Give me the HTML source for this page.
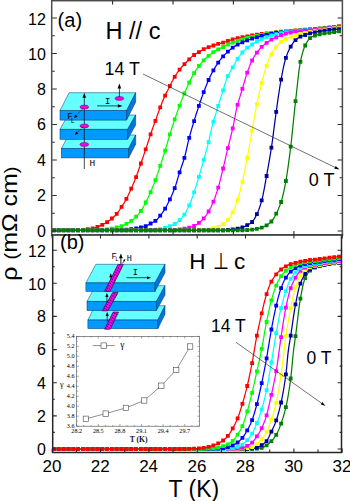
<!DOCTYPE html>
<html lang="en"><head><meta charset="utf-8"><title>Resistivity vs temperature</title>
<style>html,body{margin:0;padding:0;background:#fff;overflow:hidden}svg{display:block}</style></head>
<body>
<svg width="350" height="501" viewBox="0 0 350 501" style="display:block;font-family:'Liberation Sans',Arial,sans-serif">
<rect width="350" height="501" fill="#fff"/>
<defs>
<clipPath id="ca"><rect x="52.2" y="0.6" width="290.0" height="234.0"/></clipPath>
<clipPath id="cb"><rect x="52.2" y="234.6" width="290.0" height="218.00000000000003"/></clipPath>
</defs>
<g clip-path="url(#ca)">
<path d="M60.0,230.2 L60.5,230.2 L61.0,230.2 L61.5,230.2 L62.0,230.2 L62.5,230.2 L63.0,230.2 L63.5,230.2 L64.0,230.2 L64.5,230.2 L65.0,230.2 L65.5,230.2 L66.0,230.2 L66.5,230.2 L67.0,230.2 L67.5,230.2 L68.0,230.2 L68.5,230.2 L69.0,230.2 L69.5,230.2 L70.0,230.2 L70.5,230.1 L71.0,230.1 L71.5,230.1 L72.0,230.1 L72.5,230.1 L73.0,230.1 L73.5,230.1 L74.0,230.1 L74.5,230.1 L75.0,230.1 L75.5,230.1 L76.0,230.1 L76.5,230.1 L77.0,230.1 L77.5,230.0 L78.0,230.0 L78.5,230.0 L79.0,230.0 L79.5,230.0 L80.0,230.0 L80.5,230.0 L81.0,230.0 L81.5,229.9 L82.0,229.9 L82.5,229.9 L83.0,229.8 L83.5,229.8 L84.0,229.7 L84.5,229.6 L85.0,229.6 L85.5,229.5 L86.0,229.5 L86.5,229.4 L87.0,229.3 L87.5,229.3 L88.0,229.2 L88.5,229.1 L89.0,229.1 L89.5,229.0 L90.0,228.9 L90.5,228.8 L91.0,228.7 L91.5,228.6 L92.0,228.5 L92.5,228.4 L93.0,228.3 L93.5,228.2 L94.0,228.0 L94.5,227.9 L95.0,227.8 L95.5,227.6 L96.0,227.5 L96.5,227.3 L97.0,227.1 L97.5,226.9 L98.0,226.8 L98.5,226.6 L99.0,226.3 L99.5,226.1 L100.0,225.9 L100.5,225.7 L101.0,225.5 L101.5,225.2 L102.0,225.0 L102.5,224.7 L103.0,224.5 L103.5,224.2 L104.0,223.9 L104.5,223.7 L105.0,223.4 L105.5,223.1 L106.0,222.8 L106.5,222.5 L107.0,222.1 L107.5,221.8 L108.0,221.5 L108.5,221.1 L109.0,220.8 L109.5,220.4 L110.0,220.0 L110.5,219.7 L111.0,219.3 L111.5,218.9 L112.0,218.4 L112.5,218.0 L113.0,217.6 L113.5,217.1 L114.0,216.7 L114.5,216.2 L115.0,215.7 L115.5,215.2 L116.0,214.7 L116.5,214.1 L117.0,213.5 L117.5,212.9 L118.0,212.2 L118.5,211.5 L119.0,210.8 L119.5,210.0 L120.0,209.3 L120.5,208.5 L121.0,207.7 L121.5,206.9 L122.0,206.2 L122.5,205.4 L123.0,204.6 L123.5,203.9 L124.0,203.1 L124.5,202.2 L125.0,201.4 L125.5,200.5 L126.0,199.6 L126.5,198.7 L127.0,197.8 L127.5,196.8 L128.0,195.7 L128.5,194.7 L129.0,193.6 L129.5,192.5 L130.0,191.4 L130.5,190.3 L131.0,189.2 L131.5,188.1 L132.0,186.9 L132.5,185.8 L133.0,184.6 L133.5,183.4 L134.0,182.2 L134.5,181.0 L135.0,179.8 L135.5,178.5 L136.0,177.2 L136.5,175.9 L137.0,174.5 L137.5,173.2 L138.0,171.8 L138.5,170.3 L139.0,168.9 L139.5,167.5 L140.0,166.0 L140.5,164.6 L141.0,163.2 L141.5,161.7 L142.0,160.3 L142.5,158.8 L143.0,157.4 L143.5,155.9 L144.0,154.4 L144.5,153.0 L145.0,151.5 L145.5,150.0 L146.0,148.5 L146.5,147.0 L147.0,145.4 L147.5,143.9 L148.0,142.3 L148.5,140.7 L149.0,139.2 L149.5,137.6 L150.0,136.1 L150.5,134.6 L151.0,133.1 L151.5,131.7 L152.0,130.2 L152.5,128.8 L153.0,127.4 L153.5,126.0 L154.0,124.7 L154.5,123.3 L155.0,121.9 L155.5,120.5 L156.0,119.1 L156.5,117.7 L157.0,116.3 L157.5,114.9 L158.0,113.5 L158.5,112.1 L159.0,110.7 L159.5,109.3 L160.0,108.0 L160.5,106.7 L161.0,105.4 L161.5,104.1 L162.0,102.8 L162.5,101.5 L163.0,100.3 L163.5,99.1 L164.0,97.9 L164.5,96.8 L165.0,95.7 L165.5,94.6 L166.0,93.6 L166.5,92.6 L167.0,91.6 L167.5,90.7 L168.0,89.7 L168.5,88.8 L169.0,87.8 L169.5,86.8 L170.0,85.8 L170.5,84.8 L171.0,83.8 L171.5,82.8 L172.0,81.7 L172.5,80.8 L173.0,79.8 L173.5,78.9 L174.0,78.0 L174.5,77.2 L175.0,76.3 L175.5,75.5 L176.0,74.7 L176.5,74.0 L177.0,73.2 L177.5,72.5 L178.0,71.8 L178.5,71.1 L179.0,70.4 L179.5,69.8 L180.0,69.1 L180.5,68.5 L181.0,67.9 L181.5,67.3 L182.0,66.8 L182.5,66.2 L183.0,65.7 L183.5,65.1 L184.0,64.6 L184.5,64.1 L185.0,63.5 L185.5,63.0 L186.0,62.5 L186.5,62.0 L187.0,61.5 L187.5,61.1 L188.0,60.6 L188.5,60.1 L189.0,59.6 L189.5,59.1 L190.0,58.6 L190.5,58.1 L191.0,57.6 L191.5,57.1 L192.0,56.6 L192.5,56.2 L193.0,55.8 L193.5,55.4 L194.0,55.0 L194.5,54.7 L195.0,54.4 L195.5,54.1 L196.0,53.8 L196.5,53.5 L197.0,53.2 L197.5,52.9 L198.0,52.7 L198.5,52.4 L199.0,52.1 L199.5,51.7 L200.0,51.4 L200.5,51.1 L201.0,50.8 L201.5,50.5 L202.0,50.2 L202.5,49.9 L203.0,49.6 L203.5,49.4 L204.0,49.1 L204.5,48.9 L205.0,48.7 L205.5,48.5 L206.0,48.2 L206.5,48.0 L207.0,47.8 L207.5,47.7 L208.0,47.5 L208.5,47.3 L209.0,47.1 L209.5,46.9 L210.0,46.7 L210.5,46.5 L211.0,46.3 L211.5,46.1 L212.0,45.9 L212.5,45.8 L213.0,45.6 L213.5,45.4 L214.0,45.3 L214.5,45.1 L215.0,44.9 L215.5,44.8 L216.0,44.6 L216.5,44.5 L217.0,44.3 L217.5,44.2 L218.0,44.0 L218.5,43.9 L219.0,43.7 L219.5,43.6 L220.0,43.4 L220.5,43.3 L221.0,43.2 L221.5,43.0 L222.0,42.9 L222.5,42.7 L223.0,42.6 L223.5,42.4 L224.0,42.3 L224.5,42.1 L225.0,42.0 L225.5,41.8 L226.0,41.7 L226.5,41.5 L227.0,41.3 L227.5,41.2 L228.0,41.0 L228.5,40.8 L229.0,40.7 L229.5,40.5 L230.0,40.3 L230.5,40.2 L231.0,40.0 L231.5,39.8 L232.0,39.7 L232.5,39.5 L233.0,39.4 L233.5,39.2 L234.0,39.1 L234.5,39.0 L235.0,38.9 L235.5,38.7 L236.0,38.6 L236.5,38.5 L237.0,38.4 L237.5,38.3 L238.0,38.1 L238.5,38.0 L239.0,37.9 L239.5,37.8 L240.0,37.7 L240.5,37.6 L241.0,37.5 L241.5,37.4 L242.0,37.3 L242.5,37.2 L243.0,37.1 L243.5,37.0 L244.0,36.9 L244.5,36.8 L245.0,36.7 L245.5,36.6 L246.0,36.5 L246.5,36.4 L247.0,36.3 L247.5,36.2 L248.0,36.1 L248.5,36.0 L249.0,36.0 L249.5,35.9 L250.0,35.8 L250.5,35.7 L251.0,35.6 L251.5,35.5 L252.0,35.4 L252.5,35.3 L253.0,35.3 L253.5,35.2 L254.0,35.1 L254.5,35.0 L255.0,34.9 L255.5,34.9 L256.0,34.8 L256.5,34.7 L257.0,34.6 L257.5,34.6 L258.0,34.5 L258.5,34.4 L259.0,34.3 L259.5,34.3 L260.0,34.2 L260.5,34.1 L261.0,34.1 L261.5,34.0 L262.0,33.9 L262.5,33.9 L263.0,33.8 L263.5,33.7 L264.0,33.7 L264.5,33.6 L265.0,33.5 L265.5,33.5 L266.0,33.4 L266.5,33.3 L267.0,33.3 L267.5,33.2 L268.0,33.2 L268.5,33.1 L269.0,33.0 L269.5,33.0 L270.0,32.9 L270.5,32.9 L271.0,32.8 L271.5,32.8 L272.0,32.7 L272.5,32.6 L273.0,32.6 L273.5,32.5 L274.0,32.5 L274.5,32.4 L275.0,32.4 L275.5,32.3 L276.0,32.3 L276.5,32.2 L277.0,32.2 L277.5,32.1 L278.0,32.1 L278.5,32.0 L279.0,32.0 L279.5,31.9 L280.0,31.9 L280.5,31.8 L281.0,31.8 L281.5,31.7 L282.0,31.7 L282.5,31.6 L283.0,31.6 L283.5,31.5 L284.0,31.5 L284.5,31.4 L285.0,31.4 L285.5,31.3 L286.0,31.3 L286.5,31.2 L287.0,31.2 L287.5,31.1 L288.0,31.1 L288.5,31.0 L289.0,31.0 L289.5,30.9 L290.0,30.9 L290.5,30.9 L291.0,30.8 L291.5,30.8 L292.0,30.7 L292.5,30.7 L293.0,30.6 L293.5,30.6 L294.0,30.5 L294.5,30.5 L295.0,30.5 L295.5,30.4 L296.0,30.4 L296.5,30.3 L297.0,30.3 L297.5,30.2 L298.0,30.2 L298.5,30.2 L299.0,30.1 L299.5,30.1 L300.0,30.0 L300.5,30.0 L301.0,30.0 L301.5,29.9 L302.0,29.9 L302.5,29.8 L303.0,29.8 L303.5,29.7 L304.0,29.7 L304.5,29.7 L305.0,29.6 L305.5,29.6 L306.0,29.5 L306.5,29.5 L307.0,29.5 L307.5,29.4 L308.0,29.4 L308.5,29.3 L309.0,29.3 L309.5,29.2 L310.0,29.2 L310.5,29.2 L311.0,29.1 L311.5,29.1 L312.0,29.0 L312.5,29.0 L313.0,28.9 L313.5,28.9 L314.0,28.9 L314.5,28.8 L315.0,28.8 L315.5,28.7 L316.0,28.7 L316.5,28.6 L317.0,28.6 L317.5,28.5 L318.0,28.5 L318.5,28.4 L319.0,28.4 L319.5,28.4 L320.0,28.3 L320.5,28.3 L321.0,28.2 L321.5,28.2 L322.0,28.1 L322.5,28.1 L323.0,28.0 L323.5,28.0 L324.0,27.9 L324.5,27.9 L325.0,27.8 L325.5,27.8 L326.0,27.7 L326.5,27.7 L327.0,27.6 L327.5,27.6 L328.0,27.5 L328.5,27.5 L329.0,27.4 L329.5,27.4 L330.0,27.3 L330.5,27.2 L331.0,27.2 L331.5,27.1 L332.0,27.1 L332.5,27.0 L333.0,26.9 L333.5,26.9 L334.0,26.8 L334.5,26.7 L335.0,26.7 L335.5,26.6 L336.0,26.5 L336.5,26.5 L337.0,26.4 L337.5,26.3 L338.0,26.2 L338.5,26.2 L339.0,26.1 L339.5,26.0 L340.0,26.0 L340.5,25.9 L341.0,25.8" fill="none" stroke="#ff0000" stroke-width="1.25" stroke-linejoin="round"/>
<path d="M52.0,228.3h3.8v3.8h-3.8zM56.8,228.3h3.8v3.8h-3.8zM61.7,228.3h3.8v3.8h-3.8zM66.5,228.3h3.8v3.8h-3.8zM71.3,228.2h3.8v3.8h-3.8zM76.2,228.1h3.8v3.8h-3.8zM81.0,227.9h3.8v3.8h-3.8zM85.8,227.3h3.8v3.8h-3.8zM90.7,226.5h3.8v3.8h-3.8zM95.5,225.1h3.8v3.8h-3.8zM100.3,223.0h3.8v3.8h-3.8zM105.2,220.2h3.8v3.8h-3.8zM110.0,216.6h3.8v3.8h-3.8zM114.8,212.0h3.8v3.8h-3.8zM119.7,205.0h3.8v3.8h-3.8zM124.5,197.0h3.8v3.8h-3.8zM129.3,186.8h3.8v3.8h-3.8zM134.2,175.2h3.8v3.8h-3.8zM139.0,161.6h3.8v3.8h-3.8zM143.8,147.4h3.8v3.8h-3.8zM148.7,132.5h3.8v3.8h-3.8zM153.5,118.9h3.8v3.8h-3.8zM158.3,105.5h3.8v3.8h-3.8zM163.2,93.7h3.8v3.8h-3.8zM168.0,84.1h3.8v3.8h-3.8zM172.8,74.9h3.8v3.8h-3.8zM177.7,67.8h3.8v3.8h-3.8zM182.5,62.3h3.8v3.8h-3.8zM187.3,57.5h3.8v3.8h-3.8zM192.2,53.1h3.8v3.8h-3.8zM197.0,50.2h3.8v3.8h-3.8zM201.8,47.3h3.8v3.8h-3.8zM206.7,45.3h3.8v3.8h-3.8zM211.5,43.6h3.8v3.8h-3.8zM216.3,42.0h3.8v3.8h-3.8zM221.2,40.7h3.8v3.8h-3.8zM226.0,39.1h3.8v3.8h-3.8zM230.8,37.5h3.8v3.8h-3.8zM235.7,36.3h3.8v3.8h-3.8zM240.5,35.3h3.8v3.8h-3.8zM245.3,34.4h3.8v3.8h-3.8zM250.2,33.5h3.8v3.8h-3.8zM255.0,32.8h3.8v3.8h-3.8zM259.8,32.1h3.8v3.8h-3.8zM264.7,31.4h3.8v3.8h-3.8zM269.5,30.9h3.8v3.8h-3.8zM274.3,30.3h3.8v3.8h-3.8zM279.2,29.8h3.8v3.8h-3.8zM284.0,29.4h3.8v3.8h-3.8zM288.8,28.9h3.8v3.8h-3.8zM293.6,28.5h3.8v3.8h-3.8zM298.5,28.1h3.8v3.8h-3.8zM303.3,27.7h3.8v3.8h-3.8zM308.1,27.3h3.8v3.8h-3.8zM313.0,26.9h3.8v3.8h-3.8zM317.8,26.4h3.8v3.8h-3.8zM322.6,26.0h3.8v3.8h-3.8zM327.5,25.5h3.8v3.8h-3.8zM332.3,24.9h3.8v3.8h-3.8zM337.1,24.2h3.8v3.8h-3.8z" fill="#ff0000"/>
</g>
<g clip-path="url(#ca)">
<path d="M60.0,230.2 L60.5,230.2 L61.0,230.2 L61.5,230.2 L62.0,230.2 L62.5,230.2 L63.0,230.2 L63.5,230.2 L64.0,230.2 L64.5,230.2 L65.0,230.2 L65.5,230.2 L66.0,230.2 L66.5,230.2 L67.0,230.2 L67.5,230.2 L68.0,230.2 L68.5,230.2 L69.0,230.2 L69.5,230.2 L70.0,230.2 L70.5,230.2 L71.0,230.2 L71.5,230.2 L72.0,230.2 L72.5,230.2 L73.0,230.2 L73.5,230.2 L74.0,230.2 L74.5,230.2 L75.0,230.2 L75.5,230.2 L76.0,230.2 L76.5,230.2 L77.0,230.2 L77.5,230.2 L78.0,230.2 L78.5,230.2 L79.0,230.2 L79.5,230.2 L80.0,230.2 L80.5,230.2 L81.0,230.2 L81.5,230.2 L82.0,230.1 L82.5,230.1 L83.0,230.1 L83.5,230.1 L84.0,230.1 L84.5,230.1 L85.0,230.1 L85.5,230.1 L86.0,230.1 L86.5,230.1 L87.0,230.1 L87.5,230.1 L88.0,230.1 L88.5,230.1 L89.0,230.1 L89.5,230.1 L90.0,230.1 L90.5,230.1 L91.0,230.1 L91.5,230.1 L92.0,230.1 L92.5,230.1 L93.0,230.1 L93.5,230.1 L94.0,230.1 L94.5,230.1 L95.0,230.1 L95.5,230.0 L96.0,230.0 L96.5,230.0 L97.0,230.0 L97.5,230.0 L98.0,230.0 L98.5,230.0 L99.0,230.0 L99.5,230.0 L100.0,230.0 L100.5,230.0 L101.0,230.0 L101.5,230.0 L102.0,229.9 L102.5,229.9 L103.0,229.9 L103.5,229.8 L104.0,229.8 L104.5,229.7 L105.0,229.7 L105.5,229.6 L106.0,229.6 L106.5,229.5 L107.0,229.5 L107.5,229.4 L108.0,229.4 L108.5,229.3 L109.0,229.2 L109.5,229.1 L110.0,229.0 L110.5,228.9 L111.0,228.8 L111.5,228.7 L112.0,228.6 L112.5,228.5 L113.0,228.4 L113.5,228.3 L114.0,228.2 L114.5,228.0 L115.0,227.9 L115.5,227.8 L116.0,227.6 L116.5,227.5 L117.0,227.4 L117.5,227.2 L118.0,227.1 L118.5,227.0 L119.0,226.9 L119.5,226.7 L120.0,226.6 L120.5,226.4 L121.0,226.3 L121.5,226.1 L122.0,225.9 L122.5,225.7 L123.0,225.5 L123.5,225.3 L124.0,225.1 L124.5,224.8 L125.0,224.6 L125.5,224.3 L126.0,224.1 L126.5,223.8 L127.0,223.6 L127.5,223.3 L128.0,223.0 L128.5,222.7 L129.0,222.4 L129.5,222.1 L130.0,221.8 L130.5,221.4 L131.0,221.1 L131.5,220.7 L132.0,220.3 L132.5,219.9 L133.0,219.5 L133.5,219.1 L134.0,218.6 L134.5,218.2 L135.0,217.7 L135.5,217.2 L136.0,216.7 L136.5,216.2 L137.0,215.7 L137.5,215.2 L138.0,214.6 L138.5,214.1 L139.0,213.5 L139.5,212.8 L140.0,212.2 L140.5,211.5 L141.0,210.8 L141.5,210.1 L142.0,209.3 L142.5,208.4 L143.0,207.6 L143.5,206.7 L144.0,205.8 L144.5,204.8 L145.0,203.9 L145.5,202.9 L146.0,202.0 L146.5,201.0 L147.0,199.9 L147.5,198.9 L148.0,197.8 L148.5,196.7 L149.0,195.6 L149.5,194.5 L150.0,193.4 L150.5,192.3 L151.0,191.1 L151.5,189.9 L152.0,188.7 L152.5,187.5 L153.0,186.3 L153.5,185.0 L154.0,183.8 L154.5,182.5 L155.0,181.1 L155.5,179.8 L156.0,178.4 L156.5,177.0 L157.0,175.5 L157.5,174.1 L158.0,172.6 L158.5,171.1 L159.0,169.6 L159.5,168.1 L160.0,166.6 L160.5,165.1 L161.0,163.6 L161.5,162.0 L162.0,160.5 L162.5,158.9 L163.0,157.3 L163.5,155.8 L164.0,154.2 L164.5,152.5 L165.0,150.9 L165.5,149.3 L166.0,147.6 L166.5,145.9 L167.0,144.2 L167.5,142.4 L168.0,140.7 L168.5,139.0 L169.0,137.3 L169.5,135.7 L170.0,134.1 L170.5,132.5 L171.0,130.9 L171.5,129.3 L172.0,127.7 L172.5,126.2 L173.0,124.6 L173.5,123.1 L174.0,121.6 L174.5,120.1 L175.0,118.6 L175.5,117.1 L176.0,115.6 L176.5,114.2 L177.0,112.7 L177.5,111.3 L178.0,109.9 L178.5,108.5 L179.0,107.1 L179.5,105.7 L180.0,104.4 L180.5,103.1 L181.0,101.8 L181.5,100.5 L182.0,99.3 L182.5,98.0 L183.0,96.8 L183.5,95.6 L184.0,94.4 L184.5,93.2 L185.0,92.0 L185.5,90.8 L186.0,89.7 L186.5,88.5 L187.0,87.4 L187.5,86.3 L188.0,85.1 L188.5,84.1 L189.0,83.0 L189.5,82.0 L190.0,80.9 L190.5,79.9 L191.0,78.9 L191.5,77.9 L192.0,76.9 L192.5,76.0 L193.0,75.1 L193.5,74.2 L194.0,73.3 L194.5,72.5 L195.0,71.7 L195.5,70.9 L196.0,70.1 L196.5,69.4 L197.0,68.6 L197.5,67.9 L198.0,67.2 L198.5,66.5 L199.0,65.9 L199.5,65.2 L200.0,64.6 L200.5,63.9 L201.0,63.3 L201.5,62.7 L202.0,62.1 L202.5,61.6 L203.0,61.0 L203.5,60.5 L204.0,60.0 L204.5,59.5 L205.0,59.0 L205.5,58.5 L206.0,58.1 L206.5,57.6 L207.0,57.2 L207.5,56.8 L208.0,56.3 L208.5,55.9 L209.0,55.5 L209.5,55.1 L210.0,54.7 L210.5,54.3 L211.0,53.9 L211.5,53.5 L212.0,53.1 L212.5,52.7 L213.0,52.4 L213.5,52.1 L214.0,51.7 L214.5,51.4 L215.0,51.1 L215.5,50.8 L216.0,50.5 L216.5,50.2 L217.0,49.9 L217.5,49.7 L218.0,49.4 L218.5,49.1 L219.0,48.9 L219.5,48.6 L220.0,48.4 L220.5,48.2 L221.0,47.9 L221.5,47.7 L222.0,47.5 L222.5,47.2 L223.0,47.0 L223.5,46.8 L224.0,46.5 L224.5,46.2 L225.0,46.0 L225.5,45.7 L226.0,45.5 L226.5,45.2 L227.0,45.0 L227.5,44.7 L228.0,44.5 L228.5,44.3 L229.0,44.1 L229.5,43.9 L230.0,43.6 L230.5,43.4 L231.0,43.2 L231.5,43.0 L232.0,42.8 L232.5,42.7 L233.0,42.5 L233.5,42.3 L234.0,42.1 L234.5,41.9 L235.0,41.7 L235.5,41.6 L236.0,41.4 L236.5,41.2 L237.0,41.0 L237.5,40.9 L238.0,40.7 L238.5,40.5 L239.0,40.4 L239.5,40.2 L240.0,40.0 L240.5,39.9 L241.0,39.7 L241.5,39.6 L242.0,39.4 L242.5,39.3 L243.0,39.1 L243.5,39.0 L244.0,38.8 L244.5,38.7 L245.0,38.6 L245.5,38.4 L246.0,38.3 L246.5,38.2 L247.0,38.0 L247.5,37.9 L248.0,37.8 L248.5,37.7 L249.0,37.5 L249.5,37.4 L250.0,37.3 L250.5,37.2 L251.0,37.1 L251.5,36.9 L252.0,36.8 L252.5,36.7 L253.0,36.6 L253.5,36.5 L254.0,36.4 L254.5,36.3 L255.0,36.2 L255.5,36.1 L256.0,36.0 L256.5,35.9 L257.0,35.8 L257.5,35.7 L258.0,35.6 L258.5,35.5 L259.0,35.4 L259.5,35.3 L260.0,35.2 L260.5,35.1 L261.0,35.0 L261.5,34.9 L262.0,34.8 L262.5,34.7 L263.0,34.6 L263.5,34.5 L264.0,34.4 L264.5,34.3 L265.0,34.2 L265.5,34.2 L266.0,34.1 L266.5,34.0 L267.0,33.9 L267.5,33.8 L268.0,33.7 L268.5,33.7 L269.0,33.6 L269.5,33.5 L270.0,33.4 L270.5,33.3 L271.0,33.3 L271.5,33.2 L272.0,33.1 L272.5,33.0 L273.0,33.0 L273.5,32.9 L274.0,32.8 L274.5,32.8 L275.0,32.7 L275.5,32.6 L276.0,32.6 L276.5,32.5 L277.0,32.4 L277.5,32.4 L278.0,32.3 L278.5,32.3 L279.0,32.2 L279.5,32.1 L280.0,32.1 L280.5,32.0 L281.0,32.0 L281.5,31.9 L282.0,31.9 L282.5,31.8 L283.0,31.8 L283.5,31.7 L284.0,31.7 L284.5,31.6 L285.0,31.6 L285.5,31.5 L286.0,31.5 L286.5,31.4 L287.0,31.4 L287.5,31.3 L288.0,31.3 L288.5,31.2 L289.0,31.2 L289.5,31.1 L290.0,31.1 L290.5,31.1 L291.0,31.0 L291.5,31.0 L292.0,30.9 L292.5,30.9 L293.0,30.8 L293.5,30.8 L294.0,30.8 L294.5,30.7 L295.0,30.7 L295.5,30.6 L296.0,30.6 L296.5,30.6 L297.0,30.5 L297.5,30.5 L298.0,30.4 L298.5,30.4 L299.0,30.4 L299.5,30.3 L300.0,30.3 L300.5,30.3 L301.0,30.2 L301.5,30.2 L302.0,30.2 L302.5,30.1 L303.0,30.1 L303.5,30.1 L304.0,30.0 L304.5,30.0 L305.0,29.9 L305.5,29.9 L306.0,29.9 L306.5,29.8 L307.0,29.8 L307.5,29.8 L308.0,29.7 L308.5,29.7 L309.0,29.6 L309.5,29.6 L310.0,29.6 L310.5,29.5 L311.0,29.5 L311.5,29.5 L312.0,29.4 L312.5,29.4 L313.0,29.3 L313.5,29.3 L314.0,29.2 L314.5,29.2 L315.0,29.2 L315.5,29.1 L316.0,29.1 L316.5,29.0 L317.0,29.0 L317.5,28.9 L318.0,28.9 L318.5,28.8 L319.0,28.8 L319.5,28.7 L320.0,28.7 L320.5,28.7 L321.0,28.6 L321.5,28.6 L322.0,28.5 L322.5,28.5 L323.0,28.4 L323.5,28.4 L324.0,28.3 L324.5,28.3 L325.0,28.2 L325.5,28.1 L326.0,28.1 L326.5,28.0 L327.0,28.0 L327.5,27.9 L328.0,27.9 L328.5,27.8 L329.0,27.8 L329.5,27.7 L330.0,27.7 L330.5,27.6 L331.0,27.6 L331.5,27.5 L332.0,27.4 L332.5,27.4 L333.0,27.3 L333.5,27.3 L334.0,27.2 L334.5,27.2 L335.0,27.1 L335.5,27.1 L336.0,27.0 L336.5,26.9 L337.0,26.9 L337.5,26.8 L338.0,26.8 L338.5,26.7 L339.0,26.6 L339.5,26.6 L340.0,26.5 L340.5,26.5 L341.0,26.4" fill="none" stroke="#00ff00" stroke-width="1.25" stroke-linejoin="round"/>
<path d="M52.0,228.3h3.8v3.8h-3.8zM56.8,228.3h3.8v3.8h-3.8zM61.7,228.3h3.8v3.8h-3.8zM66.5,228.3h3.8v3.8h-3.8zM71.3,228.3h3.8v3.8h-3.8zM76.2,228.3h3.8v3.8h-3.8zM81.0,228.2h3.8v3.8h-3.8zM85.8,228.2h3.8v3.8h-3.8zM90.7,228.2h3.8v3.8h-3.8zM95.5,228.1h3.8v3.8h-3.8zM100.3,228.0h3.8v3.8h-3.8zM105.2,227.6h3.8v3.8h-3.8zM110.0,226.8h3.8v3.8h-3.8zM114.8,225.5h3.8v3.8h-3.8zM119.7,224.2h3.8v3.8h-3.8zM124.5,222.0h3.8v3.8h-3.8zM129.3,219.0h3.8v3.8h-3.8zM134.2,214.8h3.8v3.8h-3.8zM139.0,209.1h3.8v3.8h-3.8zM143.8,200.6h3.8v3.8h-3.8zM148.7,190.2h3.8v3.8h-3.8zM153.5,178.2h3.8v3.8h-3.8zM158.3,164.0h3.8v3.8h-3.8zM163.2,148.8h3.8v3.8h-3.8zM168.0,132.5h3.8v3.8h-3.8zM172.8,117.5h3.8v3.8h-3.8zM177.7,103.7h3.8v3.8h-3.8zM182.5,91.6h3.8v3.8h-3.8zM187.3,80.6h3.8v3.8h-3.8zM192.2,71.3h3.8v3.8h-3.8zM197.0,64.1h3.8v3.8h-3.8zM201.8,58.4h3.8v3.8h-3.8zM206.7,54.0h3.8v3.8h-3.8zM211.5,50.2h3.8v3.8h-3.8zM216.3,47.4h3.8v3.8h-3.8zM221.2,45.1h3.8v3.8h-3.8zM226.0,42.6h3.8v3.8h-3.8zM230.8,40.7h3.8v3.8h-3.8zM235.7,38.9h3.8v3.8h-3.8zM240.5,37.4h3.8v3.8h-3.8zM245.3,36.1h3.8v3.8h-3.8zM250.2,34.9h3.8v3.8h-3.8zM255.0,33.9h3.8v3.8h-3.8zM259.8,32.9h3.8v3.8h-3.8zM264.7,32.1h3.8v3.8h-3.8zM269.5,31.3h3.8v3.8h-3.8zM274.3,30.6h3.8v3.8h-3.8zM279.2,30.1h3.8v3.8h-3.8zM284.0,29.6h3.8v3.8h-3.8zM288.8,29.1h3.8v3.8h-3.8zM293.6,28.7h3.8v3.8h-3.8zM298.5,28.4h3.8v3.8h-3.8zM303.3,28.0h3.8v3.8h-3.8zM308.1,27.7h3.8v3.8h-3.8zM313.0,27.3h3.8v3.8h-3.8zM317.8,26.8h3.8v3.8h-3.8zM322.6,26.3h3.8v3.8h-3.8zM327.5,25.8h3.8v3.8h-3.8zM332.3,25.3h3.8v3.8h-3.8zM337.1,24.7h3.8v3.8h-3.8z" fill="#00ff00"/>
</g>
<g clip-path="url(#ca)">
<path d="M60.0,230.2 L60.5,230.2 L61.0,230.2 L61.5,230.2 L62.0,230.2 L62.5,230.2 L63.0,230.2 L63.5,230.2 L64.0,230.2 L64.5,230.2 L65.0,230.2 L65.5,230.2 L66.0,230.2 L66.5,230.2 L67.0,230.2 L67.5,230.2 L68.0,230.2 L68.5,230.2 L69.0,230.2 L69.5,230.2 L70.0,230.2 L70.5,230.2 L71.0,230.2 L71.5,230.2 L72.0,230.2 L72.5,230.2 L73.0,230.2 L73.5,230.2 L74.0,230.2 L74.5,230.2 L75.0,230.2 L75.5,230.2 L76.0,230.2 L76.5,230.2 L77.0,230.2 L77.5,230.2 L78.0,230.2 L78.5,230.2 L79.0,230.2 L79.5,230.2 L80.0,230.2 L80.5,230.2 L81.0,230.2 L81.5,230.2 L82.0,230.2 L82.5,230.2 L83.0,230.2 L83.5,230.2 L84.0,230.2 L84.5,230.2 L85.0,230.2 L85.5,230.2 L86.0,230.2 L86.5,230.2 L87.0,230.2 L87.5,230.2 L88.0,230.2 L88.5,230.2 L89.0,230.2 L89.5,230.2 L90.0,230.2 L90.5,230.2 L91.0,230.2 L91.5,230.2 L92.0,230.2 L92.5,230.2 L93.0,230.2 L93.5,230.2 L94.0,230.1 L94.5,230.1 L95.0,230.1 L95.5,230.1 L96.0,230.1 L96.5,230.1 L97.0,230.1 L97.5,230.1 L98.0,230.1 L98.5,230.1 L99.0,230.1 L99.5,230.1 L100.0,230.1 L100.5,230.1 L101.0,230.1 L101.5,230.1 L102.0,230.1 L102.5,230.1 L103.0,230.1 L103.5,230.1 L104.0,230.1 L104.5,230.1 L105.0,230.1 L105.5,230.1 L106.0,230.1 L106.5,230.1 L107.0,230.1 L107.5,230.1 L108.0,230.1 L108.5,230.1 L109.0,230.1 L109.5,230.1 L110.0,230.1 L110.5,230.1 L111.0,230.1 L111.5,230.1 L112.0,230.1 L112.5,230.1 L113.0,230.1 L113.5,230.0 L114.0,230.0 L114.5,230.0 L115.0,230.0 L115.5,230.0 L116.0,230.0 L116.5,230.0 L117.0,230.0 L117.5,230.0 L118.0,230.0 L118.5,230.0 L119.0,230.0 L119.5,230.0 L120.0,230.0 L120.5,230.0 L121.0,230.0 L121.5,230.0 L122.0,229.9 L122.5,229.9 L123.0,229.9 L123.5,229.8 L124.0,229.8 L124.5,229.7 L125.0,229.7 L125.5,229.6 L126.0,229.6 L126.5,229.5 L127.0,229.5 L127.5,229.4 L128.0,229.4 L128.5,229.4 L129.0,229.3 L129.5,229.3 L130.0,229.2 L130.5,229.2 L131.0,229.1 L131.5,229.1 L132.0,229.0 L132.5,229.0 L133.0,228.9 L133.5,228.8 L134.0,228.8 L134.5,228.7 L135.0,228.6 L135.5,228.6 L136.0,228.5 L136.5,228.4 L137.0,228.3 L137.5,228.2 L138.0,228.1 L138.5,228.0 L139.0,227.8 L139.5,227.7 L140.0,227.6 L140.5,227.5 L141.0,227.4 L141.5,227.3 L142.0,227.2 L142.5,227.0 L143.0,226.9 L143.5,226.8 L144.0,226.7 L144.5,226.5 L145.0,226.4 L145.5,226.2 L146.0,226.0 L146.5,225.8 L147.0,225.6 L147.5,225.3 L148.0,225.0 L148.5,224.8 L149.0,224.5 L149.5,224.2 L150.0,223.9 L150.5,223.6 L151.0,223.3 L151.5,223.0 L152.0,222.8 L152.5,222.5 L153.0,222.3 L153.5,222.0 L154.0,221.8 L154.5,221.5 L155.0,221.1 L155.5,220.8 L156.0,220.4 L156.5,220.0 L157.0,219.5 L157.5,219.0 L158.0,218.4 L158.5,217.8 L159.0,217.2 L159.5,216.5 L160.0,215.9 L160.5,215.2 L161.0,214.6 L161.5,213.9 L162.0,213.3 L162.5,212.6 L163.0,211.8 L163.5,211.1 L164.0,210.4 L164.5,209.6 L165.0,208.8 L165.5,207.9 L166.0,207.1 L166.5,206.1 L167.0,205.2 L167.5,204.2 L168.0,203.2 L168.5,202.2 L169.0,201.2 L169.5,200.2 L170.0,199.1 L170.5,198.0 L171.0,197.0 L171.5,195.9 L172.0,194.8 L172.5,193.7 L173.0,192.5 L173.5,191.3 L174.0,190.1 L174.5,188.8 L175.0,187.4 L175.5,186.0 L176.0,184.4 L176.5,182.8 L177.0,181.1 L177.5,179.3 L178.0,177.6 L178.5,175.9 L179.0,174.2 L179.5,172.6 L180.0,171.0 L180.5,169.6 L181.0,168.1 L181.5,166.7 L182.0,165.2 L182.5,163.8 L183.0,162.3 L183.5,160.8 L184.0,159.2 L184.5,157.5 L185.0,155.6 L185.5,153.6 L186.0,151.5 L186.5,149.3 L187.0,147.1 L187.5,144.9 L188.0,142.7 L188.5,140.6 L189.0,138.6 L189.5,136.7 L190.0,134.9 L190.5,133.1 L191.0,131.4 L191.5,129.6 L192.0,127.9 L192.5,126.3 L193.0,124.6 L193.5,122.9 L194.0,121.3 L194.5,119.6 L195.0,118.0 L195.5,116.4 L196.0,114.8 L196.5,113.3 L197.0,111.7 L197.5,110.1 L198.0,108.6 L198.5,107.1 L199.0,105.6 L199.5,104.1 L200.0,102.6 L200.5,101.2 L201.0,99.7 L201.5,98.3 L202.0,96.9 L202.5,95.5 L203.0,94.1 L203.5,92.7 L204.0,91.4 L204.5,90.1 L205.0,88.8 L205.5,87.5 L206.0,86.2 L206.5,84.9 L207.0,83.7 L207.5,82.5 L208.0,81.3 L208.5,80.2 L209.0,79.1 L209.5,78.0 L210.0,76.9 L210.5,75.9 L211.0,74.8 L211.5,73.8 L212.0,72.9 L212.5,71.9 L213.0,71.0 L213.5,70.1 L214.0,69.2 L214.5,68.4 L215.0,67.6 L215.5,66.8 L216.0,66.0 L216.5,65.2 L217.0,64.5 L217.5,63.7 L218.0,63.0 L218.5,62.3 L219.0,61.6 L219.5,60.9 L220.0,60.2 L220.5,59.6 L221.0,58.9 L221.5,58.3 L222.0,57.7 L222.5,57.1 L223.0,56.5 L223.5,55.9 L224.0,55.4 L224.5,54.9 L225.0,54.4 L225.5,53.9 L226.0,53.4 L226.5,52.9 L227.0,52.4 L227.5,52.0 L228.0,51.5 L228.5,51.1 L229.0,50.6 L229.5,50.2 L230.0,49.8 L230.5,49.3 L231.0,48.9 L231.5,48.5 L232.0,48.2 L232.5,47.8 L233.0,47.4 L233.5,47.1 L234.0,46.7 L234.5,46.4 L235.0,46.1 L235.5,45.8 L236.0,45.5 L236.5,45.2 L237.0,44.9 L237.5,44.6 L238.0,44.3 L238.5,44.1 L239.0,43.8 L239.5,43.6 L240.0,43.4 L240.5,43.1 L241.0,42.9 L241.5,42.7 L242.0,42.5 L242.5,42.2 L243.0,42.0 L243.5,41.8 L244.0,41.6 L244.5,41.4 L245.0,41.1 L245.5,40.9 L246.0,40.7 L246.5,40.5 L247.0,40.3 L247.5,40.2 L248.0,40.0 L248.5,39.8 L249.0,39.6 L249.5,39.5 L250.0,39.3 L250.5,39.1 L251.0,39.0 L251.5,38.8 L252.0,38.7 L252.5,38.5 L253.0,38.4 L253.5,38.2 L254.0,38.1 L254.5,37.9 L255.0,37.8 L255.5,37.6 L256.0,37.5 L256.5,37.4 L257.0,37.2 L257.5,37.1 L258.0,37.0 L258.5,36.8 L259.0,36.7 L259.5,36.5 L260.0,36.4 L260.5,36.3 L261.0,36.2 L261.5,36.0 L262.0,35.9 L262.5,35.8 L263.0,35.6 L263.5,35.5 L264.0,35.4 L264.5,35.3 L265.0,35.2 L265.5,35.0 L266.0,34.9 L266.5,34.8 L267.0,34.7 L267.5,34.6 L268.0,34.5 L268.5,34.4 L269.0,34.3 L269.5,34.2 L270.0,34.1 L270.5,33.9 L271.0,33.8 L271.5,33.7 L272.0,33.6 L272.5,33.5 L273.0,33.5 L273.5,33.4 L274.0,33.3 L274.5,33.2 L275.0,33.1 L275.5,33.0 L276.0,33.0 L276.5,32.9 L277.0,32.8 L277.5,32.7 L278.0,32.7 L278.5,32.6 L279.0,32.6 L279.5,32.5 L280.0,32.4 L280.5,32.4 L281.0,32.3 L281.5,32.3 L282.0,32.2 L282.5,32.1 L283.0,32.1 L283.5,32.0 L284.0,32.0 L284.5,31.9 L285.0,31.9 L285.5,31.8 L286.0,31.8 L286.5,31.7 L287.0,31.7 L287.5,31.6 L288.0,31.6 L288.5,31.5 L289.0,31.5 L289.5,31.4 L290.0,31.4 L290.5,31.4 L291.0,31.3 L291.5,31.3 L292.0,31.2 L292.5,31.2 L293.0,31.1 L293.5,31.1 L294.0,31.0 L294.5,31.0 L295.0,31.0 L295.5,30.9 L296.0,30.9 L296.5,30.9 L297.0,30.8 L297.5,30.8 L298.0,30.7 L298.5,30.7 L299.0,30.7 L299.5,30.6 L300.0,30.6 L300.5,30.6 L301.0,30.5 L301.5,30.5 L302.0,30.4 L302.5,30.4 L303.0,30.4 L303.5,30.3 L304.0,30.3 L304.5,30.3 L305.0,30.2 L305.5,30.2 L306.0,30.2 L306.5,30.1 L307.0,30.1 L307.5,30.1 L308.0,30.0 L308.5,30.0 L309.0,29.9 L309.5,29.9 L310.0,29.9 L310.5,29.8 L311.0,29.8 L311.5,29.7 L312.0,29.7 L312.5,29.7 L313.0,29.6 L313.5,29.6 L314.0,29.5 L314.5,29.5 L315.0,29.5 L315.5,29.4 L316.0,29.4 L316.5,29.3 L317.0,29.3 L317.5,29.2 L318.0,29.2 L318.5,29.1 L319.0,29.1 L319.5,29.1 L320.0,29.0 L320.5,29.0 L321.0,28.9 L321.5,28.9 L322.0,28.8 L322.5,28.8 L323.0,28.7 L323.5,28.7 L324.0,28.6 L324.5,28.6 L325.0,28.5 L325.5,28.5 L326.0,28.4 L326.5,28.4 L327.0,28.3 L327.5,28.3 L328.0,28.2 L328.5,28.2 L329.0,28.1 L329.5,28.1 L330.0,28.0 L330.5,28.0 L331.0,27.9 L331.5,27.9 L332.0,27.8 L332.5,27.7 L333.0,27.7 L333.5,27.6 L334.0,27.6 L334.5,27.5 L335.0,27.5 L335.5,27.4 L336.0,27.4 L336.5,27.3 L337.0,27.3 L337.5,27.2 L338.0,27.1 L338.5,27.1 L339.0,27.0 L339.5,27.0 L340.0,26.9 L340.5,26.9 L341.0,26.8" fill="none" stroke="#0000ff" stroke-width="1.25" stroke-linejoin="round"/>
<path d="M52.0,228.3h3.8v3.8h-3.8zM56.8,228.3h3.8v3.8h-3.8zM61.7,228.3h3.8v3.8h-3.8zM66.5,228.3h3.8v3.8h-3.8zM71.3,228.3h3.8v3.8h-3.8zM76.2,228.3h3.8v3.8h-3.8zM81.0,228.3h3.8v3.8h-3.8zM85.8,228.3h3.8v3.8h-3.8zM90.7,228.3h3.8v3.8h-3.8zM95.5,228.2h3.8v3.8h-3.8zM100.3,228.2h3.8v3.8h-3.8zM105.2,228.2h3.8v3.8h-3.8zM110.0,228.2h3.8v3.8h-3.8zM114.8,228.1h3.8v3.8h-3.8zM119.7,228.1h3.8v3.8h-3.8zM124.5,227.7h3.8v3.8h-3.8zM129.3,227.2h3.8v3.8h-3.8zM134.2,226.6h3.8v3.8h-3.8zM139.0,225.5h3.8v3.8h-3.8zM143.8,224.2h3.8v3.8h-3.8zM148.7,221.6h3.8v3.8h-3.8zM153.5,219.0h3.8v3.8h-3.8zM158.3,213.7h3.8v3.8h-3.8zM163.2,206.8h3.8v3.8h-3.8zM168.0,197.4h3.8v3.8h-3.8zM172.8,186.3h3.8v3.8h-3.8zM177.7,170.5h3.8v3.8h-3.8zM182.5,155.9h3.8v3.8h-3.8zM187.3,135.9h3.8v3.8h-3.8zM192.2,119.2h3.8v3.8h-3.8zM197.0,104.0h3.8v3.8h-3.8zM201.8,90.2h3.8v3.8h-3.8zM206.7,78.1h3.8v3.8h-3.8zM211.5,68.4h3.8v3.8h-3.8zM216.3,60.8h3.8v3.8h-3.8zM221.2,54.5h3.8v3.8h-3.8zM226.0,49.7h3.8v3.8h-3.8zM230.8,45.7h3.8v3.8h-3.8zM235.7,42.7h3.8v3.8h-3.8zM240.5,40.4h3.8v3.8h-3.8zM245.3,38.4h3.8v3.8h-3.8zM250.2,36.8h3.8v3.8h-3.8zM255.0,35.4h3.8v3.8h-3.8zM259.8,34.1h3.8v3.8h-3.8zM264.7,32.9h3.8v3.8h-3.8zM269.5,31.9h3.8v3.8h-3.8zM274.3,31.0h3.8v3.8h-3.8zM279.2,30.4h3.8v3.8h-3.8zM284.0,29.9h3.8v3.8h-3.8zM288.8,29.4h3.8v3.8h-3.8zM293.6,29.0h3.8v3.8h-3.8zM298.5,28.7h3.8v3.8h-3.8zM303.3,28.3h3.8v3.8h-3.8zM308.1,28.0h3.8v3.8h-3.8zM313.0,27.6h3.8v3.8h-3.8zM317.8,27.1h3.8v3.8h-3.8zM322.6,26.7h3.8v3.8h-3.8zM327.5,26.2h3.8v3.8h-3.8zM332.3,25.7h3.8v3.8h-3.8zM337.1,25.1h3.8v3.8h-3.8z" fill="#0000ff"/>
</g>
<g clip-path="url(#ca)">
<path d="M60.0,230.2 L60.5,230.2 L61.0,230.2 L61.5,230.2 L62.0,230.2 L62.5,230.2 L63.0,230.2 L63.5,230.2 L64.0,230.2 L64.5,230.2 L65.0,230.2 L65.5,230.2 L66.0,230.2 L66.5,230.2 L67.0,230.2 L67.5,230.2 L68.0,230.2 L68.5,230.2 L69.0,230.2 L69.5,230.2 L70.0,230.2 L70.5,230.2 L71.0,230.2 L71.5,230.2 L72.0,230.2 L72.5,230.2 L73.0,230.2 L73.5,230.2 L74.0,230.2 L74.5,230.2 L75.0,230.2 L75.5,230.2 L76.0,230.2 L76.5,230.2 L77.0,230.2 L77.5,230.2 L78.0,230.2 L78.5,230.2 L79.0,230.2 L79.5,230.2 L80.0,230.2 L80.5,230.2 L81.0,230.2 L81.5,230.2 L82.0,230.2 L82.5,230.2 L83.0,230.2 L83.5,230.2 L84.0,230.2 L84.5,230.2 L85.0,230.2 L85.5,230.2 L86.0,230.2 L86.5,230.2 L87.0,230.2 L87.5,230.2 L88.0,230.2 L88.5,230.2 L89.0,230.2 L89.5,230.2 L90.0,230.2 L90.5,230.2 L91.0,230.2 L91.5,230.2 L92.0,230.2 L92.5,230.2 L93.0,230.2 L93.5,230.2 L94.0,230.2 L94.5,230.2 L95.0,230.2 L95.5,230.2 L96.0,230.2 L96.5,230.2 L97.0,230.2 L97.5,230.2 L98.0,230.2 L98.5,230.2 L99.0,230.2 L99.5,230.2 L100.0,230.2 L100.5,230.2 L101.0,230.2 L101.5,230.2 L102.0,230.2 L102.5,230.2 L103.0,230.2 L103.5,230.2 L104.0,230.2 L104.5,230.2 L105.0,230.2 L105.5,230.2 L106.0,230.2 L106.5,230.2 L107.0,230.2 L107.5,230.2 L108.0,230.2 L108.5,230.2 L109.0,230.2 L109.5,230.2 L110.0,230.2 L110.5,230.2 L111.0,230.2 L111.5,230.2 L112.0,230.2 L112.5,230.1 L113.0,230.1 L113.5,230.1 L114.0,230.1 L114.5,230.1 L115.0,230.1 L115.5,230.1 L116.0,230.1 L116.5,230.1 L117.0,230.1 L117.5,230.1 L118.0,230.1 L118.5,230.1 L119.0,230.1 L119.5,230.1 L120.0,230.1 L120.5,230.1 L121.0,230.1 L121.5,230.1 L122.0,230.1 L122.5,230.1 L123.0,230.1 L123.5,230.1 L124.0,230.1 L124.5,230.1 L125.0,230.1 L125.5,230.1 L126.0,230.1 L126.5,230.1 L127.0,230.1 L127.5,230.1 L128.0,230.1 L128.5,230.1 L129.0,230.1 L129.5,230.1 L130.0,230.1 L130.5,230.1 L131.0,230.1 L131.5,230.1 L132.0,230.1 L132.5,230.1 L133.0,230.1 L133.5,230.1 L134.0,230.1 L134.5,230.1 L135.0,230.1 L135.5,230.1 L136.0,230.1 L136.5,230.1 L137.0,230.1 L137.5,230.1 L138.0,230.1 L138.5,230.1 L139.0,230.1 L139.5,230.1 L140.0,230.1 L140.5,230.1 L141.0,230.0 L141.5,230.0 L142.0,230.0 L142.5,230.0 L143.0,230.0 L143.5,230.0 L144.0,230.0 L144.5,230.0 L145.0,230.0 L145.5,230.0 L146.0,230.0 L146.5,230.0 L147.0,230.0 L147.5,230.0 L148.0,230.0 L148.5,230.0 L149.0,230.0 L149.5,230.0 L150.0,230.0 L150.5,230.0 L151.0,230.0 L151.5,230.0 L152.0,229.9 L152.5,229.9 L153.0,229.9 L153.5,229.8 L154.0,229.8 L154.5,229.8 L155.0,229.7 L155.5,229.7 L156.0,229.6 L156.5,229.6 L157.0,229.5 L157.5,229.5 L158.0,229.4 L158.5,229.3 L159.0,229.3 L159.5,229.2 L160.0,229.1 L160.5,229.0 L161.0,228.9 L161.5,228.8 L162.0,228.7 L162.5,228.6 L163.0,228.5 L163.5,228.3 L164.0,228.2 L164.5,228.1 L165.0,228.0 L165.5,227.8 L166.0,227.7 L166.5,227.5 L167.0,227.3 L167.5,227.1 L168.0,226.9 L168.5,226.7 L169.0,226.5 L169.5,226.3 L170.0,226.1 L170.5,225.9 L171.0,225.7 L171.5,225.5 L172.0,225.3 L172.5,225.1 L173.0,224.9 L173.5,224.7 L174.0,224.4 L174.5,224.2 L175.0,223.9 L175.5,223.6 L176.0,223.2 L176.5,222.9 L177.0,222.5 L177.5,222.1 L178.0,221.6 L178.5,221.2 L179.0,220.7 L179.5,220.3 L180.0,219.8 L180.5,219.3 L181.0,218.8 L181.5,218.3 L182.0,217.7 L182.5,217.1 L183.0,216.5 L183.5,215.8 L184.0,215.2 L184.5,214.4 L185.0,213.7 L185.5,212.9 L186.0,212.0 L186.5,211.0 L187.0,210.1 L187.5,209.0 L188.0,208.0 L188.5,206.9 L189.0,205.8 L189.5,204.7 L190.0,203.5 L190.5,202.3 L191.0,201.0 L191.5,199.7 L192.0,198.3 L192.5,196.9 L193.0,195.5 L193.5,194.1 L194.0,192.6 L194.5,191.1 L195.0,189.6 L195.5,188.0 L196.0,186.4 L196.5,184.8 L197.0,183.2 L197.5,181.5 L198.0,179.9 L198.5,178.2 L199.0,176.5 L199.5,174.8 L200.0,173.1 L200.5,171.4 L201.0,169.6 L201.5,167.9 L202.0,166.1 L202.5,164.3 L203.0,162.5 L203.5,160.7 L204.0,158.9 L204.5,157.1 L205.0,155.4 L205.5,153.6 L206.0,151.8 L206.5,150.0 L207.0,148.1 L207.5,146.3 L208.0,144.3 L208.5,142.4 L209.0,140.4 L209.5,138.2 L210.0,136.0 L210.5,133.7 L211.0,131.4 L211.5,129.2 L212.0,127.0 L212.5,124.9 L213.0,123.0 L213.5,121.2 L214.0,119.5 L214.5,117.8 L215.0,116.2 L215.5,114.6 L216.0,113.1 L216.5,111.5 L217.0,109.9 L217.5,108.4 L218.0,106.7 L218.5,105.1 L219.0,103.5 L219.5,101.8 L220.0,100.2 L220.5,98.6 L221.0,96.9 L221.5,95.3 L222.0,93.7 L222.5,92.1 L223.0,90.5 L223.5,88.9 L224.0,87.3 L224.5,85.6 L225.0,84.0 L225.5,82.4 L226.0,80.9 L226.5,79.5 L227.0,78.2 L227.5,77.1 L228.0,76.0 L228.5,75.0 L229.0,74.0 L229.5,73.1 L230.0,72.2 L230.5,71.3 L231.0,70.4 L231.5,69.6 L232.0,68.7 L232.5,67.8 L233.0,66.9 L233.5,66.0 L234.0,65.1 L234.5,64.1 L235.0,63.2 L235.5,62.3 L236.0,61.4 L236.5,60.5 L237.0,59.7 L237.5,58.9 L238.0,58.2 L238.5,57.4 L239.0,56.7 L239.5,56.1 L240.0,55.4 L240.5,54.8 L241.0,54.2 L241.5,53.6 L242.0,53.0 L242.5,52.4 L243.0,51.8 L243.5,51.3 L244.0,50.7 L244.5,50.2 L245.0,49.7 L245.5,49.1 L246.0,48.7 L246.5,48.2 L247.0,47.8 L247.5,47.4 L248.0,47.0 L248.5,46.7 L249.0,46.3 L249.5,46.0 L250.0,45.7 L250.5,45.4 L251.0,45.1 L251.5,44.8 L252.0,44.5 L252.5,44.2 L253.0,43.9 L253.5,43.5 L254.0,43.2 L254.5,42.9 L255.0,42.6 L255.5,42.3 L256.0,42.0 L256.5,41.7 L257.0,41.5 L257.5,41.2 L258.0,40.9 L258.5,40.7 L259.0,40.5 L259.5,40.2 L260.0,40.0 L260.5,39.8 L261.0,39.5 L261.5,39.3 L262.0,39.1 L262.5,38.9 L263.0,38.6 L263.5,38.4 L264.0,38.2 L264.5,38.0 L265.0,37.8 L265.5,37.5 L266.0,37.3 L266.5,37.1 L267.0,37.0 L267.5,36.8 L268.0,36.6 L268.5,36.4 L269.0,36.3 L269.5,36.1 L270.0,35.9 L270.5,35.8 L271.0,35.6 L271.5,35.5 L272.0,35.3 L272.5,35.2 L273.0,35.0 L273.5,34.8 L274.0,34.7 L274.5,34.5 L275.0,34.4 L275.5,34.3 L276.0,34.1 L276.5,34.0 L277.0,33.9 L277.5,33.8 L278.0,33.7 L278.5,33.6 L279.0,33.5 L279.5,33.4 L280.0,33.3 L280.5,33.2 L281.0,33.1 L281.5,33.0 L282.0,32.9 L282.5,32.8 L283.0,32.7 L283.5,32.6 L284.0,32.5 L284.5,32.5 L285.0,32.4 L285.5,32.3 L286.0,32.2 L286.5,32.2 L287.0,32.1 L287.5,32.0 L288.0,31.9 L288.5,31.9 L289.0,31.8 L289.5,31.8 L290.0,31.7 L290.5,31.6 L291.0,31.6 L291.5,31.5 L292.0,31.5 L292.5,31.4 L293.0,31.4 L293.5,31.3 L294.0,31.3 L294.5,31.2 L295.0,31.2 L295.5,31.1 L296.0,31.1 L296.5,31.1 L297.0,31.0 L297.5,31.0 L298.0,30.9 L298.5,30.9 L299.0,30.9 L299.5,30.8 L300.0,30.8 L300.5,30.7 L301.0,30.7 L301.5,30.7 L302.0,30.6 L302.5,30.6 L303.0,30.6 L303.5,30.5 L304.0,30.5 L304.5,30.5 L305.0,30.4 L305.5,30.4 L306.0,30.3 L306.5,30.3 L307.0,30.3 L307.5,30.2 L308.0,30.2 L308.5,30.2 L309.0,30.1 L309.5,30.1 L310.0,30.1 L310.5,30.0 L311.0,30.0 L311.5,29.9 L312.0,29.9 L312.5,29.9 L313.0,29.8 L313.5,29.8 L314.0,29.7 L314.5,29.7 L315.0,29.7 L315.5,29.6 L316.0,29.6 L316.5,29.5 L317.0,29.5 L317.5,29.4 L318.0,29.4 L318.5,29.3 L319.0,29.3 L319.5,29.3 L320.0,29.2 L320.5,29.2 L321.0,29.1 L321.5,29.1 L322.0,29.0 L322.5,29.0 L323.0,28.9 L323.5,28.9 L324.0,28.8 L324.5,28.8 L325.0,28.7 L325.5,28.7 L326.0,28.6 L326.5,28.6 L327.0,28.5 L327.5,28.5 L328.0,28.4 L328.5,28.4 L329.0,28.3 L329.5,28.3 L330.0,28.2 L330.5,28.2 L331.0,28.1 L331.5,28.1 L332.0,28.0 L332.5,28.0 L333.0,27.9 L333.5,27.9 L334.0,27.8 L334.5,27.8 L335.0,27.7 L335.5,27.7 L336.0,27.6 L336.5,27.6 L337.0,27.5 L337.5,27.5 L338.0,27.4 L338.5,27.4 L339.0,27.3 L339.5,27.3 L340.0,27.2 L340.5,27.2 L341.0,27.1" fill="none" stroke="#00ffff" stroke-width="1.25" stroke-linejoin="round"/>
<path d="M52.0,228.3h3.8v3.8h-3.8zM56.8,228.3h3.8v3.8h-3.8zM61.7,228.3h3.8v3.8h-3.8zM66.5,228.3h3.8v3.8h-3.8zM71.3,228.3h3.8v3.8h-3.8zM76.2,228.3h3.8v3.8h-3.8zM81.0,228.3h3.8v3.8h-3.8zM85.8,228.3h3.8v3.8h-3.8zM90.7,228.3h3.8v3.8h-3.8zM95.5,228.3h3.8v3.8h-3.8zM100.3,228.3h3.8v3.8h-3.8zM105.2,228.3h3.8v3.8h-3.8zM110.0,228.3h3.8v3.8h-3.8zM114.8,228.2h3.8v3.8h-3.8zM119.7,228.2h3.8v3.8h-3.8zM124.5,228.2h3.8v3.8h-3.8zM129.3,228.2h3.8v3.8h-3.8zM134.2,228.2h3.8v3.8h-3.8zM139.0,228.1h3.8v3.8h-3.8zM143.8,228.1h3.8v3.8h-3.8zM148.7,228.1h3.8v3.8h-3.8zM153.5,227.8h3.8v3.8h-3.8zM158.3,227.2h3.8v3.8h-3.8zM163.2,226.0h3.8v3.8h-3.8zM168.0,224.3h3.8v3.8h-3.8zM172.8,222.1h3.8v3.8h-3.8zM177.7,218.3h3.8v3.8h-3.8zM182.5,212.7h3.8v3.8h-3.8zM187.3,203.4h3.8v3.8h-3.8zM192.2,190.5h3.8v3.8h-3.8zM197.0,175.0h3.8v3.8h-3.8zM201.8,158.0h3.8v3.8h-3.8zM206.7,140.3h3.8v3.8h-3.8zM211.5,119.7h3.8v3.8h-3.8zM216.3,104.1h3.8v3.8h-3.8zM221.2,88.5h3.8v3.8h-3.8zM226.0,74.3h3.8v3.8h-3.8zM230.8,65.5h3.8v3.8h-3.8zM235.7,56.9h3.8v3.8h-3.8zM240.5,50.6h3.8v3.8h-3.8zM245.3,45.7h3.8v3.8h-3.8zM250.2,42.6h3.8v3.8h-3.8zM255.0,39.6h3.8v3.8h-3.8zM259.8,37.3h3.8v3.8h-3.8zM264.7,35.2h3.8v3.8h-3.8zM269.5,33.6h3.8v3.8h-3.8zM274.3,32.2h3.8v3.8h-3.8zM279.2,31.2h3.8v3.8h-3.8zM284.0,30.3h3.8v3.8h-3.8zM288.8,29.7h3.8v3.8h-3.8zM293.6,29.2h3.8v3.8h-3.8zM298.5,28.8h3.8v3.8h-3.8zM303.3,28.5h3.8v3.8h-3.8zM308.1,28.2h3.8v3.8h-3.8zM313.0,27.8h3.8v3.8h-3.8zM317.8,27.3h3.8v3.8h-3.8zM322.6,26.9h3.8v3.8h-3.8zM327.5,26.4h3.8v3.8h-3.8zM332.3,25.9h3.8v3.8h-3.8zM337.1,25.4h3.8v3.8h-3.8z" fill="#00ffff"/>
</g>
<g clip-path="url(#ca)">
<path d="M60.0,230.2 L60.5,230.2 L61.0,230.2 L61.5,230.2 L62.0,230.2 L62.5,230.2 L63.0,230.2 L63.5,230.2 L64.0,230.2 L64.5,230.2 L65.0,230.2 L65.5,230.2 L66.0,230.2 L66.5,230.2 L67.0,230.2 L67.5,230.2 L68.0,230.2 L68.5,230.2 L69.0,230.2 L69.5,230.2 L70.0,230.2 L70.5,230.2 L71.0,230.2 L71.5,230.2 L72.0,230.2 L72.5,230.2 L73.0,230.2 L73.5,230.2 L74.0,230.2 L74.5,230.2 L75.0,230.2 L75.5,230.2 L76.0,230.2 L76.5,230.2 L77.0,230.2 L77.5,230.2 L78.0,230.2 L78.5,230.2 L79.0,230.2 L79.5,230.2 L80.0,230.2 L80.5,230.2 L81.0,230.2 L81.5,230.2 L82.0,230.2 L82.5,230.2 L83.0,230.2 L83.5,230.2 L84.0,230.2 L84.5,230.2 L85.0,230.2 L85.5,230.2 L86.0,230.2 L86.5,230.2 L87.0,230.2 L87.5,230.2 L88.0,230.2 L88.5,230.2 L89.0,230.2 L89.5,230.2 L90.0,230.2 L90.5,230.2 L91.0,230.2 L91.5,230.2 L92.0,230.2 L92.5,230.2 L93.0,230.2 L93.5,230.2 L94.0,230.2 L94.5,230.2 L95.0,230.2 L95.5,230.2 L96.0,230.2 L96.5,230.2 L97.0,230.2 L97.5,230.2 L98.0,230.2 L98.5,230.2 L99.0,230.2 L99.5,230.2 L100.0,230.2 L100.5,230.2 L101.0,230.2 L101.5,230.2 L102.0,230.2 L102.5,230.2 L103.0,230.2 L103.5,230.2 L104.0,230.2 L104.5,230.2 L105.0,230.2 L105.5,230.2 L106.0,230.2 L106.5,230.2 L107.0,230.2 L107.5,230.2 L108.0,230.2 L108.5,230.2 L109.0,230.2 L109.5,230.2 L110.0,230.2 L110.5,230.2 L111.0,230.2 L111.5,230.2 L112.0,230.2 L112.5,230.2 L113.0,230.2 L113.5,230.2 L114.0,230.2 L114.5,230.2 L115.0,230.2 L115.5,230.2 L116.0,230.2 L116.5,230.2 L117.0,230.2 L117.5,230.2 L118.0,230.2 L118.5,230.2 L119.0,230.2 L119.5,230.2 L120.0,230.2 L120.5,230.2 L121.0,230.2 L121.5,230.2 L122.0,230.2 L122.5,230.2 L123.0,230.2 L123.5,230.2 L124.0,230.2 L124.5,230.1 L125.0,230.1 L125.5,230.1 L126.0,230.1 L126.5,230.1 L127.0,230.1 L127.5,230.1 L128.0,230.1 L128.5,230.1 L129.0,230.1 L129.5,230.1 L130.0,230.1 L130.5,230.1 L131.0,230.1 L131.5,230.1 L132.0,230.1 L132.5,230.1 L133.0,230.1 L133.5,230.1 L134.0,230.1 L134.5,230.1 L135.0,230.1 L135.5,230.1 L136.0,230.1 L136.5,230.1 L137.0,230.1 L137.5,230.1 L138.0,230.1 L138.5,230.1 L139.0,230.1 L139.5,230.1 L140.0,230.1 L140.5,230.1 L141.0,230.1 L141.5,230.1 L142.0,230.1 L142.5,230.1 L143.0,230.1 L143.5,230.1 L144.0,230.1 L144.5,230.1 L145.0,230.1 L145.5,230.1 L146.0,230.1 L146.5,230.1 L147.0,230.1 L147.5,230.1 L148.0,230.1 L148.5,230.1 L149.0,230.1 L149.5,230.1 L150.0,230.1 L150.5,230.1 L151.0,230.1 L151.5,230.1 L152.0,230.1 L152.5,230.1 L153.0,230.1 L153.5,230.1 L154.0,230.1 L154.5,230.1 L155.0,230.1 L155.5,230.1 L156.0,230.1 L156.5,230.1 L157.0,230.1 L157.5,230.1 L158.0,230.1 L158.5,230.1 L159.0,230.0 L159.5,230.0 L160.0,230.0 L160.5,230.0 L161.0,230.0 L161.5,230.0 L162.0,230.0 L162.5,230.0 L163.0,230.0 L163.5,230.0 L164.0,230.0 L164.5,230.0 L165.0,230.0 L165.5,230.0 L166.0,230.0 L166.5,230.0 L167.0,230.0 L167.5,230.0 L168.0,230.0 L168.5,230.0 L169.0,230.0 L169.5,230.0 L170.0,230.0 L170.5,230.0 L171.0,230.0 L171.5,230.0 L172.0,230.0 L172.5,229.9 L173.0,229.9 L173.5,229.9 L174.0,229.9 L174.5,229.8 L175.0,229.8 L175.5,229.8 L176.0,229.7 L176.5,229.7 L177.0,229.7 L177.5,229.6 L178.0,229.6 L178.5,229.6 L179.0,229.5 L179.5,229.4 L180.0,229.4 L180.5,229.3 L181.0,229.2 L181.5,229.2 L182.0,229.1 L182.5,229.0 L183.0,228.9 L183.5,228.8 L184.0,228.7 L184.5,228.6 L185.0,228.5 L185.5,228.5 L186.0,228.4 L186.5,228.2 L187.0,228.1 L187.5,228.0 L188.0,227.9 L188.5,227.8 L189.0,227.7 L189.5,227.5 L190.0,227.4 L190.5,227.3 L191.0,227.1 L191.5,227.0 L192.0,226.8 L192.5,226.6 L193.0,226.5 L193.5,226.3 L194.0,226.1 L194.5,225.8 L195.0,225.6 L195.5,225.3 L196.0,225.0 L196.5,224.6 L197.0,224.3 L197.5,223.9 L198.0,223.5 L198.5,223.1 L199.0,222.7 L199.5,222.3 L200.0,221.9 L200.5,221.5 L201.0,221.1 L201.5,220.7 L202.0,220.2 L202.5,219.7 L203.0,219.2 L203.5,218.7 L204.0,218.1 L204.5,217.5 L205.0,216.9 L205.5,216.2 L206.0,215.5 L206.5,214.8 L207.0,214.0 L207.5,213.2 L208.0,212.4 L208.5,211.6 L209.0,210.7 L209.5,209.8 L210.0,208.9 L210.5,208.0 L211.0,207.0 L211.5,205.9 L212.0,204.8 L212.5,203.7 L213.0,202.6 L213.5,201.4 L214.0,200.2 L214.5,198.9 L215.0,197.5 L215.5,196.1 L216.0,194.6 L216.5,193.1 L217.0,191.6 L217.5,190.0 L218.0,188.3 L218.5,186.6 L219.0,184.9 L219.5,183.1 L220.0,181.1 L220.5,179.2 L221.0,177.1 L221.5,175.0 L222.0,172.9 L222.5,170.8 L223.0,168.8 L223.5,166.7 L224.0,164.6 L224.5,162.5 L225.0,160.4 L225.5,158.3 L226.0,156.2 L226.5,154.0 L227.0,151.9 L227.5,149.8 L228.0,147.7 L228.5,145.6 L229.0,143.6 L229.5,141.6 L230.0,139.6 L230.5,137.6 L231.0,135.6 L231.5,133.5 L232.0,131.4 L232.5,129.3 L233.0,127.0 L233.5,124.6 L234.0,122.1 L234.5,119.5 L235.0,116.8 L235.5,114.2 L236.0,111.6 L236.5,109.2 L237.0,107.0 L237.5,105.0 L238.0,103.2 L238.5,101.4 L239.0,99.7 L239.5,98.1 L240.0,96.5 L240.5,94.9 L241.0,93.3 L241.5,91.7 L242.0,90.1 L242.5,88.4 L243.0,86.7 L243.5,84.9 L244.0,83.2 L244.5,81.4 L245.0,79.7 L245.5,77.9 L246.0,76.3 L246.5,74.7 L247.0,73.2 L247.5,71.8 L248.0,70.4 L248.5,69.0 L249.0,67.7 L249.5,66.4 L250.0,65.1 L250.5,63.9 L251.0,62.7 L251.5,61.6 L252.0,60.6 L252.5,59.6 L253.0,58.7 L253.5,57.8 L254.0,56.9 L254.5,56.1 L255.0,55.3 L255.5,54.6 L256.0,53.8 L256.5,53.1 L257.0,52.4 L257.5,51.8 L258.0,51.1 L258.5,50.5 L259.0,49.9 L259.5,49.3 L260.0,48.7 L260.5,48.1 L261.0,47.6 L261.5,47.1 L262.0,46.6 L262.5,46.1 L263.0,45.7 L263.5,45.3 L264.0,44.9 L264.5,44.5 L265.0,44.1 L265.5,43.7 L266.0,43.3 L266.5,43.0 L267.0,42.6 L267.5,42.2 L268.0,41.9 L268.5,41.5 L269.0,41.1 L269.5,40.8 L270.0,40.4 L270.5,40.1 L271.0,39.8 L271.5,39.5 L272.0,39.2 L272.5,39.0 L273.0,38.7 L273.5,38.5 L274.0,38.2 L274.5,38.0 L275.0,37.8 L275.5,37.6 L276.0,37.4 L276.5,37.1 L277.0,36.9 L277.5,36.7 L278.0,36.5 L278.5,36.3 L279.0,36.0 L279.5,35.8 L280.0,35.6 L280.5,35.4 L281.0,35.2 L281.5,35.1 L282.0,34.9 L282.5,34.7 L283.0,34.5 L283.5,34.4 L284.0,34.2 L284.5,34.0 L285.0,33.9 L285.5,33.7 L286.0,33.6 L286.5,33.4 L287.0,33.3 L287.5,33.1 L288.0,33.0 L288.5,32.9 L289.0,32.8 L289.5,32.7 L290.0,32.6 L290.5,32.5 L291.0,32.4 L291.5,32.4 L292.0,32.3 L292.5,32.2 L293.0,32.1 L293.5,32.1 L294.0,32.0 L294.5,31.9 L295.0,31.9 L295.5,31.8 L296.0,31.7 L296.5,31.7 L297.0,31.6 L297.5,31.6 L298.0,31.5 L298.5,31.5 L299.0,31.4 L299.5,31.4 L300.0,31.3 L300.5,31.3 L301.0,31.2 L301.5,31.2 L302.0,31.1 L302.5,31.1 L303.0,31.0 L303.5,31.0 L304.0,30.9 L304.5,30.9 L305.0,30.9 L305.5,30.8 L306.0,30.8 L306.5,30.7 L307.0,30.7 L307.5,30.6 L308.0,30.6 L308.5,30.6 L309.0,30.5 L309.5,30.5 L310.0,30.4 L310.5,30.4 L311.0,30.3 L311.5,30.3 L312.0,30.3 L312.5,30.2 L313.0,30.2 L313.5,30.1 L314.0,30.1 L314.5,30.0 L315.0,30.0 L315.5,29.9 L316.0,29.9 L316.5,29.8 L317.0,29.8 L317.5,29.7 L318.0,29.7 L318.5,29.6 L319.0,29.6 L319.5,29.5 L320.0,29.5 L320.5,29.4 L321.0,29.4 L321.5,29.3 L322.0,29.3 L322.5,29.2 L323.0,29.2 L323.5,29.1 L324.0,29.1 L324.5,29.0 L325.0,29.0 L325.5,28.9 L326.0,28.9 L326.5,28.8 L327.0,28.8 L327.5,28.7 L328.0,28.7 L328.5,28.6 L329.0,28.6 L329.5,28.5 L330.0,28.5 L330.5,28.4 L331.0,28.4 L331.5,28.3 L332.0,28.3 L332.5,28.2 L333.0,28.2 L333.5,28.1 L334.0,28.1 L334.5,28.0 L335.0,28.0 L335.5,27.9 L336.0,27.9 L336.5,27.8 L337.0,27.8 L337.5,27.7 L338.0,27.7 L338.5,27.6 L339.0,27.6 L339.5,27.5 L340.0,27.5 L340.5,27.4 L341.0,27.4" fill="none" stroke="#ff00ff" stroke-width="1.25" stroke-linejoin="round"/>
<path d="M52.0,228.3h3.8v3.8h-3.8zM56.8,228.3h3.8v3.8h-3.8zM61.7,228.3h3.8v3.8h-3.8zM66.5,228.3h3.8v3.8h-3.8zM71.3,228.3h3.8v3.8h-3.8zM76.2,228.3h3.8v3.8h-3.8zM81.0,228.3h3.8v3.8h-3.8zM85.8,228.3h3.8v3.8h-3.8zM90.7,228.3h3.8v3.8h-3.8zM95.5,228.3h3.8v3.8h-3.8zM100.3,228.3h3.8v3.8h-3.8zM105.2,228.3h3.8v3.8h-3.8zM110.0,228.3h3.8v3.8h-3.8zM114.8,228.3h3.8v3.8h-3.8zM119.7,228.3h3.8v3.8h-3.8zM124.5,228.2h3.8v3.8h-3.8zM129.3,228.2h3.8v3.8h-3.8zM134.2,228.2h3.8v3.8h-3.8zM139.0,228.2h3.8v3.8h-3.8zM143.8,228.2h3.8v3.8h-3.8zM148.7,228.2h3.8v3.8h-3.8zM153.5,228.2h3.8v3.8h-3.8zM158.3,228.1h3.8v3.8h-3.8zM163.2,228.1h3.8v3.8h-3.8zM168.0,228.1h3.8v3.8h-3.8zM172.8,227.9h3.8v3.8h-3.8zM177.7,227.5h3.8v3.8h-3.8zM182.5,226.8h3.8v3.8h-3.8zM187.3,225.7h3.8v3.8h-3.8zM192.2,224.1h3.8v3.8h-3.8zM197.0,220.9h3.8v3.8h-3.8zM201.8,216.5h3.8v3.8h-3.8zM206.7,209.6h3.8v3.8h-3.8zM211.5,199.8h3.8v3.8h-3.8zM216.3,185.7h3.8v3.8h-3.8zM221.2,166.6h3.8v3.8h-3.8zM226.0,146.3h3.8v3.8h-3.8zM230.8,126.4h3.8v3.8h-3.8zM235.7,102.9h3.8v3.8h-3.8zM240.5,86.9h3.8v3.8h-3.8zM245.3,70.7h3.8v3.8h-3.8zM250.2,58.6h3.8v3.8h-3.8zM255.0,50.7h3.8v3.8h-3.8zM259.8,45.0h3.8v3.8h-3.8zM264.7,41.0h3.8v3.8h-3.8zM269.5,37.7h3.8v3.8h-3.8zM274.3,35.4h3.8v3.8h-3.8zM279.2,33.3h3.8v3.8h-3.8zM284.0,31.7h3.8v3.8h-3.8zM288.8,30.6h3.8v3.8h-3.8zM293.6,29.9h3.8v3.8h-3.8zM298.5,29.4h3.8v3.8h-3.8zM303.3,28.9h3.8v3.8h-3.8zM308.1,28.5h3.8v3.8h-3.8zM313.0,28.1h3.8v3.8h-3.8zM317.8,27.6h3.8v3.8h-3.8zM322.6,27.1h3.8v3.8h-3.8zM327.5,26.6h3.8v3.8h-3.8zM332.3,26.2h3.8v3.8h-3.8zM337.1,25.7h3.8v3.8h-3.8z" fill="#ff00ff"/>
</g>
<g clip-path="url(#ca)">
<path d="M60.0,230.2 L60.5,230.2 L61.0,230.2 L61.5,230.2 L62.0,230.2 L62.5,230.2 L63.0,230.2 L63.5,230.2 L64.0,230.2 L64.5,230.2 L65.0,230.2 L65.5,230.2 L66.0,230.2 L66.5,230.2 L67.0,230.2 L67.5,230.2 L68.0,230.2 L68.5,230.2 L69.0,230.2 L69.5,230.2 L70.0,230.2 L70.5,230.2 L71.0,230.2 L71.5,230.2 L72.0,230.2 L72.5,230.2 L73.0,230.2 L73.5,230.2 L74.0,230.2 L74.5,230.2 L75.0,230.2 L75.5,230.2 L76.0,230.2 L76.5,230.2 L77.0,230.2 L77.5,230.2 L78.0,230.2 L78.5,230.2 L79.0,230.2 L79.5,230.2 L80.0,230.2 L80.5,230.2 L81.0,230.2 L81.5,230.2 L82.0,230.2 L82.5,230.2 L83.0,230.2 L83.5,230.2 L84.0,230.2 L84.5,230.2 L85.0,230.2 L85.5,230.2 L86.0,230.2 L86.5,230.2 L87.0,230.2 L87.5,230.2 L88.0,230.2 L88.5,230.2 L89.0,230.2 L89.5,230.2 L90.0,230.2 L90.5,230.2 L91.0,230.2 L91.5,230.2 L92.0,230.2 L92.5,230.2 L93.0,230.2 L93.5,230.2 L94.0,230.2 L94.5,230.2 L95.0,230.2 L95.5,230.2 L96.0,230.2 L96.5,230.2 L97.0,230.2 L97.5,230.2 L98.0,230.2 L98.5,230.2 L99.0,230.2 L99.5,230.2 L100.0,230.2 L100.5,230.2 L101.0,230.2 L101.5,230.2 L102.0,230.2 L102.5,230.2 L103.0,230.2 L103.5,230.2 L104.0,230.2 L104.5,230.2 L105.0,230.2 L105.5,230.2 L106.0,230.2 L106.5,230.2 L107.0,230.2 L107.5,230.2 L108.0,230.2 L108.5,230.2 L109.0,230.2 L109.5,230.2 L110.0,230.2 L110.5,230.2 L111.0,230.2 L111.5,230.2 L112.0,230.2 L112.5,230.2 L113.0,230.2 L113.5,230.2 L114.0,230.2 L114.5,230.2 L115.0,230.2 L115.5,230.2 L116.0,230.2 L116.5,230.2 L117.0,230.2 L117.5,230.2 L118.0,230.2 L118.5,230.2 L119.0,230.2 L119.5,230.2 L120.0,230.2 L120.5,230.2 L121.0,230.2 L121.5,230.2 L122.0,230.2 L122.5,230.2 L123.0,230.2 L123.5,230.2 L124.0,230.2 L124.5,230.2 L125.0,230.2 L125.5,230.2 L126.0,230.2 L126.5,230.2 L127.0,230.2 L127.5,230.2 L128.0,230.2 L128.5,230.2 L129.0,230.2 L129.5,230.2 L130.0,230.2 L130.5,230.2 L131.0,230.2 L131.5,230.2 L132.0,230.2 L132.5,230.2 L133.0,230.2 L133.5,230.2 L134.0,230.2 L134.5,230.2 L135.0,230.2 L135.5,230.2 L136.0,230.2 L136.5,230.2 L137.0,230.2 L137.5,230.2 L138.0,230.2 L138.5,230.2 L139.0,230.2 L139.5,230.2 L140.0,230.2 L140.5,230.2 L141.0,230.2 L141.5,230.2 L142.0,230.2 L142.5,230.2 L143.0,230.2 L143.5,230.2 L144.0,230.2 L144.5,230.2 L145.0,230.2 L145.5,230.2 L146.0,230.2 L146.5,230.2 L147.0,230.2 L147.5,230.2 L148.0,230.2 L148.5,230.2 L149.0,230.2 L149.5,230.2 L150.0,230.2 L150.5,230.2 L151.0,230.2 L151.5,230.2 L152.0,230.2 L152.5,230.2 L153.0,230.2 L153.5,230.2 L154.0,230.2 L154.5,230.2 L155.0,230.2 L155.5,230.2 L156.0,230.2 L156.5,230.2 L157.0,230.2 L157.5,230.2 L158.0,230.2 L158.5,230.2 L159.0,230.2 L159.5,230.2 L160.0,230.2 L160.5,230.2 L161.0,230.2 L161.5,230.2 L162.0,230.2 L162.5,230.2 L163.0,230.2 L163.5,230.2 L164.0,230.2 L164.5,230.2 L165.0,230.2 L165.5,230.2 L166.0,230.2 L166.5,230.2 L167.0,230.2 L167.5,230.2 L168.0,230.2 L168.5,230.2 L169.0,230.2 L169.5,230.2 L170.0,230.2 L170.5,230.2 L171.0,230.2 L171.5,230.2 L172.0,230.2 L172.5,230.2 L173.0,230.2 L173.5,230.2 L174.0,230.2 L174.5,230.2 L175.0,230.2 L175.5,230.2 L176.0,230.2 L176.5,230.2 L177.0,230.2 L177.5,230.2 L178.0,230.2 L178.5,230.2 L179.0,230.2 L179.5,230.2 L180.0,230.2 L180.5,230.2 L181.0,230.2 L181.5,230.2 L182.0,230.2 L182.5,230.2 L183.0,230.2 L183.5,230.2 L184.0,230.2 L184.5,230.2 L185.0,230.2 L185.5,230.2 L186.0,230.2 L186.5,230.2 L187.0,230.2 L187.5,230.2 L188.0,230.2 L188.5,230.2 L189.0,230.2 L189.5,230.2 L190.0,230.2 L190.5,230.2 L191.0,230.2 L191.5,230.2 L192.0,230.2 L192.5,230.2 L193.0,230.2 L193.5,230.2 L194.0,230.2 L194.5,230.2 L195.0,230.2 L195.5,230.2 L196.0,230.2 L196.5,230.2 L197.0,230.2 L197.5,230.1 L198.0,230.1 L198.5,230.1 L199.0,230.0 L199.5,230.0 L200.0,230.0 L200.5,229.9 L201.0,229.9 L201.5,229.8 L202.0,229.8 L202.5,229.7 L203.0,229.7 L203.5,229.7 L204.0,229.6 L204.5,229.6 L205.0,229.5 L205.5,229.5 L206.0,229.4 L206.5,229.4 L207.0,229.3 L207.5,229.2 L208.0,229.2 L208.5,229.1 L209.0,229.0 L209.5,228.9 L210.0,228.9 L210.5,228.8 L211.0,228.7 L211.5,228.6 L212.0,228.5 L212.5,228.3 L213.0,228.2 L213.5,228.1 L214.0,228.0 L214.5,227.9 L215.0,227.7 L215.5,227.6 L216.0,227.5 L216.5,227.3 L217.0,227.2 L217.5,227.0 L218.0,226.8 L218.5,226.7 L219.0,226.5 L219.5,226.2 L220.0,226.0 L220.5,225.7 L221.0,225.5 L221.5,225.2 L222.0,224.9 L222.5,224.5 L223.0,224.2 L223.5,223.9 L224.0,223.5 L224.5,223.1 L225.0,222.7 L225.5,222.3 L226.0,221.9 L226.5,221.4 L227.0,220.9 L227.5,220.4 L228.0,219.8 L228.5,219.2 L229.0,218.6 L229.5,217.9 L230.0,217.1 L230.5,216.3 L231.0,215.5 L231.5,214.6 L232.0,213.7 L232.5,212.8 L233.0,211.8 L233.5,210.8 L234.0,209.6 L234.5,208.4 L235.0,207.2 L235.5,205.8 L236.0,204.4 L236.5,203.0 L237.0,201.5 L237.5,200.0 L238.0,198.5 L238.5,196.8 L239.0,195.1 L239.5,193.3 L240.0,191.5 L240.5,189.5 L241.0,187.6 L241.5,185.5 L242.0,183.4 L242.5,181.3 L243.0,179.1 L243.5,176.9 L244.0,174.5 L244.5,172.0 L245.0,169.5 L245.5,167.0 L246.0,164.4 L246.5,161.8 L247.0,159.1 L247.5,156.5 L248.0,153.8 L248.5,151.0 L249.0,148.2 L249.5,145.4 L250.0,142.5 L250.5,139.7 L251.0,136.8 L251.5,134.0 L252.0,131.2 L252.5,128.3 L253.0,125.4 L253.5,122.5 L254.0,119.6 L254.5,116.8 L255.0,114.0 L255.5,111.2 L256.0,108.6 L256.5,106.1 L257.0,103.7 L257.5,101.3 L258.0,98.9 L258.5,96.6 L259.0,94.4 L259.5,92.2 L260.0,90.1 L260.5,88.0 L261.0,85.9 L261.5,83.9 L262.0,81.9 L262.5,80.0 L263.0,78.0 L263.5,76.1 L264.0,74.3 L264.5,72.5 L265.0,70.7 L265.5,69.1 L266.0,67.5 L266.5,66.0 L267.0,64.6 L267.5,63.2 L268.0,61.9 L268.5,60.6 L269.0,59.4 L269.5,58.2 L270.0,57.1 L270.5,56.1 L271.0,55.0 L271.5,54.1 L272.0,53.2 L272.5,52.3 L273.0,51.4 L273.5,50.6 L274.0,49.8 L274.5,49.1 L275.0,48.4 L275.5,47.7 L276.0,47.0 L276.5,46.4 L277.0,45.8 L277.5,45.3 L278.0,44.7 L278.5,44.2 L279.0,43.7 L279.5,43.3 L280.0,42.8 L280.5,42.4 L281.0,42.0 L281.5,41.6 L282.0,41.3 L282.5,40.9 L283.0,40.6 L283.5,40.3 L284.0,40.0 L284.5,39.7 L285.0,39.5 L285.5,39.2 L286.0,38.9 L286.5,38.7 L287.0,38.5 L287.5,38.2 L288.0,38.0 L288.5,37.8 L289.0,37.6 L289.5,37.4 L290.0,37.1 L290.5,37.0 L291.0,36.8 L291.5,36.6 L292.0,36.4 L292.5,36.2 L293.0,36.0 L293.5,35.9 L294.0,35.7 L294.5,35.5 L295.0,35.4 L295.5,35.2 L296.0,35.1 L296.5,35.0 L297.0,34.8 L297.5,34.7 L298.0,34.6 L298.5,34.4 L299.0,34.3 L299.5,34.2 L300.0,34.1 L300.5,34.0 L301.0,33.9 L301.5,33.7 L302.0,33.6 L302.5,33.5 L303.0,33.4 L303.5,33.3 L304.0,33.2 L304.5,33.1 L305.0,33.0 L305.5,32.9 L306.0,32.8 L306.5,32.7 L307.0,32.6 L307.5,32.5 L308.0,32.4 L308.5,32.3 L309.0,32.2 L309.5,32.1 L310.0,32.0 L310.5,31.9 L311.0,31.8 L311.5,31.7 L312.0,31.6 L312.5,31.5 L313.0,31.4 L313.5,31.4 L314.0,31.3 L314.5,31.2 L315.0,31.1 L315.5,31.0 L316.0,31.0 L316.5,30.9 L317.0,30.8 L317.5,30.7 L318.0,30.7 L318.5,30.6 L319.0,30.5 L319.5,30.4 L320.0,30.4 L320.5,30.3 L321.0,30.2 L321.5,30.1 L322.0,30.1 L322.5,30.0 L323.0,29.9 L323.5,29.9 L324.0,29.8 L324.5,29.7 L325.0,29.7 L325.5,29.6 L326.0,29.5 L326.5,29.5 L327.0,29.4 L327.5,29.3 L328.0,29.3 L328.5,29.2 L329.0,29.1 L329.5,29.1 L330.0,29.0 L330.5,28.9 L331.0,28.9 L331.5,28.8 L332.0,28.8 L332.5,28.7 L333.0,28.7 L333.5,28.6 L334.0,28.6 L334.5,28.5 L335.0,28.4 L335.5,28.4 L336.0,28.3 L336.5,28.3 L337.0,28.2 L337.5,28.2 L338.0,28.2 L338.5,28.1 L339.0,28.1 L339.5,28.0 L340.0,28.0 L340.5,27.9 L341.0,27.9" fill="none" stroke="#ffff00" stroke-width="1.25" stroke-linejoin="round"/>
<path d="M52.0,228.3h3.8v3.8h-3.8zM56.8,228.3h3.8v3.8h-3.8zM61.7,228.3h3.8v3.8h-3.8zM66.5,228.3h3.8v3.8h-3.8zM71.3,228.3h3.8v3.8h-3.8zM76.2,228.3h3.8v3.8h-3.8zM81.0,228.3h3.8v3.8h-3.8zM85.8,228.3h3.8v3.8h-3.8zM90.7,228.3h3.8v3.8h-3.8zM95.5,228.3h3.8v3.8h-3.8zM100.3,228.3h3.8v3.8h-3.8zM105.2,228.3h3.8v3.8h-3.8zM110.0,228.3h3.8v3.8h-3.8zM114.8,228.3h3.8v3.8h-3.8zM119.7,228.3h3.8v3.8h-3.8zM124.5,228.3h3.8v3.8h-3.8zM129.3,228.3h3.8v3.8h-3.8zM134.2,228.3h3.8v3.8h-3.8zM139.0,228.3h3.8v3.8h-3.8zM143.8,228.3h3.8v3.8h-3.8zM148.7,228.3h3.8v3.8h-3.8zM153.5,228.3h3.8v3.8h-3.8zM158.3,228.3h3.8v3.8h-3.8zM163.2,228.3h3.8v3.8h-3.8zM168.0,228.3h3.8v3.8h-3.8zM172.8,228.3h3.8v3.8h-3.8zM177.7,228.3h3.8v3.8h-3.8zM182.5,228.3h3.8v3.8h-3.8zM187.3,228.3h3.8v3.8h-3.8zM192.2,228.3h3.8v3.8h-3.8zM197.0,228.1h3.8v3.8h-3.8zM201.8,227.7h3.8v3.8h-3.8zM206.7,227.2h3.8v3.8h-3.8zM211.5,226.2h3.8v3.8h-3.8zM216.3,224.9h3.8v3.8h-3.8zM221.2,222.3h3.8v3.8h-3.8zM226.0,218.0h3.8v3.8h-3.8zM230.8,210.5h3.8v3.8h-3.8zM235.7,198.0h3.8v3.8h-3.8zM240.5,179.9h3.8v3.8h-3.8zM245.3,156.1h3.8v3.8h-3.8zM250.2,129.0h3.8v3.8h-3.8zM255.0,102.3h3.8v3.8h-3.8zM259.8,81.1h3.8v3.8h-3.8zM264.7,63.9h3.8v3.8h-3.8zM269.5,52.4h3.8v3.8h-3.8zM274.3,44.9h3.8v3.8h-3.8zM279.2,40.1h3.8v3.8h-3.8zM284.0,37.1h3.8v3.8h-3.8zM288.8,35.0h3.8v3.8h-3.8zM293.6,33.3h3.8v3.8h-3.8zM298.5,32.1h3.8v3.8h-3.8zM303.3,31.1h3.8v3.8h-3.8zM308.1,30.1h3.8v3.8h-3.8zM313.0,29.2h3.8v3.8h-3.8zM317.8,28.5h3.8v3.8h-3.8zM322.6,27.8h3.8v3.8h-3.8zM327.5,27.2h3.8v3.8h-3.8zM332.3,26.6h3.8v3.8h-3.8zM337.1,26.2h3.8v3.8h-3.8z" fill="#ffff00"/>
</g>
<g clip-path="url(#ca)">
<path d="M60.0,230.4 L60.5,230.4 L61.0,230.4 L61.5,230.4 L62.0,230.4 L62.5,230.4 L63.0,230.4 L63.5,230.4 L64.0,230.4 L64.5,230.4 L65.0,230.4 L65.5,230.4 L66.0,230.4 L66.5,230.4 L67.0,230.4 L67.5,230.4 L68.0,230.4 L68.5,230.4 L69.0,230.4 L69.5,230.4 L70.0,230.4 L70.5,230.4 L71.0,230.4 L71.5,230.4 L72.0,230.4 L72.5,230.4 L73.0,230.4 L73.5,230.4 L74.0,230.4 L74.5,230.4 L75.0,230.4 L75.5,230.4 L76.0,230.4 L76.5,230.4 L77.0,230.4 L77.5,230.4 L78.0,230.4 L78.5,230.4 L79.0,230.4 L79.5,230.4 L80.0,230.4 L80.5,230.4 L81.0,230.4 L81.5,230.4 L82.0,230.4 L82.5,230.4 L83.0,230.4 L83.5,230.4 L84.0,230.4 L84.5,230.4 L85.0,230.4 L85.5,230.4 L86.0,230.4 L86.5,230.4 L87.0,230.4 L87.5,230.4 L88.0,230.4 L88.5,230.4 L89.0,230.4 L89.5,230.4 L90.0,230.4 L90.5,230.4 L91.0,230.4 L91.5,230.4 L92.0,230.4 L92.5,230.4 L93.0,230.4 L93.5,230.4 L94.0,230.4 L94.5,230.4 L95.0,230.4 L95.5,230.4 L96.0,230.4 L96.5,230.4 L97.0,230.4 L97.5,230.4 L98.0,230.4 L98.5,230.4 L99.0,230.4 L99.5,230.4 L100.0,230.4 L100.5,230.4 L101.0,230.4 L101.5,230.4 L102.0,230.4 L102.5,230.4 L103.0,230.4 L103.5,230.4 L104.0,230.4 L104.5,230.4 L105.0,230.4 L105.5,230.4 L106.0,230.4 L106.5,230.4 L107.0,230.4 L107.5,230.4 L108.0,230.4 L108.5,230.4 L109.0,230.4 L109.5,230.4 L110.0,230.4 L110.5,230.4 L111.0,230.4 L111.5,230.4 L112.0,230.4 L112.5,230.4 L113.0,230.4 L113.5,230.4 L114.0,230.4 L114.5,230.4 L115.0,230.4 L115.5,230.4 L116.0,230.4 L116.5,230.4 L117.0,230.4 L117.5,230.4 L118.0,230.4 L118.5,230.4 L119.0,230.4 L119.5,230.4 L120.0,230.4 L120.5,230.4 L121.0,230.4 L121.5,230.4 L122.0,230.4 L122.5,230.4 L123.0,230.4 L123.5,230.4 L124.0,230.4 L124.5,230.4 L125.0,230.4 L125.5,230.4 L126.0,230.4 L126.5,230.4 L127.0,230.4 L127.5,230.4 L128.0,230.4 L128.5,230.4 L129.0,230.4 L129.5,230.4 L130.0,230.4 L130.5,230.4 L131.0,230.4 L131.5,230.4 L132.0,230.4 L132.5,230.4 L133.0,230.4 L133.5,230.4 L134.0,230.4 L134.5,230.4 L135.0,230.4 L135.5,230.4 L136.0,230.4 L136.5,230.4 L137.0,230.4 L137.5,230.4 L138.0,230.4 L138.5,230.4 L139.0,230.4 L139.5,230.4 L140.0,230.4 L140.5,230.4 L141.0,230.4 L141.5,230.4 L142.0,230.4 L142.5,230.4 L143.0,230.4 L143.5,230.4 L144.0,230.4 L144.5,230.4 L145.0,230.4 L145.5,230.4 L146.0,230.4 L146.5,230.4 L147.0,230.4 L147.5,230.4 L148.0,230.4 L148.5,230.4 L149.0,230.4 L149.5,230.4 L150.0,230.4 L150.5,230.4 L151.0,230.4 L151.5,230.4 L152.0,230.4 L152.5,230.4 L153.0,230.4 L153.5,230.4 L154.0,230.4 L154.5,230.4 L155.0,230.4 L155.5,230.4 L156.0,230.4 L156.5,230.4 L157.0,230.4 L157.5,230.4 L158.0,230.4 L158.5,230.4 L159.0,230.4 L159.5,230.4 L160.0,230.4 L160.5,230.4 L161.0,230.4 L161.5,230.4 L162.0,230.4 L162.5,230.4 L163.0,230.4 L163.5,230.4 L164.0,230.4 L164.5,230.4 L165.0,230.4 L165.5,230.4 L166.0,230.4 L166.5,230.4 L167.0,230.4 L167.5,230.4 L168.0,230.4 L168.5,230.4 L169.0,230.4 L169.5,230.4 L170.0,230.4 L170.5,230.4 L171.0,230.4 L171.5,230.4 L172.0,230.4 L172.5,230.4 L173.0,230.4 L173.5,230.4 L174.0,230.4 L174.5,230.4 L175.0,230.4 L175.5,230.4 L176.0,230.4 L176.5,230.4 L177.0,230.4 L177.5,230.4 L178.0,230.4 L178.5,230.4 L179.0,230.4 L179.5,230.4 L180.0,230.4 L180.5,230.4 L181.0,230.4 L181.5,230.4 L182.0,230.4 L182.5,230.4 L183.0,230.4 L183.5,230.4 L184.0,230.4 L184.5,230.4 L185.0,230.4 L185.5,230.4 L186.0,230.4 L186.5,230.4 L187.0,230.4 L187.5,230.4 L188.0,230.4 L188.5,230.4 L189.0,230.4 L189.5,230.4 L190.0,230.4 L190.5,230.4 L191.0,230.4 L191.5,230.4 L192.0,230.4 L192.5,230.4 L193.0,230.4 L193.5,230.4 L194.0,230.4 L194.5,230.4 L195.0,230.4 L195.5,230.4 L196.0,230.4 L196.5,230.4 L197.0,230.4 L197.5,230.4 L198.0,230.4 L198.5,230.4 L199.0,230.4 L199.5,230.4 L200.0,230.4 L200.5,230.4 L201.0,230.4 L201.5,230.4 L202.0,230.4 L202.5,230.4 L203.0,230.4 L203.5,230.4 L204.0,230.4 L204.5,230.4 L205.0,230.4 L205.5,230.4 L206.0,230.4 L206.5,230.4 L207.0,230.4 L207.5,230.4 L208.0,230.4 L208.5,230.4 L209.0,230.4 L209.5,230.4 L210.0,230.4 L210.5,230.4 L211.0,230.4 L211.5,230.4 L212.0,230.4 L212.5,230.4 L213.0,230.4 L213.5,230.4 L214.0,230.4 L214.5,230.4 L215.0,230.4 L215.5,230.4 L216.0,230.4 L216.5,230.4 L217.0,230.4 L217.5,230.4 L218.0,230.4 L218.5,230.4 L219.0,230.4 L219.5,230.4 L220.0,230.4 L220.5,230.4 L221.0,230.4 L221.5,230.4 L222.0,230.4 L222.5,230.3 L223.0,230.3 L223.5,230.3 L224.0,230.3 L224.5,230.2 L225.0,230.2 L225.5,230.2 L226.0,230.1 L226.5,230.1 L227.0,230.1 L227.5,230.0 L228.0,230.0 L228.5,230.0 L229.0,229.9 L229.5,229.9 L230.0,229.8 L230.5,229.7 L231.0,229.7 L231.5,229.6 L232.0,229.5 L232.5,229.5 L233.0,229.4 L233.5,229.3 L234.0,229.2 L234.5,229.2 L235.0,229.1 L235.5,229.0 L236.0,228.9 L236.5,228.8 L237.0,228.7 L237.5,228.6 L238.0,228.5 L238.5,228.4 L239.0,228.2 L239.5,228.1 L240.0,228.0 L240.5,227.8 L241.0,227.7 L241.5,227.5 L242.0,227.4 L242.5,227.2 L243.0,227.1 L243.5,226.9 L244.0,226.7 L244.5,226.5 L245.0,226.3 L245.5,226.0 L246.0,225.8 L246.5,225.6 L247.0,225.3 L247.5,225.1 L248.0,224.8 L248.5,224.5 L249.0,224.2 L249.5,223.9 L250.0,223.6 L250.5,223.2 L251.0,222.9 L251.5,222.5 L252.0,222.0 L252.5,221.5 L253.0,220.9 L253.5,220.3 L254.0,219.5 L254.5,218.7 L255.0,217.9 L255.5,216.9 L256.0,216.0 L256.5,215.0 L257.0,213.9 L257.5,212.8 L258.0,211.7 L258.5,210.4 L259.0,209.1 L259.5,207.7 L260.0,206.2 L260.5,204.6 L261.0,203.0 L261.5,201.2 L262.0,199.4 L262.5,197.4 L263.0,195.2 L263.5,192.7 L264.0,190.2 L264.5,187.5 L265.0,184.7 L265.5,181.9 L266.0,179.0 L266.5,176.3 L267.0,173.5 L267.5,170.7 L268.0,168.0 L268.5,165.1 L269.0,162.3 L269.5,159.4 L270.0,156.4 L270.5,153.3 L271.0,150.2 L271.5,147.0 L272.0,143.6 L272.5,140.0 L273.0,136.3 L273.5,132.4 L274.0,128.5 L274.5,124.6 L275.0,120.7 L275.5,117.0 L276.0,113.3 L276.5,109.8 L277.0,106.2 L277.5,102.7 L278.0,99.1 L278.5,95.7 L279.0,92.3 L279.5,89.0 L280.0,85.8 L280.5,82.8 L281.0,80.0 L281.5,77.3 L282.0,74.6 L282.5,72.1 L283.0,69.6 L283.5,67.2 L284.0,64.9 L284.5,62.8 L285.0,60.9 L285.5,59.1 L286.0,57.6 L286.5,56.1 L287.0,54.7 L287.5,53.4 L288.0,52.1 L288.5,51.0 L289.0,49.9 L289.5,48.9 L290.0,47.9 L290.5,47.0 L291.0,46.2 L291.5,45.4 L292.0,44.6 L292.5,43.8 L293.0,43.1 L293.5,42.4 L294.0,41.8 L294.5,41.2 L295.0,40.7 L295.5,40.2 L296.0,39.7 L296.5,39.3 L297.0,38.9 L297.5,38.5 L298.0,38.1 L298.5,37.8 L299.0,37.5 L299.5,37.2 L300.0,36.9 L300.5,36.7 L301.0,36.4 L301.5,36.2 L302.0,36.0 L302.5,35.8 L303.0,35.7 L303.5,35.5 L304.0,35.4 L304.5,35.2 L305.0,35.0 L305.5,34.9 L306.0,34.7 L306.5,34.5 L307.0,34.4 L307.5,34.2 L308.0,34.0 L308.5,33.9 L309.0,33.7 L309.5,33.6 L310.0,33.4 L310.5,33.3 L311.0,33.2 L311.5,33.0 L312.0,32.9 L312.5,32.8 L313.0,32.7 L313.5,32.6 L314.0,32.5 L314.5,32.4 L315.0,32.2 L315.5,32.1 L316.0,32.0 L316.5,31.9 L317.0,31.8 L317.5,31.7 L318.0,31.6 L318.5,31.5 L319.0,31.4 L319.5,31.3 L320.0,31.2 L320.5,31.2 L321.0,31.1 L321.5,31.0 L322.0,31.0 L322.5,30.9 L323.0,30.8 L323.5,30.8 L324.0,30.7 L324.5,30.6 L325.0,30.6 L325.5,30.5 L326.0,30.4 L326.5,30.4 L327.0,30.3 L327.5,30.2 L328.0,30.1 L328.5,30.1 L329.0,30.0 L329.5,29.9 L330.0,29.9 L330.5,29.8 L331.0,29.8 L331.5,29.7 L332.0,29.7 L332.5,29.6 L333.0,29.6 L333.5,29.6 L334.0,29.5 L334.5,29.5 L335.0,29.4 L335.5,29.4 L336.0,29.4 L336.5,29.3 L337.0,29.3 L337.5,29.3 L338.0,29.2 L338.5,29.2 L339.0,29.1 L339.5,29.1 L340.0,29.1 L340.5,29.0 L341.0,29.0" fill="none" stroke="#0000a0" stroke-width="1.25" stroke-linejoin="round"/>
<path d="M52.0,228.5h3.8v3.8h-3.8zM56.8,228.5h3.8v3.8h-3.8zM61.7,228.5h3.8v3.8h-3.8zM66.5,228.5h3.8v3.8h-3.8zM71.3,228.5h3.8v3.8h-3.8zM76.2,228.5h3.8v3.8h-3.8zM81.0,228.5h3.8v3.8h-3.8zM85.8,228.5h3.8v3.8h-3.8zM90.7,228.5h3.8v3.8h-3.8zM95.5,228.5h3.8v3.8h-3.8zM100.3,228.5h3.8v3.8h-3.8zM105.2,228.5h3.8v3.8h-3.8zM110.0,228.5h3.8v3.8h-3.8zM114.8,228.5h3.8v3.8h-3.8zM119.7,228.5h3.8v3.8h-3.8zM124.5,228.5h3.8v3.8h-3.8zM129.3,228.5h3.8v3.8h-3.8zM134.2,228.5h3.8v3.8h-3.8zM139.0,228.5h3.8v3.8h-3.8zM143.8,228.5h3.8v3.8h-3.8zM148.7,228.5h3.8v3.8h-3.8zM153.5,228.5h3.8v3.8h-3.8zM158.3,228.5h3.8v3.8h-3.8zM163.2,228.5h3.8v3.8h-3.8zM168.0,228.5h3.8v3.8h-3.8zM172.8,228.5h3.8v3.8h-3.8zM177.7,228.5h3.8v3.8h-3.8zM182.5,228.5h3.8v3.8h-3.8zM187.3,228.5h3.8v3.8h-3.8zM192.2,228.5h3.8v3.8h-3.8zM197.0,228.5h3.8v3.8h-3.8zM201.8,228.5h3.8v3.8h-3.8zM206.7,228.5h3.8v3.8h-3.8zM211.5,228.5h3.8v3.8h-3.8zM216.3,228.5h3.8v3.8h-3.8zM221.2,228.4h3.8v3.8h-3.8zM226.0,228.1h3.8v3.8h-3.8zM230.8,227.5h3.8v3.8h-3.8zM235.7,226.7h3.8v3.8h-3.8zM240.5,225.4h3.8v3.8h-3.8zM245.3,223.3h3.8v3.8h-3.8zM250.2,220.1h3.8v3.8h-3.8zM255.0,212.3h3.8v3.8h-3.8zM259.8,198.5h3.8v3.8h-3.8zM264.7,174.1h3.8v3.8h-3.8zM269.5,145.8h3.8v3.8h-3.8zM274.3,109.9h3.8v3.8h-3.8zM279.2,77.8h3.8v3.8h-3.8zM284.0,56.0h3.8v3.8h-3.8zM288.8,44.8h3.8v3.8h-3.8zM293.6,38.2h3.8v3.8h-3.8zM298.5,34.8h3.8v3.8h-3.8zM303.3,33.1h3.8v3.8h-3.8zM308.1,31.5h3.8v3.8h-3.8zM313.0,30.4h3.8v3.8h-3.8zM317.8,29.4h3.8v3.8h-3.8zM322.6,28.7h3.8v3.8h-3.8zM327.5,28.0h3.8v3.8h-3.8zM332.3,27.6h3.8v3.8h-3.8zM337.1,27.2h3.8v3.8h-3.8z" fill="#0000a0"/>
</g>
<g clip-path="url(#ca)">
<path d="M60.0,230.4 L60.5,230.4 L61.0,230.4 L61.5,230.4 L62.0,230.4 L62.5,230.4 L63.0,230.4 L63.5,230.4 L64.0,230.4 L64.5,230.4 L65.0,230.4 L65.5,230.4 L66.0,230.4 L66.5,230.4 L67.0,230.4 L67.5,230.4 L68.0,230.4 L68.5,230.4 L69.0,230.4 L69.5,230.4 L70.0,230.4 L70.5,230.4 L71.0,230.4 L71.5,230.4 L72.0,230.4 L72.5,230.4 L73.0,230.4 L73.5,230.4 L74.0,230.4 L74.5,230.4 L75.0,230.4 L75.5,230.4 L76.0,230.4 L76.5,230.4 L77.0,230.4 L77.5,230.4 L78.0,230.4 L78.5,230.4 L79.0,230.4 L79.5,230.4 L80.0,230.4 L80.5,230.4 L81.0,230.4 L81.5,230.4 L82.0,230.4 L82.5,230.4 L83.0,230.4 L83.5,230.4 L84.0,230.4 L84.5,230.4 L85.0,230.4 L85.5,230.4 L86.0,230.4 L86.5,230.4 L87.0,230.4 L87.5,230.4 L88.0,230.4 L88.5,230.4 L89.0,230.4 L89.5,230.4 L90.0,230.4 L90.5,230.4 L91.0,230.4 L91.5,230.4 L92.0,230.4 L92.5,230.4 L93.0,230.4 L93.5,230.4 L94.0,230.4 L94.5,230.4 L95.0,230.4 L95.5,230.4 L96.0,230.4 L96.5,230.4 L97.0,230.4 L97.5,230.4 L98.0,230.4 L98.5,230.4 L99.0,230.4 L99.5,230.4 L100.0,230.4 L100.5,230.4 L101.0,230.4 L101.5,230.4 L102.0,230.4 L102.5,230.4 L103.0,230.4 L103.5,230.4 L104.0,230.4 L104.5,230.4 L105.0,230.4 L105.5,230.4 L106.0,230.4 L106.5,230.4 L107.0,230.4 L107.5,230.4 L108.0,230.4 L108.5,230.4 L109.0,230.4 L109.5,230.4 L110.0,230.4 L110.5,230.4 L111.0,230.4 L111.5,230.4 L112.0,230.4 L112.5,230.4 L113.0,230.4 L113.5,230.4 L114.0,230.4 L114.5,230.4 L115.0,230.4 L115.5,230.4 L116.0,230.4 L116.5,230.4 L117.0,230.4 L117.5,230.4 L118.0,230.4 L118.5,230.4 L119.0,230.4 L119.5,230.4 L120.0,230.4 L120.5,230.4 L121.0,230.4 L121.5,230.4 L122.0,230.4 L122.5,230.4 L123.0,230.4 L123.5,230.4 L124.0,230.4 L124.5,230.4 L125.0,230.4 L125.5,230.4 L126.0,230.4 L126.5,230.4 L127.0,230.4 L127.5,230.4 L128.0,230.4 L128.5,230.4 L129.0,230.4 L129.5,230.4 L130.0,230.4 L130.5,230.4 L131.0,230.4 L131.5,230.4 L132.0,230.4 L132.5,230.4 L133.0,230.4 L133.5,230.4 L134.0,230.4 L134.5,230.4 L135.0,230.4 L135.5,230.4 L136.0,230.4 L136.5,230.4 L137.0,230.4 L137.5,230.4 L138.0,230.4 L138.5,230.4 L139.0,230.4 L139.5,230.4 L140.0,230.4 L140.5,230.4 L141.0,230.4 L141.5,230.4 L142.0,230.4 L142.5,230.4 L143.0,230.4 L143.5,230.4 L144.0,230.4 L144.5,230.4 L145.0,230.4 L145.5,230.4 L146.0,230.4 L146.5,230.4 L147.0,230.4 L147.5,230.4 L148.0,230.4 L148.5,230.4 L149.0,230.4 L149.5,230.4 L150.0,230.4 L150.5,230.4 L151.0,230.4 L151.5,230.4 L152.0,230.4 L152.5,230.4 L153.0,230.4 L153.5,230.4 L154.0,230.4 L154.5,230.4 L155.0,230.4 L155.5,230.4 L156.0,230.4 L156.5,230.4 L157.0,230.4 L157.5,230.4 L158.0,230.4 L158.5,230.4 L159.0,230.4 L159.5,230.4 L160.0,230.4 L160.5,230.4 L161.0,230.4 L161.5,230.4 L162.0,230.4 L162.5,230.4 L163.0,230.4 L163.5,230.4 L164.0,230.4 L164.5,230.4 L165.0,230.4 L165.5,230.4 L166.0,230.4 L166.5,230.4 L167.0,230.4 L167.5,230.4 L168.0,230.4 L168.5,230.4 L169.0,230.4 L169.5,230.4 L170.0,230.4 L170.5,230.4 L171.0,230.4 L171.5,230.4 L172.0,230.4 L172.5,230.4 L173.0,230.4 L173.5,230.4 L174.0,230.4 L174.5,230.4 L175.0,230.4 L175.5,230.4 L176.0,230.4 L176.5,230.4 L177.0,230.4 L177.5,230.4 L178.0,230.4 L178.5,230.4 L179.0,230.4 L179.5,230.4 L180.0,230.4 L180.5,230.4 L181.0,230.4 L181.5,230.4 L182.0,230.4 L182.5,230.4 L183.0,230.4 L183.5,230.4 L184.0,230.4 L184.5,230.4 L185.0,230.4 L185.5,230.4 L186.0,230.4 L186.5,230.4 L187.0,230.4 L187.5,230.4 L188.0,230.4 L188.5,230.4 L189.0,230.4 L189.5,230.4 L190.0,230.4 L190.5,230.4 L191.0,230.4 L191.5,230.4 L192.0,230.4 L192.5,230.4 L193.0,230.4 L193.5,230.4 L194.0,230.4 L194.5,230.4 L195.0,230.4 L195.5,230.4 L196.0,230.4 L196.5,230.4 L197.0,230.4 L197.5,230.4 L198.0,230.4 L198.5,230.4 L199.0,230.4 L199.5,230.4 L200.0,230.4 L200.5,230.4 L201.0,230.4 L201.5,230.4 L202.0,230.4 L202.5,230.4 L203.0,230.4 L203.5,230.4 L204.0,230.4 L204.5,230.4 L205.0,230.4 L205.5,230.4 L206.0,230.4 L206.5,230.4 L207.0,230.4 L207.5,230.4 L208.0,230.4 L208.5,230.4 L209.0,230.4 L209.5,230.4 L210.0,230.4 L210.5,230.4 L211.0,230.4 L211.5,230.4 L212.0,230.4 L212.5,230.4 L213.0,230.4 L213.5,230.4 L214.0,230.4 L214.5,230.4 L215.0,230.4 L215.5,230.4 L216.0,230.4 L216.5,230.4 L217.0,230.4 L217.5,230.4 L218.0,230.4 L218.5,230.4 L219.0,230.4 L219.5,230.4 L220.0,230.4 L220.5,230.4 L221.0,230.4 L221.5,230.4 L222.0,230.4 L222.5,230.4 L223.0,230.4 L223.5,230.4 L224.0,230.4 L224.5,230.4 L225.0,230.4 L225.5,230.4 L226.0,230.4 L226.5,230.4 L227.0,230.4 L227.5,230.4 L228.0,230.4 L228.5,230.4 L229.0,230.4 L229.5,230.4 L230.0,230.4 L230.5,230.4 L231.0,230.4 L231.5,230.4 L232.0,230.4 L232.5,230.4 L233.0,230.4 L233.5,230.4 L234.0,230.4 L234.5,230.4 L235.0,230.4 L235.5,230.4 L236.0,230.4 L236.5,230.4 L237.0,230.4 L237.5,230.4 L238.0,230.4 L238.5,230.4 L239.0,230.4 L239.5,230.4 L240.0,230.4 L240.5,230.4 L241.0,230.4 L241.5,230.4 L242.0,230.3 L242.5,230.3 L243.0,230.3 L243.5,230.3 L244.0,230.2 L244.5,230.2 L245.0,230.1 L245.5,230.1 L246.0,230.1 L246.5,230.0 L247.0,230.0 L247.5,230.0 L248.0,229.9 L248.5,229.9 L249.0,229.9 L249.5,229.8 L250.0,229.8 L250.5,229.7 L251.0,229.7 L251.5,229.7 L252.0,229.6 L252.5,229.5 L253.0,229.5 L253.5,229.4 L254.0,229.4 L254.5,229.3 L255.0,229.2 L255.5,229.1 L256.0,229.0 L256.5,228.9 L257.0,228.8 L257.5,228.7 L258.0,228.6 L258.5,228.5 L259.0,228.4 L259.5,228.3 L260.0,228.1 L260.5,228.0 L261.0,227.8 L261.5,227.7 L262.0,227.5 L262.5,227.3 L263.0,227.1 L263.5,226.9 L264.0,226.7 L264.5,226.4 L265.0,226.2 L265.5,225.9 L266.0,225.6 L266.5,225.3 L267.0,225.0 L267.5,224.7 L268.0,224.4 L268.5,224.0 L269.0,223.6 L269.5,223.2 L270.0,222.8 L270.5,222.4 L271.0,221.9 L271.5,221.4 L272.0,220.8 L272.5,220.2 L273.0,219.4 L273.5,218.7 L274.0,217.8 L274.5,217.0 L275.0,216.0 L275.5,215.1 L276.0,214.1 L276.5,213.1 L277.0,212.1 L277.5,211.0 L278.0,209.9 L278.5,208.8 L279.0,207.6 L279.5,206.4 L280.0,205.0 L280.5,203.6 L281.0,202.2 L281.5,200.6 L282.0,198.9 L282.5,197.0 L283.0,195.0 L283.5,192.8 L284.0,190.6 L284.5,188.2 L285.0,185.7 L285.5,183.1 L286.0,180.3 L286.5,177.4 L287.0,174.3 L287.5,170.9 L288.0,167.5 L288.5,163.8 L289.0,160.1 L289.5,156.3 L290.0,152.4 L290.5,148.4 L291.0,144.2 L291.5,139.7 L292.0,135.1 L292.5,130.3 L293.0,125.5 L293.5,120.6 L294.0,115.7 L294.5,110.8 L295.0,106.1 L295.5,101.5 L296.0,97.1 L296.5,92.7 L297.0,88.1 L297.5,83.6 L298.0,79.1 L298.5,74.7 L299.0,70.7 L299.5,67.1 L300.0,63.9 L300.5,61.3 L301.0,59.1 L301.5,56.9 L302.0,54.9 L302.5,53.1 L303.0,51.4 L303.5,49.8 L304.0,48.4 L304.5,47.1 L305.0,45.9 L305.5,44.9 L306.0,43.9 L306.5,43.0 L307.0,42.1 L307.5,41.3 L308.0,40.6 L308.5,39.9 L309.0,39.3 L309.5,38.7 L310.0,38.2 L310.5,37.8 L311.0,37.4 L311.5,37.1 L312.0,36.8 L312.5,36.5 L313.0,36.3 L313.5,36.1 L314.0,35.9 L314.5,35.7 L315.0,35.5 L315.5,35.3 L316.0,35.2 L316.5,35.1 L317.0,34.9 L317.5,34.8 L318.0,34.7 L318.5,34.6 L319.0,34.5 L319.5,34.4 L320.0,34.3 L320.5,34.2 L321.0,34.1 L321.5,34.0 L322.0,33.9 L322.5,33.8 L323.0,33.7 L323.5,33.6 L324.0,33.5 L324.5,33.5 L325.0,33.4 L325.5,33.3 L326.0,33.2 L326.5,33.2 L327.0,33.1 L327.5,33.0 L328.0,32.9 L328.5,32.9 L329.0,32.8 L329.5,32.7 L330.0,32.7 L330.5,32.6 L331.0,32.5 L331.5,32.5 L332.0,32.4 L332.5,32.3 L333.0,32.3 L333.5,32.2 L334.0,32.1 L334.5,32.1 L335.0,32.0 L335.5,31.9 L336.0,31.8 L336.5,31.8 L337.0,31.7 L337.5,31.6 L338.0,31.6 L338.5,31.5 L339.0,31.5 L339.5,31.4 L340.0,31.3 L340.5,31.3 L341.0,31.2" fill="none" stroke="#008000" stroke-width="1.25" stroke-linejoin="round"/>
<path d="M52.0,228.5h3.8v3.8h-3.8zM56.8,228.5h3.8v3.8h-3.8zM61.7,228.5h3.8v3.8h-3.8zM66.5,228.5h3.8v3.8h-3.8zM71.3,228.5h3.8v3.8h-3.8zM76.2,228.5h3.8v3.8h-3.8zM81.0,228.5h3.8v3.8h-3.8zM85.8,228.5h3.8v3.8h-3.8zM90.7,228.5h3.8v3.8h-3.8zM95.5,228.5h3.8v3.8h-3.8zM100.3,228.5h3.8v3.8h-3.8zM105.2,228.5h3.8v3.8h-3.8zM110.0,228.5h3.8v3.8h-3.8zM114.8,228.5h3.8v3.8h-3.8zM119.7,228.5h3.8v3.8h-3.8zM124.5,228.5h3.8v3.8h-3.8zM129.3,228.5h3.8v3.8h-3.8zM134.2,228.5h3.8v3.8h-3.8zM139.0,228.5h3.8v3.8h-3.8zM143.8,228.5h3.8v3.8h-3.8zM148.7,228.5h3.8v3.8h-3.8zM153.5,228.5h3.8v3.8h-3.8zM158.3,228.5h3.8v3.8h-3.8zM163.2,228.5h3.8v3.8h-3.8zM168.0,228.5h3.8v3.8h-3.8zM172.8,228.5h3.8v3.8h-3.8zM177.7,228.5h3.8v3.8h-3.8zM182.5,228.5h3.8v3.8h-3.8zM187.3,228.5h3.8v3.8h-3.8zM192.2,228.5h3.8v3.8h-3.8zM197.0,228.5h3.8v3.8h-3.8zM201.8,228.5h3.8v3.8h-3.8zM206.7,228.5h3.8v3.8h-3.8zM211.5,228.5h3.8v3.8h-3.8zM216.3,228.5h3.8v3.8h-3.8zM221.2,228.5h3.8v3.8h-3.8zM226.0,228.5h3.8v3.8h-3.8zM230.8,228.5h3.8v3.8h-3.8zM235.7,228.5h3.8v3.8h-3.8zM240.5,228.4h3.8v3.8h-3.8zM245.3,228.1h3.8v3.8h-3.8zM250.2,227.7h3.8v3.8h-3.8zM255.0,227.0h3.8v3.8h-3.8zM259.8,225.7h3.8v3.8h-3.8zM264.7,223.4h3.8v3.8h-3.8zM269.5,219.6h3.8v3.8h-3.8zM274.3,211.8h3.8v3.8h-3.8zM279.2,200.1h3.8v3.8h-3.8zM284.0,179.1h3.8v3.8h-3.8zM288.8,144.7h3.8v3.8h-3.8zM293.6,99.2h3.8v3.8h-3.8zM298.5,60.0h3.8v3.8h-3.8zM303.3,43.6h3.8v3.8h-3.8zM308.1,36.3h3.8v3.8h-3.8zM313.0,33.6h3.8v3.8h-3.8zM317.8,32.4h3.8v3.8h-3.8zM322.6,31.5h3.8v3.8h-3.8zM327.5,30.9h3.8v3.8h-3.8zM332.3,30.2h3.8v3.8h-3.8zM337.1,29.5h3.8v3.8h-3.8z" fill="#008000"/>
</g>
<g clip-path="url(#cb)">
<path d="M60.0,449.0 L60.5,449.0 L61.0,449.0 L61.5,449.0 L62.0,449.0 L62.5,449.0 L63.0,449.0 L63.5,449.0 L64.0,449.0 L64.5,449.0 L65.0,449.0 L65.5,449.0 L66.0,449.0 L66.5,449.0 L67.0,449.0 L67.5,449.0 L68.0,449.0 L68.5,449.0 L69.0,449.0 L69.5,449.0 L70.0,449.0 L70.5,449.0 L71.0,449.0 L71.5,449.0 L72.0,449.0 L72.5,449.0 L73.0,449.0 L73.5,449.0 L74.0,449.0 L74.5,449.0 L75.0,449.0 L75.5,449.0 L76.0,449.0 L76.5,449.0 L77.0,449.0 L77.5,449.0 L78.0,449.0 L78.5,449.0 L79.0,449.0 L79.5,449.0 L80.0,449.0 L80.5,449.0 L81.0,449.0 L81.5,449.0 L82.0,449.0 L82.5,449.0 L83.0,449.0 L83.5,449.0 L84.0,449.0 L84.5,449.0 L85.0,449.0 L85.5,449.0 L86.0,449.0 L86.5,449.0 L87.0,449.0 L87.5,449.0 L88.0,449.0 L88.5,449.0 L89.0,449.0 L89.5,449.0 L90.0,449.0 L90.5,449.0 L91.0,449.0 L91.5,449.0 L92.0,449.0 L92.5,449.0 L93.0,449.0 L93.5,449.0 L94.0,449.0 L94.5,449.0 L95.0,449.0 L95.5,449.0 L96.0,449.0 L96.5,449.0 L97.0,449.0 L97.5,449.0 L98.0,449.0 L98.5,449.0 L99.0,449.0 L99.5,449.0 L100.0,449.0 L100.5,449.0 L101.0,449.0 L101.5,449.0 L102.0,449.0 L102.5,449.0 L103.0,449.0 L103.5,449.0 L104.0,449.0 L104.5,449.0 L105.0,449.0 L105.5,449.0 L106.0,449.0 L106.5,449.0 L107.0,449.0 L107.5,449.0 L108.0,449.0 L108.5,449.0 L109.0,449.0 L109.5,449.0 L110.0,449.0 L110.5,449.0 L111.0,449.0 L111.5,449.0 L112.0,449.0 L112.5,449.0 L113.0,449.0 L113.5,449.0 L114.0,449.0 L114.5,449.0 L115.0,449.0 L115.5,449.0 L116.0,449.0 L116.5,449.0 L117.0,449.0 L117.5,449.0 L118.0,449.0 L118.5,449.0 L119.0,449.0 L119.5,449.0 L120.0,449.0 L120.5,449.0 L121.0,449.0 L121.5,449.0 L122.0,449.0 L122.5,449.0 L123.0,449.0 L123.5,449.0 L124.0,449.0 L124.5,449.0 L125.0,449.0 L125.5,449.0 L126.0,449.0 L126.5,449.0 L127.0,449.0 L127.5,449.0 L128.0,449.0 L128.5,449.0 L129.0,449.0 L129.5,449.0 L130.0,449.0 L130.5,449.0 L131.0,449.0 L131.5,449.0 L132.0,449.0 L132.5,449.0 L133.0,449.0 L133.5,449.0 L134.0,449.0 L134.5,449.0 L135.0,449.0 L135.5,449.0 L136.0,449.0 L136.5,449.0 L137.0,449.0 L137.5,449.0 L138.0,449.0 L138.5,449.0 L139.0,449.0 L139.5,449.0 L140.0,449.0 L140.5,449.0 L141.0,449.0 L141.5,449.0 L142.0,449.0 L142.5,449.0 L143.0,449.0 L143.5,449.0 L144.0,449.0 L144.5,449.0 L145.0,449.0 L145.5,449.0 L146.0,449.0 L146.5,449.0 L147.0,449.0 L147.5,449.0 L148.0,449.0 L148.5,449.0 L149.0,449.0 L149.5,449.0 L150.0,449.0 L150.5,449.0 L151.0,449.0 L151.5,449.0 L152.0,449.0 L152.5,449.0 L153.0,449.0 L153.5,449.0 L154.0,449.0 L154.5,449.0 L155.0,449.0 L155.5,449.0 L156.0,449.0 L156.5,449.0 L157.0,449.0 L157.5,449.0 L158.0,449.0 L158.5,449.0 L159.0,449.0 L159.5,449.0 L160.0,449.0 L160.5,449.0 L161.0,449.0 L161.5,449.0 L162.0,449.0 L162.5,449.0 L163.0,449.0 L163.5,449.0 L164.0,449.0 L164.5,449.0 L165.0,449.0 L165.5,449.0 L166.0,449.0 L166.5,449.0 L167.0,449.0 L167.5,449.0 L168.0,449.0 L168.5,449.0 L169.0,449.0 L169.5,449.0 L170.0,449.0 L170.5,449.0 L171.0,449.0 L171.5,449.0 L172.0,449.0 L172.5,449.0 L173.0,449.0 L173.5,449.0 L174.0,449.0 L174.5,449.0 L175.0,449.0 L175.5,449.0 L176.0,449.0 L176.5,449.0 L177.0,449.0 L177.5,449.0 L178.0,449.0 L178.5,449.0 L179.0,449.0 L179.5,449.0 L180.0,449.0 L180.5,449.0 L181.0,449.0 L181.5,449.0 L182.0,449.0 L182.5,449.0 L183.0,449.0 L183.5,449.0 L184.0,449.0 L184.5,449.0 L185.0,449.0 L185.5,449.0 L186.0,449.0 L186.5,449.0 L187.0,449.0 L187.5,449.0 L188.0,449.0 L188.5,449.0 L189.0,449.0 L189.5,449.0 L190.0,449.0 L190.5,449.0 L191.0,449.0 L191.5,449.0 L192.0,449.0 L192.5,449.0 L193.0,449.0 L193.5,449.0 L194.0,449.0 L194.5,449.0 L195.0,449.0 L195.5,449.0 L196.0,449.0 L196.5,449.0 L197.0,449.0 L197.5,449.0 L198.0,449.0 L198.5,449.0 L199.0,449.0 L199.5,449.0 L200.0,449.0 L200.5,449.0 L201.0,449.0 L201.5,449.0 L202.0,449.0 L202.5,449.0 L203.0,449.0 L203.5,449.0 L204.0,449.0 L204.5,449.0 L205.0,449.0 L205.5,449.0 L206.0,449.0 L206.5,449.0 L207.0,449.0 L207.5,449.0 L208.0,449.0 L208.5,449.0 L209.0,449.0 L209.5,449.0 L210.0,449.0 L210.5,449.0 L211.0,449.0 L211.5,449.0 L212.0,449.0 L212.5,449.0 L213.0,449.0 L213.5,449.0 L214.0,449.0 L214.5,449.0 L215.0,449.0 L215.5,449.0 L216.0,449.0 L216.5,449.0 L217.0,449.0 L217.5,449.0 L218.0,449.0 L218.5,449.0 L219.0,449.0 L219.5,449.0 L220.0,449.0 L220.5,449.0 L221.0,449.0 L221.5,449.0 L222.0,449.0 L222.5,449.0 L223.0,449.0 L223.5,449.0 L224.0,449.0 L224.5,449.0 L225.0,449.0 L225.5,449.0 L226.0,449.0 L226.5,449.0 L227.0,449.0 L227.5,449.0 L228.0,449.0 L228.5,449.0 L229.0,449.0 L229.5,449.0 L230.0,449.0 L230.5,449.0 L231.0,449.0 L231.5,449.0 L232.0,449.0 L232.5,449.0 L233.0,449.0 L233.5,449.0 L234.0,449.0 L234.5,449.0 L235.0,449.0 L235.5,449.0 L236.0,449.0 L236.5,449.0 L237.0,449.0 L237.5,449.0 L238.0,449.0 L238.5,449.0 L239.0,449.0 L239.5,449.0 L240.0,449.0 L240.5,449.0 L241.0,449.0 L241.5,449.0 L242.0,449.0 L242.5,449.0 L243.0,449.0 L243.5,449.0 L244.0,449.0 L244.5,449.0 L245.0,449.0 L245.5,449.0 L246.0,449.0 L246.5,449.0 L247.0,449.0 L247.5,449.0 L248.0,449.0 L248.5,448.9 L249.0,448.9 L249.5,448.9 L250.0,448.9 L250.5,448.9 L251.0,448.8 L251.5,448.8 L252.0,448.8 L252.5,448.8 L253.0,448.7 L253.5,448.7 L254.0,448.7 L254.5,448.6 L255.0,448.6 L255.5,448.6 L256.0,448.5 L256.5,448.5 L257.0,448.4 L257.5,448.4 L258.0,448.3 L258.5,448.3 L259.0,448.2 L259.5,448.2 L260.0,448.1 L260.5,448.0 L261.0,447.9 L261.5,447.8 L262.0,447.7 L262.5,447.6 L263.0,447.4 L263.5,447.1 L264.0,446.9 L264.5,446.6 L265.0,446.3 L265.5,446.1 L266.0,445.7 L266.5,445.4 L267.0,445.1 L267.5,444.7 L268.0,444.3 L268.5,443.9 L269.0,443.5 L269.5,443.0 L270.0,442.5 L270.5,442.0 L271.0,441.5 L271.5,441.0 L272.0,440.4 L272.5,439.9 L273.0,439.3 L273.5,438.7 L274.0,438.0 L274.5,437.4 L275.0,436.7 L275.5,435.9 L276.0,435.1 L276.5,434.3 L277.0,433.4 L277.5,432.4 L278.0,431.3 L278.5,430.2 L279.0,429.0 L279.5,427.7 L280.0,426.4 L280.5,425.1 L281.0,423.7 L281.5,422.3 L282.0,420.9 L282.5,419.4 L283.0,417.9 L283.5,416.2 L284.0,414.5 L284.5,412.7 L285.0,410.8 L285.5,408.8 L286.0,406.7 L286.5,404.4 L287.0,401.9 L287.5,399.3 L288.0,396.5 L288.5,393.6 L289.0,390.5 L289.5,387.2 L290.0,383.7 L290.5,380.1 L291.0,376.1 L291.5,371.4 L292.0,366.2 L292.5,360.7 L293.0,355.5 L293.5,350.8 L294.0,346.9 L294.5,343.3 L295.0,339.9 L295.5,336.4 L296.0,332.7 L296.5,328.6 L297.0,324.5 L297.5,320.3 L298.0,316.0 L298.5,311.9 L299.0,308.0 L299.5,304.3 L300.0,301.0 L300.5,298.0 L301.0,295.3 L301.5,292.6 L302.0,290.1 L302.5,287.7 L303.0,285.4 L303.5,283.4 L304.0,281.5 L304.5,279.9 L305.0,278.6 L305.5,277.5 L306.0,276.4 L306.5,275.5 L307.0,274.6 L307.5,273.8 L308.0,273.0 L308.5,272.3 L309.0,271.7 L309.5,271.2 L310.0,270.7 L310.5,270.3 L311.0,269.8 L311.5,269.5 L312.0,269.1 L312.5,268.8 L313.0,268.5 L313.5,268.2 L314.0,267.9 L314.5,267.7 L315.0,267.5 L315.5,267.3 L316.0,267.1 L316.5,266.9 L317.0,266.8 L317.5,266.6 L318.0,266.5 L318.5,266.4 L319.0,266.3 L319.5,266.1 L320.0,266.0 L320.5,265.9 L321.0,265.8 L321.5,265.6 L322.0,265.5 L322.5,265.4 L323.0,265.3 L323.5,265.2 L324.0,265.1 L324.5,265.0 L325.0,264.9 L325.5,264.8 L326.0,264.7 L326.5,264.6 L327.0,264.5 L327.5,264.4 L328.0,264.3 L328.5,264.2 L329.0,264.1 L329.5,264.1 L330.0,264.0 L330.5,263.9 L331.0,263.8 L331.5,263.8 L332.0,263.7 L332.5,263.6 L333.0,263.6 L333.5,263.5 L334.0,263.4 L334.5,263.4 L335.0,263.3 L335.5,263.2 L336.0,263.2 L336.5,263.1 L337.0,263.1 L337.5,263.0 L338.0,263.0 L338.5,262.9 L339.0,262.9 L339.5,262.8 L340.0,262.8 L340.5,262.7 L341.0,262.7" fill="none" stroke="#008000" stroke-width="1.25" stroke-linejoin="round"/>
<path d="M52.0,447.1h3.8v3.8h-3.8zM56.8,447.1h3.8v3.8h-3.8zM61.7,447.1h3.8v3.8h-3.8zM66.5,447.1h3.8v3.8h-3.8zM71.3,447.1h3.8v3.8h-3.8zM76.2,447.1h3.8v3.8h-3.8zM81.0,447.1h3.8v3.8h-3.8zM85.8,447.1h3.8v3.8h-3.8zM90.7,447.1h3.8v3.8h-3.8zM95.5,447.1h3.8v3.8h-3.8zM100.3,447.1h3.8v3.8h-3.8zM105.2,447.1h3.8v3.8h-3.8zM110.0,447.1h3.8v3.8h-3.8zM114.8,447.1h3.8v3.8h-3.8zM119.7,447.1h3.8v3.8h-3.8zM124.5,447.1h3.8v3.8h-3.8zM129.3,447.1h3.8v3.8h-3.8zM134.2,447.1h3.8v3.8h-3.8zM139.0,447.1h3.8v3.8h-3.8zM143.8,447.1h3.8v3.8h-3.8zM148.7,447.1h3.8v3.8h-3.8zM153.5,447.1h3.8v3.8h-3.8zM158.3,447.1h3.8v3.8h-3.8zM163.2,447.1h3.8v3.8h-3.8zM168.0,447.1h3.8v3.8h-3.8zM172.8,447.1h3.8v3.8h-3.8zM177.7,447.1h3.8v3.8h-3.8zM182.5,447.1h3.8v3.8h-3.8zM187.3,447.1h3.8v3.8h-3.8zM192.2,447.1h3.8v3.8h-3.8zM197.0,447.1h3.8v3.8h-3.8zM201.8,447.1h3.8v3.8h-3.8zM206.7,447.1h3.8v3.8h-3.8zM211.5,447.1h3.8v3.8h-3.8zM216.3,447.1h3.8v3.8h-3.8zM221.2,447.1h3.8v3.8h-3.8zM226.0,447.1h3.8v3.8h-3.8zM230.8,447.1h3.8v3.8h-3.8zM235.7,447.1h3.8v3.8h-3.8zM240.5,447.1h3.8v3.8h-3.8zM245.3,447.1h3.8v3.8h-3.8zM250.2,446.9h3.8v3.8h-3.8zM255.0,446.6h3.8v3.8h-3.8zM259.8,445.9h3.8v3.8h-3.8zM264.7,443.5h3.8v3.8h-3.8zM269.5,439.2h3.8v3.8h-3.8zM274.3,432.9h3.8v3.8h-3.8zM279.2,421.7h3.8v3.8h-3.8zM284.0,405.3h3.8v3.8h-3.8zM288.8,376.6h3.8v3.8h-3.8zM293.6,334.2h3.8v3.8h-3.8zM298.5,296.8h3.8v3.8h-3.8zM303.3,276.2h3.8v3.8h-3.8zM308.1,268.8h3.8v3.8h-3.8zM313.0,265.6h3.8v3.8h-3.8zM317.8,264.2h3.8v3.8h-3.8zM322.6,263.1h3.8v3.8h-3.8zM327.5,262.2h3.8v3.8h-3.8zM332.3,261.5h3.8v3.8h-3.8zM337.1,261.0h3.8v3.8h-3.8z" fill="#008000"/>
</g>
<g clip-path="url(#cb)">
<path d="M60.0,449.0 L60.5,449.0 L61.0,449.0 L61.5,449.0 L62.0,449.0 L62.5,449.0 L63.0,449.0 L63.5,449.0 L64.0,449.0 L64.5,449.0 L65.0,449.0 L65.5,449.0 L66.0,449.0 L66.5,449.0 L67.0,449.0 L67.5,449.0 L68.0,449.0 L68.5,449.0 L69.0,449.0 L69.5,449.0 L70.0,449.0 L70.5,449.0 L71.0,449.0 L71.5,449.0 L72.0,449.0 L72.5,449.0 L73.0,449.0 L73.5,449.0 L74.0,449.0 L74.5,449.0 L75.0,449.0 L75.5,449.0 L76.0,449.0 L76.5,449.0 L77.0,449.0 L77.5,449.0 L78.0,449.0 L78.5,449.0 L79.0,449.0 L79.5,449.0 L80.0,449.0 L80.5,449.0 L81.0,449.0 L81.5,449.0 L82.0,449.0 L82.5,449.0 L83.0,449.0 L83.5,449.0 L84.0,449.0 L84.5,449.0 L85.0,449.0 L85.5,449.0 L86.0,449.0 L86.5,449.0 L87.0,449.0 L87.5,449.0 L88.0,449.0 L88.5,449.0 L89.0,449.0 L89.5,449.0 L90.0,449.0 L90.5,449.0 L91.0,449.0 L91.5,449.0 L92.0,449.0 L92.5,449.0 L93.0,449.0 L93.5,449.0 L94.0,449.0 L94.5,449.0 L95.0,449.0 L95.5,449.0 L96.0,449.0 L96.5,449.0 L97.0,449.0 L97.5,449.0 L98.0,449.0 L98.5,449.0 L99.0,449.0 L99.5,449.0 L100.0,449.0 L100.5,449.0 L101.0,449.0 L101.5,449.0 L102.0,449.0 L102.5,449.0 L103.0,449.0 L103.5,449.0 L104.0,449.0 L104.5,449.0 L105.0,449.0 L105.5,449.0 L106.0,449.0 L106.5,449.0 L107.0,449.0 L107.5,449.0 L108.0,449.0 L108.5,449.0 L109.0,449.0 L109.5,449.0 L110.0,449.0 L110.5,449.0 L111.0,449.0 L111.5,449.0 L112.0,449.0 L112.5,449.0 L113.0,449.0 L113.5,449.0 L114.0,449.0 L114.5,449.0 L115.0,449.0 L115.5,449.0 L116.0,449.0 L116.5,449.0 L117.0,449.0 L117.5,449.0 L118.0,449.0 L118.5,449.0 L119.0,449.0 L119.5,449.0 L120.0,449.0 L120.5,449.0 L121.0,449.0 L121.5,449.0 L122.0,449.0 L122.5,449.0 L123.0,449.0 L123.5,449.0 L124.0,449.0 L124.5,449.0 L125.0,449.0 L125.5,449.0 L126.0,449.0 L126.5,449.0 L127.0,449.0 L127.5,449.0 L128.0,449.0 L128.5,449.0 L129.0,449.0 L129.5,449.0 L130.0,449.0 L130.5,449.0 L131.0,449.0 L131.5,449.0 L132.0,449.0 L132.5,449.0 L133.0,449.0 L133.5,449.0 L134.0,449.0 L134.5,449.0 L135.0,449.0 L135.5,449.0 L136.0,449.0 L136.5,449.0 L137.0,449.0 L137.5,449.0 L138.0,449.0 L138.5,449.0 L139.0,449.0 L139.5,449.0 L140.0,449.0 L140.5,449.0 L141.0,449.0 L141.5,449.0 L142.0,449.0 L142.5,449.0 L143.0,449.0 L143.5,449.0 L144.0,449.0 L144.5,449.0 L145.0,449.0 L145.5,449.0 L146.0,449.0 L146.5,449.0 L147.0,449.0 L147.5,449.0 L148.0,449.0 L148.5,449.0 L149.0,449.0 L149.5,449.0 L150.0,449.0 L150.5,449.0 L151.0,449.0 L151.5,449.0 L152.0,449.0 L152.5,449.0 L153.0,449.0 L153.5,449.0 L154.0,449.0 L154.5,449.0 L155.0,449.0 L155.5,449.0 L156.0,449.0 L156.5,449.0 L157.0,449.0 L157.5,449.0 L158.0,449.0 L158.5,449.0 L159.0,449.0 L159.5,449.0 L160.0,449.0 L160.5,449.0 L161.0,449.0 L161.5,449.0 L162.0,449.0 L162.5,449.0 L163.0,449.0 L163.5,449.0 L164.0,449.0 L164.5,449.0 L165.0,449.0 L165.5,449.0 L166.0,449.0 L166.5,449.0 L167.0,449.0 L167.5,449.0 L168.0,449.0 L168.5,449.0 L169.0,449.0 L169.5,449.0 L170.0,449.0 L170.5,449.0 L171.0,449.0 L171.5,449.0 L172.0,449.0 L172.5,449.0 L173.0,449.0 L173.5,449.0 L174.0,449.0 L174.5,449.0 L175.0,449.0 L175.5,449.0 L176.0,449.0 L176.5,449.0 L177.0,449.0 L177.5,449.0 L178.0,449.0 L178.5,449.0 L179.0,449.0 L179.5,449.0 L180.0,449.0 L180.5,449.0 L181.0,449.0 L181.5,449.0 L182.0,449.0 L182.5,449.0 L183.0,449.0 L183.5,449.0 L184.0,449.0 L184.5,449.0 L185.0,449.0 L185.5,449.0 L186.0,449.0 L186.5,449.0 L187.0,449.0 L187.5,449.0 L188.0,449.0 L188.5,449.0 L189.0,449.0 L189.5,449.0 L190.0,449.0 L190.5,449.0 L191.0,449.0 L191.5,449.0 L192.0,449.0 L192.5,449.0 L193.0,449.0 L193.5,449.0 L194.0,449.0 L194.5,449.0 L195.0,449.0 L195.5,449.0 L196.0,449.0 L196.5,449.0 L197.0,449.0 L197.5,449.0 L198.0,449.0 L198.5,449.0 L199.0,449.0 L199.5,449.0 L200.0,449.0 L200.5,449.0 L201.0,449.0 L201.5,449.0 L202.0,449.0 L202.5,449.0 L203.0,449.0 L203.5,449.0 L204.0,449.0 L204.5,449.0 L205.0,449.0 L205.5,449.0 L206.0,449.0 L206.5,449.0 L207.0,449.0 L207.5,449.0 L208.0,449.0 L208.5,449.0 L209.0,449.0 L209.5,449.0 L210.0,449.0 L210.5,449.0 L211.0,449.0 L211.5,449.0 L212.0,449.0 L212.5,449.0 L213.0,449.0 L213.5,449.0 L214.0,449.0 L214.5,449.0 L215.0,449.0 L215.5,449.0 L216.0,449.0 L216.5,449.0 L217.0,449.0 L217.5,449.0 L218.0,449.0 L218.5,449.0 L219.0,449.0 L219.5,449.0 L220.0,449.0 L220.5,449.0 L221.0,449.0 L221.5,449.0 L222.0,449.0 L222.5,449.0 L223.0,449.0 L223.5,449.0 L224.0,449.0 L224.5,449.0 L225.0,449.0 L225.5,449.0 L226.0,449.0 L226.5,449.0 L227.0,449.0 L227.5,449.0 L228.0,449.0 L228.5,449.0 L229.0,449.0 L229.5,449.0 L230.0,449.0 L230.5,449.0 L231.0,449.0 L231.5,449.0 L232.0,449.0 L232.5,449.0 L233.0,449.0 L233.5,449.0 L234.0,449.0 L234.5,449.0 L235.0,449.0 L235.5,449.0 L236.0,449.0 L236.5,449.0 L237.0,449.0 L237.5,449.0 L238.0,449.0 L238.5,449.0 L239.0,449.0 L239.5,449.0 L240.0,449.0 L240.5,449.0 L241.0,449.0 L241.5,449.0 L242.0,449.0 L242.5,449.0 L243.0,448.9 L243.5,448.9 L244.0,448.9 L244.5,448.9 L245.0,448.8 L245.5,448.8 L246.0,448.8 L246.5,448.8 L247.0,448.7 L247.5,448.7 L248.0,448.6 L248.5,448.6 L249.0,448.6 L249.5,448.5 L250.0,448.5 L250.5,448.5 L251.0,448.4 L251.5,448.4 L252.0,448.3 L252.5,448.3 L253.0,448.2 L253.5,448.2 L254.0,448.1 L254.5,448.0 L255.0,448.0 L255.5,447.9 L256.0,447.8 L256.5,447.7 L257.0,447.6 L257.5,447.5 L258.0,447.3 L258.5,447.1 L259.0,446.8 L259.5,446.5 L260.0,446.2 L260.5,445.9 L261.0,445.6 L261.5,445.2 L262.0,444.9 L262.5,444.6 L263.0,444.3 L263.5,443.9 L264.0,443.5 L264.5,443.1 L265.0,442.7 L265.5,442.2 L266.0,441.7 L266.5,441.1 L267.0,440.4 L267.5,439.6 L268.0,438.7 L268.5,437.8 L269.0,436.8 L269.5,435.7 L270.0,434.6 L270.5,433.5 L271.0,432.5 L271.5,431.5 L272.0,430.4 L272.5,429.4 L273.0,428.3 L273.5,427.2 L274.0,426.1 L274.5,424.9 L275.0,423.7 L275.5,422.4 L276.0,421.1 L276.5,419.6 L277.0,418.1 L277.5,416.5 L278.0,414.8 L278.5,413.0 L279.0,411.1 L279.5,409.1 L280.0,407.1 L280.5,405.0 L281.0,402.8 L281.5,400.5 L282.0,398.1 L282.5,395.6 L283.0,392.9 L283.5,390.1 L284.0,387.2 L284.5,384.0 L285.0,380.7 L285.5,377.2 L286.0,373.5 L286.5,369.0 L287.0,363.8 L287.5,358.4 L288.0,353.4 L288.5,349.3 L289.0,345.8 L289.5,342.8 L290.0,339.9 L290.5,336.9 L291.0,333.8 L291.5,330.4 L292.0,327.0 L292.5,323.6 L293.0,320.1 L293.5,316.7 L294.0,313.4 L294.5,310.3 L295.0,307.4 L295.5,304.6 L296.0,302.0 L296.5,299.4 L297.0,296.8 L297.5,294.4 L298.0,292.0 L298.5,289.9 L299.0,287.9 L299.5,286.1 L300.0,284.6 L300.5,283.2 L301.0,281.9 L301.5,280.7 L302.0,279.6 L302.5,278.5 L303.0,277.5 L303.5,276.6 L304.0,275.8 L304.5,275.0 L305.0,274.3 L305.5,273.6 L306.0,273.0 L306.5,272.4 L307.0,271.9 L307.5,271.4 L308.0,270.9 L308.5,270.5 L309.0,270.1 L309.5,269.7 L310.0,269.3 L310.5,269.0 L311.0,268.7 L311.5,268.4 L312.0,268.2 L312.5,267.9 L313.0,267.7 L313.5,267.5 L314.0,267.3 L314.5,267.1 L315.0,266.9 L315.5,266.7 L316.0,266.6 L316.5,266.4 L317.0,266.3 L317.5,266.1 L318.0,266.0 L318.5,265.9 L319.0,265.7 L319.5,265.6 L320.0,265.5 L320.5,265.4 L321.0,265.3 L321.5,265.2 L322.0,265.1 L322.5,264.9 L323.0,264.8 L323.5,264.7 L324.0,264.6 L324.5,264.5 L325.0,264.4 L325.5,264.3 L326.0,264.2 L326.5,264.2 L327.0,264.1 L327.5,264.0 L328.0,263.9 L328.5,263.8 L329.0,263.7 L329.5,263.7 L330.0,263.6 L330.5,263.5 L331.0,263.5 L331.5,263.4 L332.0,263.3 L332.5,263.2 L333.0,263.2 L333.5,263.1 L334.0,263.0 L334.5,263.0 L335.0,262.9 L335.5,262.9 L336.0,262.8 L336.5,262.7 L337.0,262.7 L337.5,262.6 L338.0,262.6 L338.5,262.5 L339.0,262.5 L339.5,262.4 L340.0,262.4 L340.5,262.3 L341.0,262.3" fill="none" stroke="#0000a0" stroke-width="1.25" stroke-linejoin="round"/>
<path d="M52.0,447.1h3.8v3.8h-3.8zM56.8,447.1h3.8v3.8h-3.8zM61.7,447.1h3.8v3.8h-3.8zM66.5,447.1h3.8v3.8h-3.8zM71.3,447.1h3.8v3.8h-3.8zM76.2,447.1h3.8v3.8h-3.8zM81.0,447.1h3.8v3.8h-3.8zM85.8,447.1h3.8v3.8h-3.8zM90.7,447.1h3.8v3.8h-3.8zM95.5,447.1h3.8v3.8h-3.8zM100.3,447.1h3.8v3.8h-3.8zM105.2,447.1h3.8v3.8h-3.8zM110.0,447.1h3.8v3.8h-3.8zM114.8,447.1h3.8v3.8h-3.8zM119.7,447.1h3.8v3.8h-3.8zM124.5,447.1h3.8v3.8h-3.8zM129.3,447.1h3.8v3.8h-3.8zM134.2,447.1h3.8v3.8h-3.8zM139.0,447.1h3.8v3.8h-3.8zM143.8,447.1h3.8v3.8h-3.8zM148.7,447.1h3.8v3.8h-3.8zM153.5,447.1h3.8v3.8h-3.8zM158.3,447.1h3.8v3.8h-3.8zM163.2,447.1h3.8v3.8h-3.8zM168.0,447.1h3.8v3.8h-3.8zM172.8,447.1h3.8v3.8h-3.8zM177.7,447.1h3.8v3.8h-3.8zM182.5,447.1h3.8v3.8h-3.8zM187.3,447.1h3.8v3.8h-3.8zM192.2,447.1h3.8v3.8h-3.8zM197.0,447.1h3.8v3.8h-3.8zM201.8,447.1h3.8v3.8h-3.8zM206.7,447.1h3.8v3.8h-3.8zM211.5,447.1h3.8v3.8h-3.8zM216.3,447.1h3.8v3.8h-3.8zM221.2,447.1h3.8v3.8h-3.8zM226.0,447.1h3.8v3.8h-3.8zM230.8,447.1h3.8v3.8h-3.8zM235.7,447.1h3.8v3.8h-3.8zM240.5,447.1h3.8v3.8h-3.8zM245.3,446.8h3.8v3.8h-3.8zM250.2,446.4h3.8v3.8h-3.8zM255.0,445.7h3.8v3.8h-3.8zM259.8,443.2h3.8v3.8h-3.8zM264.7,439.2h3.8v3.8h-3.8zM269.5,429.8h3.8v3.8h-3.8zM274.3,418.5h3.8v3.8h-3.8zM279.2,400.6h3.8v3.8h-3.8zM284.0,372.5h3.8v3.8h-3.8zM288.8,333.7h3.8v3.8h-3.8zM293.6,302.5h3.8v3.8h-3.8zM298.5,281.7h3.8v3.8h-3.8zM303.3,272.1h3.8v3.8h-3.8zM308.1,267.4h3.8v3.8h-3.8zM313.0,265.0h3.8v3.8h-3.8zM317.8,263.7h3.8v3.8h-3.8zM322.6,262.6h3.8v3.8h-3.8zM327.5,261.8h3.8v3.8h-3.8zM332.3,261.1h3.8v3.8h-3.8zM337.1,260.6h3.8v3.8h-3.8z" fill="#0000a0"/>
</g>
<g clip-path="url(#cb)">
<path d="M60.0,449.0 L60.5,449.0 L61.0,449.0 L61.5,449.0 L62.0,449.0 L62.5,449.0 L63.0,449.0 L63.5,449.0 L64.0,449.0 L64.5,449.0 L65.0,449.0 L65.5,449.0 L66.0,449.0 L66.5,449.0 L67.0,449.0 L67.5,449.0 L68.0,449.0 L68.5,449.0 L69.0,449.0 L69.5,449.0 L70.0,449.0 L70.5,449.0 L71.0,449.0 L71.5,449.0 L72.0,449.0 L72.5,449.0 L73.0,449.0 L73.5,449.0 L74.0,449.0 L74.5,449.0 L75.0,449.0 L75.5,449.0 L76.0,449.0 L76.5,449.0 L77.0,449.0 L77.5,449.0 L78.0,449.0 L78.5,449.0 L79.0,449.0 L79.5,449.0 L80.0,449.0 L80.5,449.0 L81.0,449.0 L81.5,449.0 L82.0,449.0 L82.5,449.0 L83.0,449.0 L83.5,449.0 L84.0,449.0 L84.5,449.0 L85.0,449.0 L85.5,449.0 L86.0,449.0 L86.5,449.0 L87.0,449.0 L87.5,449.0 L88.0,449.0 L88.5,449.0 L89.0,449.0 L89.5,449.0 L90.0,449.0 L90.5,449.0 L91.0,449.0 L91.5,449.0 L92.0,449.0 L92.5,449.0 L93.0,449.0 L93.5,449.0 L94.0,449.0 L94.5,449.0 L95.0,449.0 L95.5,449.0 L96.0,449.0 L96.5,449.0 L97.0,449.0 L97.5,449.0 L98.0,449.0 L98.5,449.0 L99.0,449.0 L99.5,449.0 L100.0,449.0 L100.5,449.0 L101.0,449.0 L101.5,449.0 L102.0,449.0 L102.5,449.0 L103.0,449.0 L103.5,449.0 L104.0,449.0 L104.5,449.0 L105.0,449.0 L105.5,449.0 L106.0,449.0 L106.5,449.0 L107.0,449.0 L107.5,449.0 L108.0,449.0 L108.5,449.0 L109.0,449.0 L109.5,449.0 L110.0,449.0 L110.5,449.0 L111.0,449.0 L111.5,449.0 L112.0,449.0 L112.5,449.0 L113.0,449.0 L113.5,449.0 L114.0,449.0 L114.5,449.0 L115.0,449.0 L115.5,449.0 L116.0,449.0 L116.5,449.0 L117.0,449.0 L117.5,449.0 L118.0,449.0 L118.5,449.0 L119.0,449.0 L119.5,449.0 L120.0,449.0 L120.5,449.0 L121.0,449.0 L121.5,449.0 L122.0,449.0 L122.5,449.0 L123.0,449.0 L123.5,449.0 L124.0,449.0 L124.5,449.0 L125.0,449.0 L125.5,449.0 L126.0,449.0 L126.5,449.0 L127.0,449.0 L127.5,449.0 L128.0,449.0 L128.5,449.0 L129.0,449.0 L129.5,449.0 L130.0,449.0 L130.5,449.0 L131.0,449.0 L131.5,449.0 L132.0,449.0 L132.5,449.0 L133.0,449.0 L133.5,449.0 L134.0,449.0 L134.5,449.0 L135.0,449.0 L135.5,449.0 L136.0,449.0 L136.5,449.0 L137.0,449.0 L137.5,449.0 L138.0,449.0 L138.5,449.0 L139.0,449.0 L139.5,449.0 L140.0,449.0 L140.5,449.0 L141.0,449.0 L141.5,449.0 L142.0,449.0 L142.5,449.0 L143.0,449.0 L143.5,449.0 L144.0,449.0 L144.5,449.0 L145.0,449.0 L145.5,449.0 L146.0,449.0 L146.5,449.0 L147.0,449.0 L147.5,449.0 L148.0,449.0 L148.5,449.0 L149.0,449.0 L149.5,449.0 L150.0,449.0 L150.5,449.0 L151.0,449.0 L151.5,449.0 L152.0,449.0 L152.5,449.0 L153.0,449.0 L153.5,449.0 L154.0,449.0 L154.5,449.0 L155.0,449.0 L155.5,449.0 L156.0,449.0 L156.5,449.0 L157.0,449.0 L157.5,449.0 L158.0,449.0 L158.5,449.0 L159.0,449.0 L159.5,449.0 L160.0,449.0 L160.5,449.0 L161.0,449.0 L161.5,449.0 L162.0,449.0 L162.5,449.0 L163.0,449.0 L163.5,449.0 L164.0,449.0 L164.5,449.0 L165.0,449.0 L165.5,449.0 L166.0,449.0 L166.5,449.0 L167.0,449.0 L167.5,449.0 L168.0,449.0 L168.5,449.0 L169.0,449.0 L169.5,449.0 L170.0,449.0 L170.5,449.0 L171.0,449.0 L171.5,449.0 L172.0,449.0 L172.5,449.0 L173.0,449.0 L173.5,449.0 L174.0,449.0 L174.5,449.0 L175.0,449.0 L175.5,449.0 L176.0,449.0 L176.5,449.0 L177.0,449.0 L177.5,449.0 L178.0,449.0 L178.5,449.0 L179.0,449.0 L179.5,449.0 L180.0,449.0 L180.5,449.0 L181.0,449.0 L181.5,449.0 L182.0,449.0 L182.5,449.0 L183.0,449.0 L183.5,449.0 L184.0,449.0 L184.5,449.0 L185.0,449.0 L185.5,449.0 L186.0,449.0 L186.5,449.0 L187.0,449.0 L187.5,449.0 L188.0,449.0 L188.5,449.0 L189.0,449.0 L189.5,449.0 L190.0,449.0 L190.5,449.0 L191.0,449.0 L191.5,449.0 L192.0,449.0 L192.5,449.0 L193.0,449.0 L193.5,449.0 L194.0,449.0 L194.5,449.0 L195.0,449.0 L195.5,449.0 L196.0,449.0 L196.5,449.0 L197.0,449.0 L197.5,449.0 L198.0,449.0 L198.5,449.0 L199.0,449.0 L199.5,449.0 L200.0,449.0 L200.5,449.0 L201.0,449.0 L201.5,449.0 L202.0,449.0 L202.5,449.0 L203.0,449.0 L203.5,449.0 L204.0,449.0 L204.5,449.0 L205.0,449.0 L205.5,449.0 L206.0,449.0 L206.5,449.0 L207.0,449.0 L207.5,449.0 L208.0,449.0 L208.5,449.0 L209.0,449.0 L209.5,449.0 L210.0,449.0 L210.5,449.0 L211.0,449.0 L211.5,449.0 L212.0,449.0 L212.5,449.0 L213.0,449.0 L213.5,449.0 L214.0,449.0 L214.5,449.0 L215.0,449.0 L215.5,449.0 L216.0,449.0 L216.5,449.0 L217.0,449.0 L217.5,449.0 L218.0,449.0 L218.5,449.0 L219.0,449.0 L219.5,449.0 L220.0,449.0 L220.5,449.0 L221.0,449.0 L221.5,449.0 L222.0,449.0 L222.5,449.0 L223.0,449.0 L223.5,449.0 L224.0,449.0 L224.5,449.0 L225.0,449.0 L225.5,449.0 L226.0,449.0 L226.5,449.0 L227.0,449.0 L227.5,449.0 L228.0,449.0 L228.5,449.0 L229.0,449.0 L229.5,449.0 L230.0,449.0 L230.5,449.0 L231.0,449.0 L231.5,449.0 L232.0,449.0 L232.5,449.0 L233.0,449.0 L233.5,449.0 L234.0,449.0 L234.5,449.0 L235.0,449.0 L235.5,449.0 L236.0,449.0 L236.5,449.0 L237.0,449.0 L237.5,449.0 L238.0,448.9 L238.5,448.9 L239.0,448.9 L239.5,448.9 L240.0,448.9 L240.5,448.8 L241.0,448.8 L241.5,448.8 L242.0,448.7 L242.5,448.7 L243.0,448.7 L243.5,448.6 L244.0,448.6 L244.5,448.5 L245.0,448.5 L245.5,448.5 L246.0,448.4 L246.5,448.3 L247.0,448.2 L247.5,448.2 L248.0,448.1 L248.5,448.0 L249.0,447.8 L249.5,447.7 L250.0,447.6 L250.5,447.5 L251.0,447.3 L251.5,447.2 L252.0,447.0 L252.5,446.8 L253.0,446.6 L253.5,446.4 L254.0,446.1 L254.5,445.8 L255.0,445.5 L255.5,445.1 L256.0,444.8 L256.5,444.4 L257.0,444.0 L257.5,443.6 L258.0,443.2 L258.5,442.7 L259.0,442.2 L259.5,441.7 L260.0,441.1 L260.5,440.6 L261.0,440.0 L261.5,439.4 L262.0,438.8 L262.5,438.1 L263.0,437.5 L263.5,436.8 L264.0,436.1 L264.5,435.3 L265.0,434.6 L265.5,433.7 L266.0,432.9 L266.5,431.9 L267.0,430.9 L267.5,429.9 L268.0,428.7 L268.5,427.5 L269.0,426.2 L269.5,424.9 L270.0,423.6 L270.5,422.2 L271.0,420.8 L271.5,419.4 L272.0,417.9 L272.5,416.4 L273.0,414.8 L273.5,413.2 L274.0,411.5 L274.5,409.7 L275.0,407.9 L275.5,405.9 L276.0,403.9 L276.5,401.7 L277.0,399.3 L277.5,396.7 L278.0,394.0 L278.5,391.1 L279.0,388.1 L279.5,385.0 L280.0,381.7 L280.5,378.4 L281.0,375.0 L281.5,371.3 L282.0,367.4 L282.5,363.4 L283.0,359.2 L283.5,355.1 L284.0,350.9 L284.5,346.5 L285.0,342.3 L285.5,338.6 L286.0,335.1 L286.5,331.9 L287.0,328.7 L287.5,325.7 L288.0,322.8 L288.5,320.0 L289.0,317.2 L289.5,314.6 L290.0,311.9 L290.5,309.3 L291.0,306.7 L291.5,304.1 L292.0,301.5 L292.5,299.0 L293.0,296.7 L293.5,294.4 L294.0,292.3 L294.5,290.3 L295.0,288.6 L295.5,287.0 L296.0,285.5 L296.5,284.0 L297.0,282.6 L297.5,281.3 L298.0,280.1 L298.5,279.0 L299.0,277.9 L299.5,277.0 L300.0,276.1 L300.5,275.3 L301.0,274.6 L301.5,273.8 L302.0,273.1 L302.5,272.5 L303.0,271.9 L303.5,271.4 L304.0,270.8 L304.5,270.4 L305.0,270.0 L305.5,269.6 L306.0,269.3 L306.5,269.0 L307.0,268.7 L307.5,268.5 L308.0,268.2 L308.5,268.0 L309.0,267.8 L309.5,267.6 L310.0,267.4 L310.5,267.2 L311.0,267.0 L311.5,266.8 L312.0,266.6 L312.5,266.5 L313.0,266.3 L313.5,266.2 L314.0,266.1 L314.5,265.9 L315.0,265.8 L315.5,265.7 L316.0,265.6 L316.5,265.5 L317.0,265.4 L317.5,265.4 L318.0,265.3 L318.5,265.2 L319.0,265.1 L319.5,265.0 L320.0,264.9 L320.5,264.8 L321.0,264.7 L321.5,264.6 L322.0,264.5 L322.5,264.4 L323.0,264.3 L323.5,264.2 L324.0,264.1 L324.5,264.0 L325.0,263.9 L325.5,263.9 L326.0,263.8 L326.5,263.7 L327.0,263.6 L327.5,263.5 L328.0,263.4 L328.5,263.3 L329.0,263.2 L329.5,263.2 L330.0,263.1 L330.5,263.0 L331.0,263.0 L331.5,262.9 L332.0,262.8 L332.5,262.7 L333.0,262.7 L333.5,262.6 L334.0,262.6 L334.5,262.5 L335.0,262.4 L335.5,262.4 L336.0,262.3 L336.5,262.2 L337.0,262.2 L337.5,262.1 L338.0,262.1 L338.5,262.0 L339.0,262.0 L339.5,261.9 L340.0,261.9 L340.5,261.8 L341.0,261.8" fill="none" stroke="#ffff00" stroke-width="1.25" stroke-linejoin="round"/>
<path d="M52.0,447.1h3.8v3.8h-3.8zM56.8,447.1h3.8v3.8h-3.8zM61.7,447.1h3.8v3.8h-3.8zM66.5,447.1h3.8v3.8h-3.8zM71.3,447.1h3.8v3.8h-3.8zM76.2,447.1h3.8v3.8h-3.8zM81.0,447.1h3.8v3.8h-3.8zM85.8,447.1h3.8v3.8h-3.8zM90.7,447.1h3.8v3.8h-3.8zM95.5,447.1h3.8v3.8h-3.8zM100.3,447.1h3.8v3.8h-3.8zM105.2,447.1h3.8v3.8h-3.8zM110.0,447.1h3.8v3.8h-3.8zM114.8,447.1h3.8v3.8h-3.8zM119.7,447.1h3.8v3.8h-3.8zM124.5,447.1h3.8v3.8h-3.8zM129.3,447.1h3.8v3.8h-3.8zM134.2,447.1h3.8v3.8h-3.8zM139.0,447.1h3.8v3.8h-3.8zM143.8,447.1h3.8v3.8h-3.8zM148.7,447.1h3.8v3.8h-3.8zM153.5,447.1h3.8v3.8h-3.8zM158.3,447.1h3.8v3.8h-3.8zM163.2,447.1h3.8v3.8h-3.8zM168.0,447.1h3.8v3.8h-3.8zM172.8,447.1h3.8v3.8h-3.8zM177.7,447.1h3.8v3.8h-3.8zM182.5,447.1h3.8v3.8h-3.8zM187.3,447.1h3.8v3.8h-3.8zM192.2,447.1h3.8v3.8h-3.8zM197.0,447.1h3.8v3.8h-3.8zM201.8,447.1h3.8v3.8h-3.8zM206.7,447.1h3.8v3.8h-3.8zM211.5,447.1h3.8v3.8h-3.8zM216.3,447.1h3.8v3.8h-3.8zM221.2,447.1h3.8v3.8h-3.8zM226.0,447.1h3.8v3.8h-3.8zM230.8,447.1h3.8v3.8h-3.8zM235.7,447.1h3.8v3.8h-3.8zM240.5,446.8h3.8v3.8h-3.8zM245.3,446.3h3.8v3.8h-3.8zM250.2,445.1h3.8v3.8h-3.8zM255.0,442.2h3.8v3.8h-3.8zM259.8,437.2h3.8v3.8h-3.8zM264.7,429.9h3.8v3.8h-3.8zM269.5,417.8h3.8v3.8h-3.8zM274.3,401.0h3.8v3.8h-3.8zM279.2,372.8h3.8v3.8h-3.8zM284.0,334.0h3.8v3.8h-3.8zM288.8,306.3h3.8v3.8h-3.8zM293.6,284.9h3.8v3.8h-3.8zM298.5,273.6h3.8v3.8h-3.8zM303.3,267.9h3.8v3.8h-3.8zM308.1,265.4h3.8v3.8h-3.8zM313.0,264.0h3.8v3.8h-3.8zM317.8,263.1h3.8v3.8h-3.8zM322.6,262.1h3.8v3.8h-3.8zM327.5,261.3h3.8v3.8h-3.8zM332.3,260.6h3.8v3.8h-3.8zM337.1,260.1h3.8v3.8h-3.8z" fill="#ffff00"/>
</g>
<g clip-path="url(#cb)">
<path d="M60.0,449.0 L60.5,449.0 L61.0,449.0 L61.5,449.0 L62.0,449.0 L62.5,449.0 L63.0,449.0 L63.5,449.0 L64.0,449.0 L64.5,449.0 L65.0,449.0 L65.5,449.0 L66.0,449.0 L66.5,449.0 L67.0,449.0 L67.5,449.0 L68.0,449.0 L68.5,449.0 L69.0,449.0 L69.5,449.0 L70.0,449.0 L70.5,449.0 L71.0,449.0 L71.5,449.0 L72.0,449.0 L72.5,449.0 L73.0,449.0 L73.5,449.0 L74.0,449.0 L74.5,449.0 L75.0,449.0 L75.5,449.0 L76.0,449.0 L76.5,449.0 L77.0,449.0 L77.5,449.0 L78.0,449.0 L78.5,449.0 L79.0,449.0 L79.5,449.0 L80.0,449.0 L80.5,449.0 L81.0,449.0 L81.5,449.0 L82.0,449.0 L82.5,449.0 L83.0,449.0 L83.5,449.0 L84.0,449.0 L84.5,449.0 L85.0,449.0 L85.5,449.0 L86.0,449.0 L86.5,449.0 L87.0,449.0 L87.5,449.0 L88.0,449.0 L88.5,449.0 L89.0,449.0 L89.5,449.0 L90.0,449.0 L90.5,449.0 L91.0,449.0 L91.5,449.0 L92.0,449.0 L92.5,449.0 L93.0,449.0 L93.5,449.0 L94.0,449.0 L94.5,449.0 L95.0,449.0 L95.5,449.0 L96.0,449.0 L96.5,449.0 L97.0,449.0 L97.5,449.0 L98.0,449.0 L98.5,449.0 L99.0,449.0 L99.5,449.0 L100.0,449.0 L100.5,449.0 L101.0,449.0 L101.5,449.0 L102.0,449.0 L102.5,449.0 L103.0,449.0 L103.5,449.0 L104.0,449.0 L104.5,449.0 L105.0,449.0 L105.5,449.0 L106.0,449.0 L106.5,449.0 L107.0,449.0 L107.5,449.0 L108.0,449.0 L108.5,449.0 L109.0,449.0 L109.5,449.0 L110.0,449.0 L110.5,449.0 L111.0,449.0 L111.5,449.0 L112.0,449.0 L112.5,449.0 L113.0,449.0 L113.5,449.0 L114.0,449.0 L114.5,449.0 L115.0,449.0 L115.5,449.0 L116.0,449.0 L116.5,449.0 L117.0,449.0 L117.5,449.0 L118.0,449.0 L118.5,449.0 L119.0,449.0 L119.5,449.0 L120.0,449.0 L120.5,449.0 L121.0,449.0 L121.5,449.0 L122.0,449.0 L122.5,449.0 L123.0,449.0 L123.5,449.0 L124.0,449.0 L124.5,449.0 L125.0,449.0 L125.5,449.0 L126.0,449.0 L126.5,449.0 L127.0,449.0 L127.5,449.0 L128.0,449.0 L128.5,449.0 L129.0,449.0 L129.5,449.0 L130.0,449.0 L130.5,449.0 L131.0,449.0 L131.5,449.0 L132.0,449.0 L132.5,449.0 L133.0,449.0 L133.5,449.0 L134.0,449.0 L134.5,449.0 L135.0,449.0 L135.5,449.0 L136.0,449.0 L136.5,449.0 L137.0,449.0 L137.5,449.0 L138.0,449.0 L138.5,449.0 L139.0,449.0 L139.5,449.0 L140.0,449.0 L140.5,449.0 L141.0,449.0 L141.5,449.0 L142.0,449.0 L142.5,449.0 L143.0,449.0 L143.5,449.0 L144.0,449.0 L144.5,449.0 L145.0,449.0 L145.5,449.0 L146.0,449.0 L146.5,449.0 L147.0,449.0 L147.5,449.0 L148.0,449.0 L148.5,449.0 L149.0,449.0 L149.5,449.0 L150.0,449.0 L150.5,449.0 L151.0,449.0 L151.5,449.0 L152.0,449.0 L152.5,449.0 L153.0,449.0 L153.5,449.0 L154.0,449.0 L154.5,449.0 L155.0,449.0 L155.5,449.0 L156.0,449.0 L156.5,449.0 L157.0,449.0 L157.5,449.0 L158.0,449.0 L158.5,449.0 L159.0,449.0 L159.5,449.0 L160.0,449.0 L160.5,449.0 L161.0,449.0 L161.5,449.0 L162.0,449.0 L162.5,449.0 L163.0,449.0 L163.5,449.0 L164.0,449.0 L164.5,449.0 L165.0,449.0 L165.5,449.0 L166.0,449.0 L166.5,449.0 L167.0,449.0 L167.5,449.0 L168.0,449.0 L168.5,449.0 L169.0,449.0 L169.5,449.0 L170.0,449.0 L170.5,449.0 L171.0,449.0 L171.5,449.0 L172.0,449.0 L172.5,449.0 L173.0,449.0 L173.5,449.0 L174.0,449.0 L174.5,449.0 L175.0,449.0 L175.5,449.0 L176.0,449.0 L176.5,449.0 L177.0,449.0 L177.5,449.0 L178.0,449.0 L178.5,449.0 L179.0,449.0 L179.5,449.0 L180.0,449.0 L180.5,449.0 L181.0,449.0 L181.5,449.0 L182.0,449.0 L182.5,449.0 L183.0,449.0 L183.5,449.0 L184.0,449.0 L184.5,449.0 L185.0,449.0 L185.5,449.0 L186.0,449.0 L186.5,449.0 L187.0,449.0 L187.5,449.0 L188.0,449.0 L188.5,449.0 L189.0,449.0 L189.5,449.0 L190.0,449.0 L190.5,449.0 L191.0,449.0 L191.5,449.0 L192.0,449.0 L192.5,449.0 L193.0,449.0 L193.5,449.0 L194.0,449.0 L194.5,449.0 L195.0,449.0 L195.5,449.0 L196.0,449.0 L196.5,449.0 L197.0,449.0 L197.5,449.0 L198.0,449.0 L198.5,449.0 L199.0,449.0 L199.5,449.0 L200.0,449.0 L200.5,449.0 L201.0,449.0 L201.5,449.0 L202.0,449.0 L202.5,449.0 L203.0,449.0 L203.5,449.0 L204.0,449.0 L204.5,449.0 L205.0,449.0 L205.5,449.0 L206.0,449.0 L206.5,449.0 L207.0,449.0 L207.5,449.0 L208.0,449.0 L208.5,449.0 L209.0,449.0 L209.5,449.0 L210.0,449.0 L210.5,449.0 L211.0,449.0 L211.5,449.0 L212.0,449.0 L212.5,449.0 L213.0,449.0 L213.5,449.0 L214.0,449.0 L214.5,449.0 L215.0,449.0 L215.5,449.0 L216.0,449.0 L216.5,449.0 L217.0,449.0 L217.5,449.0 L218.0,449.0 L218.5,449.0 L219.0,449.0 L219.5,449.0 L220.0,449.0 L220.5,449.0 L221.0,449.0 L221.5,449.0 L222.0,449.0 L222.5,449.0 L223.0,449.0 L223.5,449.0 L224.0,449.0 L224.5,449.0 L225.0,449.0 L225.5,449.0 L226.0,449.0 L226.5,449.0 L227.0,449.0 L227.5,449.0 L228.0,449.0 L228.5,449.0 L229.0,449.0 L229.5,449.0 L230.0,449.0 L230.5,449.0 L231.0,449.0 L231.5,449.0 L232.0,449.0 L232.5,448.9 L233.0,448.9 L233.5,448.9 L234.0,448.9 L234.5,448.8 L235.0,448.8 L235.5,448.8 L236.0,448.7 L236.5,448.7 L237.0,448.6 L237.5,448.6 L238.0,448.5 L238.5,448.5 L239.0,448.4 L239.5,448.4 L240.0,448.3 L240.5,448.2 L241.0,448.1 L241.5,448.0 L242.0,447.9 L242.5,447.8 L243.0,447.6 L243.5,447.5 L244.0,447.3 L244.5,447.1 L245.0,446.9 L245.5,446.7 L246.0,446.5 L246.5,446.3 L247.0,446.0 L247.5,445.8 L248.0,445.5 L248.5,445.3 L249.0,444.9 L249.5,444.6 L250.0,444.2 L250.5,443.9 L251.0,443.5 L251.5,443.0 L252.0,442.6 L252.5,442.1 L253.0,441.6 L253.5,441.0 L254.0,440.4 L254.5,439.7 L255.0,439.1 L255.5,438.4 L256.0,437.7 L256.5,436.9 L257.0,436.2 L257.5,435.5 L258.0,434.7 L258.5,433.9 L259.0,433.1 L259.5,432.3 L260.0,431.4 L260.5,430.5 L261.0,429.6 L261.5,428.6 L262.0,427.6 L262.5,426.5 L263.0,425.3 L263.5,424.1 L264.0,422.8 L264.5,421.5 L265.0,420.1 L265.5,418.7 L266.0,417.1 L266.5,415.5 L267.0,413.8 L267.5,411.9 L268.0,409.8 L268.5,407.7 L269.0,405.5 L269.5,403.3 L270.0,401.0 L270.5,398.8 L271.0,396.5 L271.5,394.3 L272.0,392.0 L272.5,389.7 L273.0,387.4 L273.5,385.1 L274.0,382.7 L274.5,380.3 L275.0,377.7 L275.5,375.1 L276.0,372.3 L276.5,369.4 L277.0,366.3 L277.5,362.8 L278.0,359.2 L278.5,355.5 L279.0,351.7 L279.5,348.0 L280.0,344.3 L280.5,340.8 L281.0,337.4 L281.5,334.0 L282.0,330.7 L282.5,327.4 L283.0,324.1 L283.5,320.9 L284.0,317.9 L284.5,314.9 L285.0,312.2 L285.5,309.6 L286.0,307.1 L286.5,304.6 L287.0,302.2 L287.5,299.9 L288.0,297.8 L288.5,295.7 L289.0,293.7 L289.5,291.9 L290.0,290.3 L290.5,288.8 L291.0,287.4 L291.5,286.1 L292.0,284.8 L292.5,283.7 L293.0,282.5 L293.5,281.5 L294.0,280.5 L294.5,279.5 L295.0,278.6 L295.5,277.7 L296.0,276.8 L296.5,276.0 L297.0,275.2 L297.5,274.4 L298.0,273.7 L298.5,273.0 L299.0,272.4 L299.5,271.8 L300.0,271.3 L300.5,270.8 L301.0,270.4 L301.5,270.0 L302.0,269.6 L302.5,269.2 L303.0,268.8 L303.5,268.5 L304.0,268.2 L304.5,267.9 L305.0,267.7 L305.5,267.5 L306.0,267.3 L306.5,267.1 L307.0,266.9 L307.5,266.7 L308.0,266.5 L308.5,266.4 L309.0,266.2 L309.5,266.1 L310.0,266.0 L310.5,265.8 L311.0,265.7 L311.5,265.6 L312.0,265.5 L312.5,265.4 L313.0,265.3 L313.5,265.2 L314.0,265.1 L314.5,265.0 L315.0,264.9 L315.5,264.8 L316.0,264.7 L316.5,264.6 L317.0,264.6 L317.5,264.5 L318.0,264.4 L318.5,264.3 L319.0,264.2 L319.5,264.1 L320.0,264.0 L320.5,263.9 L321.0,263.8 L321.5,263.7 L322.0,263.7 L322.5,263.6 L323.0,263.5 L323.5,263.4 L324.0,263.3 L324.5,263.2 L325.0,263.1 L325.5,263.0 L326.0,262.9 L326.5,262.8 L327.0,262.8 L327.5,262.7 L328.0,262.6 L328.5,262.5 L329.0,262.4 L329.5,262.4 L330.0,262.3 L330.5,262.2 L331.0,262.2 L331.5,262.1 L332.0,262.0 L332.5,262.0 L333.0,261.9 L333.5,261.8 L334.0,261.8 L334.5,261.7 L335.0,261.6 L335.5,261.6 L336.0,261.5 L336.5,261.5 L337.0,261.4 L337.5,261.3 L338.0,261.3 L338.5,261.2 L339.0,261.2 L339.5,261.1 L340.0,261.1 L340.5,261.0 L341.0,261.0" fill="none" stroke="#ff00ff" stroke-width="1.25" stroke-linejoin="round"/>
<path d="M52.0,447.1h3.8v3.8h-3.8zM56.8,447.1h3.8v3.8h-3.8zM61.7,447.1h3.8v3.8h-3.8zM66.5,447.1h3.8v3.8h-3.8zM71.3,447.1h3.8v3.8h-3.8zM76.2,447.1h3.8v3.8h-3.8zM81.0,447.1h3.8v3.8h-3.8zM85.8,447.1h3.8v3.8h-3.8zM90.7,447.1h3.8v3.8h-3.8zM95.5,447.1h3.8v3.8h-3.8zM100.3,447.1h3.8v3.8h-3.8zM105.2,447.1h3.8v3.8h-3.8zM110.0,447.1h3.8v3.8h-3.8zM114.8,447.1h3.8v3.8h-3.8zM119.7,447.1h3.8v3.8h-3.8zM124.5,447.1h3.8v3.8h-3.8zM129.3,447.1h3.8v3.8h-3.8zM134.2,447.1h3.8v3.8h-3.8zM139.0,447.1h3.8v3.8h-3.8zM143.8,447.1h3.8v3.8h-3.8zM148.7,447.1h3.8v3.8h-3.8zM153.5,447.1h3.8v3.8h-3.8zM158.3,447.1h3.8v3.8h-3.8zM163.2,447.1h3.8v3.8h-3.8zM168.0,447.1h3.8v3.8h-3.8zM172.8,447.1h3.8v3.8h-3.8zM177.7,447.1h3.8v3.8h-3.8zM182.5,447.1h3.8v3.8h-3.8zM187.3,447.1h3.8v3.8h-3.8zM192.2,447.1h3.8v3.8h-3.8zM197.0,447.1h3.8v3.8h-3.8zM201.8,447.1h3.8v3.8h-3.8zM206.7,447.1h3.8v3.8h-3.8zM211.5,447.1h3.8v3.8h-3.8zM216.3,447.1h3.8v3.8h-3.8zM221.2,447.1h3.8v3.8h-3.8zM226.0,447.1h3.8v3.8h-3.8zM230.8,447.0h3.8v3.8h-3.8zM235.7,446.7h3.8v3.8h-3.8zM240.5,445.9h3.8v3.8h-3.8zM245.3,444.0h3.8v3.8h-3.8zM250.2,440.7h3.8v3.8h-3.8zM255.0,434.5h3.8v3.8h-3.8zM259.8,426.2h3.8v3.8h-3.8zM264.7,413.4h3.8v3.8h-3.8zM269.5,392.9h3.8v3.8h-3.8zM274.3,369.2h3.8v3.8h-3.8zM279.2,335.2h3.8v3.8h-3.8zM284.0,305.8h3.8v3.8h-3.8zM288.8,286.3h3.8v3.8h-3.8zM293.6,275.7h3.8v3.8h-3.8zM298.5,269.0h3.8v3.8h-3.8zM303.3,265.7h3.8v3.8h-3.8zM308.1,264.1h3.8v3.8h-3.8zM313.0,263.0h3.8v3.8h-3.8zM317.8,262.2h3.8v3.8h-3.8zM322.6,261.3h3.8v3.8h-3.8zM327.5,260.5h3.8v3.8h-3.8zM332.3,259.8h3.8v3.8h-3.8zM337.1,259.3h3.8v3.8h-3.8z" fill="#ff00ff"/>
</g>
<g clip-path="url(#cb)">
<path d="M60.0,449.0 L60.5,449.0 L61.0,449.0 L61.5,449.0 L62.0,449.0 L62.5,449.0 L63.0,449.0 L63.5,449.0 L64.0,449.0 L64.5,449.0 L65.0,449.0 L65.5,449.0 L66.0,449.0 L66.5,449.0 L67.0,449.0 L67.5,449.0 L68.0,449.0 L68.5,449.0 L69.0,449.0 L69.5,449.0 L70.0,449.0 L70.5,449.0 L71.0,449.0 L71.5,449.0 L72.0,449.0 L72.5,449.0 L73.0,449.0 L73.5,449.0 L74.0,449.0 L74.5,449.0 L75.0,449.0 L75.5,449.0 L76.0,449.0 L76.5,449.0 L77.0,449.0 L77.5,449.0 L78.0,449.0 L78.5,449.0 L79.0,449.0 L79.5,449.0 L80.0,449.0 L80.5,449.0 L81.0,449.0 L81.5,449.0 L82.0,449.0 L82.5,449.0 L83.0,449.0 L83.5,449.0 L84.0,449.0 L84.5,449.0 L85.0,449.0 L85.5,449.0 L86.0,449.0 L86.5,449.0 L87.0,449.0 L87.5,449.0 L88.0,449.0 L88.5,449.0 L89.0,449.0 L89.5,449.0 L90.0,449.0 L90.5,449.0 L91.0,449.0 L91.5,449.0 L92.0,449.0 L92.5,449.0 L93.0,449.0 L93.5,449.0 L94.0,449.0 L94.5,449.0 L95.0,449.0 L95.5,449.0 L96.0,449.0 L96.5,449.0 L97.0,449.0 L97.5,449.0 L98.0,449.0 L98.5,449.0 L99.0,449.0 L99.5,449.0 L100.0,449.0 L100.5,449.0 L101.0,449.0 L101.5,449.0 L102.0,449.0 L102.5,449.0 L103.0,449.0 L103.5,449.0 L104.0,449.0 L104.5,449.0 L105.0,449.0 L105.5,449.0 L106.0,449.0 L106.5,449.0 L107.0,449.0 L107.5,449.0 L108.0,449.0 L108.5,449.0 L109.0,449.0 L109.5,449.0 L110.0,449.0 L110.5,449.0 L111.0,449.0 L111.5,449.0 L112.0,449.0 L112.5,449.0 L113.0,449.0 L113.5,449.0 L114.0,449.0 L114.5,449.0 L115.0,449.0 L115.5,449.0 L116.0,449.0 L116.5,449.0 L117.0,449.0 L117.5,449.0 L118.0,449.0 L118.5,449.0 L119.0,449.0 L119.5,449.0 L120.0,449.0 L120.5,449.0 L121.0,449.0 L121.5,449.0 L122.0,449.0 L122.5,449.0 L123.0,449.0 L123.5,449.0 L124.0,449.0 L124.5,449.0 L125.0,449.0 L125.5,449.0 L126.0,449.0 L126.5,449.0 L127.0,449.0 L127.5,449.0 L128.0,449.0 L128.5,449.0 L129.0,449.0 L129.5,449.0 L130.0,449.0 L130.5,449.0 L131.0,449.0 L131.5,449.0 L132.0,449.0 L132.5,449.0 L133.0,449.0 L133.5,449.0 L134.0,449.0 L134.5,449.0 L135.0,449.0 L135.5,449.0 L136.0,449.0 L136.5,449.0 L137.0,449.0 L137.5,449.0 L138.0,449.0 L138.5,449.0 L139.0,449.0 L139.5,449.0 L140.0,449.0 L140.5,449.0 L141.0,449.0 L141.5,449.0 L142.0,449.0 L142.5,449.0 L143.0,449.0 L143.5,449.0 L144.0,449.0 L144.5,449.0 L145.0,449.0 L145.5,449.0 L146.0,449.0 L146.5,449.0 L147.0,449.0 L147.5,449.0 L148.0,449.0 L148.5,449.0 L149.0,449.0 L149.5,449.0 L150.0,449.0 L150.5,449.0 L151.0,449.0 L151.5,449.0 L152.0,449.0 L152.5,449.0 L153.0,449.0 L153.5,449.0 L154.0,449.0 L154.5,449.0 L155.0,449.0 L155.5,449.0 L156.0,449.0 L156.5,449.0 L157.0,449.0 L157.5,449.0 L158.0,449.0 L158.5,449.0 L159.0,449.0 L159.5,449.0 L160.0,449.0 L160.5,449.0 L161.0,449.0 L161.5,449.0 L162.0,449.0 L162.5,449.0 L163.0,449.0 L163.5,449.0 L164.0,449.0 L164.5,449.0 L165.0,449.0 L165.5,449.0 L166.0,449.0 L166.5,449.0 L167.0,449.0 L167.5,449.0 L168.0,449.0 L168.5,449.0 L169.0,449.0 L169.5,449.0 L170.0,449.0 L170.5,449.0 L171.0,449.0 L171.5,449.0 L172.0,449.0 L172.5,449.0 L173.0,449.0 L173.5,449.0 L174.0,449.0 L174.5,449.0 L175.0,449.0 L175.5,449.0 L176.0,449.0 L176.5,449.0 L177.0,449.0 L177.5,449.0 L178.0,449.0 L178.5,449.0 L179.0,449.0 L179.5,449.0 L180.0,449.0 L180.5,449.0 L181.0,449.0 L181.5,449.0 L182.0,449.0 L182.5,449.0 L183.0,449.0 L183.5,449.0 L184.0,449.0 L184.5,449.0 L185.0,449.0 L185.5,449.0 L186.0,449.0 L186.5,449.0 L187.0,449.0 L187.5,449.0 L188.0,449.0 L188.5,449.0 L189.0,449.0 L189.5,449.0 L190.0,449.0 L190.5,449.0 L191.0,449.0 L191.5,449.0 L192.0,449.0 L192.5,449.0 L193.0,449.0 L193.5,449.0 L194.0,449.0 L194.5,449.0 L195.0,449.0 L195.5,449.0 L196.0,449.0 L196.5,449.0 L197.0,449.0 L197.5,449.0 L198.0,449.0 L198.5,449.0 L199.0,449.0 L199.5,449.0 L200.0,449.0 L200.5,449.0 L201.0,449.0 L201.5,449.0 L202.0,449.0 L202.5,449.0 L203.0,449.0 L203.5,449.0 L204.0,449.0 L204.5,449.0 L205.0,449.0 L205.5,449.0 L206.0,449.0 L206.5,449.0 L207.0,449.0 L207.5,449.0 L208.0,449.0 L208.5,449.0 L209.0,449.0 L209.5,449.0 L210.0,449.0 L210.5,449.0 L211.0,449.0 L211.5,449.0 L212.0,449.0 L212.5,449.0 L213.0,449.0 L213.5,449.0 L214.0,449.0 L214.5,449.0 L215.0,449.0 L215.5,449.0 L216.0,449.0 L216.5,449.0 L217.0,449.0 L217.5,449.0 L218.0,449.0 L218.5,449.0 L219.0,449.0 L219.5,449.0 L220.0,449.0 L220.5,449.0 L221.0,449.0 L221.5,449.0 L222.0,449.0 L222.5,449.0 L223.0,448.9 L223.5,448.9 L224.0,448.9 L224.5,448.9 L225.0,448.9 L225.5,448.8 L226.0,448.8 L226.5,448.8 L227.0,448.7 L227.5,448.7 L228.0,448.7 L228.5,448.6 L229.0,448.6 L229.5,448.5 L230.0,448.5 L230.5,448.5 L231.0,448.4 L231.5,448.3 L232.0,448.2 L232.5,448.1 L233.0,448.0 L233.5,447.9 L234.0,447.8 L234.5,447.7 L235.0,447.6 L235.5,447.4 L236.0,447.3 L236.5,447.1 L237.0,447.0 L237.5,446.8 L238.0,446.7 L238.5,446.5 L239.0,446.3 L239.5,446.1 L240.0,445.9 L240.5,445.6 L241.0,445.4 L241.5,445.1 L242.0,444.8 L242.5,444.5 L243.0,444.2 L243.5,443.8 L244.0,443.4 L244.5,442.9 L245.0,442.5 L245.5,442.0 L246.0,441.5 L246.5,440.9 L247.0,440.4 L247.5,439.9 L248.0,439.3 L248.5,438.7 L249.0,438.1 L249.5,437.5 L250.0,436.8 L250.5,436.1 L251.0,435.4 L251.5,434.6 L252.0,433.8 L252.5,432.9 L253.0,432.0 L253.5,431.0 L254.0,429.9 L254.5,428.7 L255.0,427.6 L255.5,426.4 L256.0,425.2 L256.5,423.9 L257.0,422.7 L257.5,421.5 L258.0,420.2 L258.5,418.9 L259.0,417.6 L259.5,416.2 L260.0,414.8 L260.5,413.3 L261.0,411.8 L261.5,410.2 L262.0,408.5 L262.5,406.8 L263.0,405.0 L263.5,403.1 L264.0,401.2 L264.5,399.2 L265.0,397.1 L265.5,395.0 L266.0,392.7 L266.5,390.4 L267.0,388.0 L267.5,385.4 L268.0,382.6 L268.5,379.8 L269.0,376.8 L269.5,373.8 L270.0,370.8 L270.5,367.8 L271.0,364.8 L271.5,361.8 L272.0,358.8 L272.5,355.7 L273.0,352.6 L273.5,349.5 L274.0,346.4 L274.5,343.3 L275.0,340.3 L275.5,337.3 L276.0,334.4 L276.5,331.6 L277.0,328.7 L277.5,325.8 L278.0,323.0 L278.5,320.3 L279.0,317.6 L279.5,315.1 L280.0,312.7 L280.5,310.5 L281.0,308.3 L281.5,306.3 L282.0,304.3 L282.5,302.4 L283.0,300.6 L283.5,298.8 L284.0,297.1 L284.5,295.4 L285.0,293.8 L285.5,292.3 L286.0,290.7 L286.5,289.2 L287.0,287.7 L287.5,286.3 L288.0,284.9 L288.5,283.6 L289.0,282.4 L289.5,281.2 L290.0,280.2 L290.5,279.3 L291.0,278.4 L291.5,277.6 L292.0,276.8 L292.5,276.0 L293.0,275.3 L293.5,274.7 L294.0,274.1 L294.5,273.5 L295.0,272.9 L295.5,272.4 L296.0,271.8 L296.5,271.3 L297.0,270.9 L297.5,270.4 L298.0,270.0 L298.5,269.6 L299.0,269.2 L299.5,268.8 L300.0,268.5 L300.5,268.3 L301.0,268.0 L301.5,267.7 L302.0,267.5 L302.5,267.3 L303.0,267.1 L303.5,266.9 L304.0,266.7 L304.5,266.5 L305.0,266.3 L305.5,266.1 L306.0,265.9 L306.5,265.8 L307.0,265.6 L307.5,265.5 L308.0,265.3 L308.5,265.2 L309.0,265.0 L309.5,264.9 L310.0,264.8 L310.5,264.7 L311.0,264.5 L311.5,264.4 L312.0,264.3 L312.5,264.2 L313.0,264.1 L313.5,264.0 L314.0,264.0 L314.5,263.9 L315.0,263.8 L315.5,263.7 L316.0,263.6 L316.5,263.5 L317.0,263.4 L317.5,263.4 L318.0,263.3 L318.5,263.2 L319.0,263.1 L319.5,263.0 L320.0,262.9 L320.5,262.8 L321.0,262.8 L321.5,262.7 L322.0,262.6 L322.5,262.5 L323.0,262.4 L323.5,262.3 L324.0,262.2 L324.5,262.1 L325.0,262.1 L325.5,262.0 L326.0,261.9 L326.5,261.8 L327.0,261.7 L327.5,261.7 L328.0,261.6 L328.5,261.5 L329.0,261.4 L329.5,261.4 L330.0,261.3 L330.5,261.2 L331.0,261.2 L331.5,261.1 L332.0,261.0 L332.5,261.0 L333.0,260.9 L333.5,260.8 L334.0,260.8 L334.5,260.7 L335.0,260.7 L335.5,260.6 L336.0,260.5 L336.5,260.5 L337.0,260.4 L337.5,260.4 L338.0,260.3 L338.5,260.3 L339.0,260.2 L339.5,260.1 L340.0,260.1 L340.5,260.0 L341.0,260.0" fill="none" stroke="#00ffff" stroke-width="1.25" stroke-linejoin="round"/>
<path d="M52.0,447.1h3.8v3.8h-3.8zM56.8,447.1h3.8v3.8h-3.8zM61.7,447.1h3.8v3.8h-3.8zM66.5,447.1h3.8v3.8h-3.8zM71.3,447.1h3.8v3.8h-3.8zM76.2,447.1h3.8v3.8h-3.8zM81.0,447.1h3.8v3.8h-3.8zM85.8,447.1h3.8v3.8h-3.8zM90.7,447.1h3.8v3.8h-3.8zM95.5,447.1h3.8v3.8h-3.8zM100.3,447.1h3.8v3.8h-3.8zM105.2,447.1h3.8v3.8h-3.8zM110.0,447.1h3.8v3.8h-3.8zM114.8,447.1h3.8v3.8h-3.8zM119.7,447.1h3.8v3.8h-3.8zM124.5,447.1h3.8v3.8h-3.8zM129.3,447.1h3.8v3.8h-3.8zM134.2,447.1h3.8v3.8h-3.8zM139.0,447.1h3.8v3.8h-3.8zM143.8,447.1h3.8v3.8h-3.8zM148.7,447.1h3.8v3.8h-3.8zM153.5,447.1h3.8v3.8h-3.8zM158.3,447.1h3.8v3.8h-3.8zM163.2,447.1h3.8v3.8h-3.8zM168.0,447.1h3.8v3.8h-3.8zM172.8,447.1h3.8v3.8h-3.8zM177.7,447.1h3.8v3.8h-3.8zM182.5,447.1h3.8v3.8h-3.8zM187.3,447.1h3.8v3.8h-3.8zM192.2,447.1h3.8v3.8h-3.8zM197.0,447.1h3.8v3.8h-3.8zM201.8,447.1h3.8v3.8h-3.8zM206.7,447.1h3.8v3.8h-3.8zM211.5,447.1h3.8v3.8h-3.8zM216.3,447.1h3.8v3.8h-3.8zM221.2,447.0h3.8v3.8h-3.8zM226.0,446.8h3.8v3.8h-3.8zM230.8,446.2h3.8v3.8h-3.8zM235.7,444.9h3.8v3.8h-3.8zM240.5,442.7h3.8v3.8h-3.8zM245.3,438.3h3.8v3.8h-3.8zM250.2,431.8h3.8v3.8h-3.8zM255.0,421.1h3.8v3.8h-3.8zM259.8,407.6h3.8v3.8h-3.8zM264.7,388.3h3.8v3.8h-3.8zM269.5,360.6h3.8v3.8h-3.8zM274.3,331.3h3.8v3.8h-3.8zM279.2,306.2h3.8v3.8h-3.8zM284.0,289.2h3.8v3.8h-3.8zM288.8,277.0h3.8v3.8h-3.8zM293.6,270.4h3.8v3.8h-3.8zM298.5,266.4h3.8v3.8h-3.8zM303.3,264.3h3.8v3.8h-3.8zM308.1,262.9h3.8v3.8h-3.8zM313.0,261.9h3.8v3.8h-3.8zM317.8,261.1h3.8v3.8h-3.8zM322.6,260.2h3.8v3.8h-3.8zM327.5,259.5h3.8v3.8h-3.8zM332.3,258.8h3.8v3.8h-3.8zM337.1,258.3h3.8v3.8h-3.8z" fill="#00ffff"/>
</g>
<g clip-path="url(#cb)">
<path d="M60.0,449.0 L60.5,449.0 L61.0,449.0 L61.5,449.0 L62.0,449.0 L62.5,449.0 L63.0,449.0 L63.5,449.0 L64.0,449.0 L64.5,449.0 L65.0,449.0 L65.5,449.0 L66.0,449.0 L66.5,449.0 L67.0,449.0 L67.5,449.0 L68.0,449.0 L68.5,449.0 L69.0,449.0 L69.5,449.0 L70.0,449.0 L70.5,449.0 L71.0,449.0 L71.5,449.0 L72.0,449.0 L72.5,449.0 L73.0,449.0 L73.5,449.0 L74.0,449.0 L74.5,449.0 L75.0,449.0 L75.5,449.0 L76.0,449.0 L76.5,449.0 L77.0,449.0 L77.5,449.0 L78.0,449.0 L78.5,449.0 L79.0,449.0 L79.5,449.0 L80.0,449.0 L80.5,449.0 L81.0,449.0 L81.5,449.0 L82.0,449.0 L82.5,449.0 L83.0,449.0 L83.5,449.0 L84.0,449.0 L84.5,449.0 L85.0,449.0 L85.5,449.0 L86.0,449.0 L86.5,449.0 L87.0,449.0 L87.5,449.0 L88.0,449.0 L88.5,449.0 L89.0,449.0 L89.5,449.0 L90.0,449.0 L90.5,449.0 L91.0,449.0 L91.5,449.0 L92.0,449.0 L92.5,449.0 L93.0,449.0 L93.5,449.0 L94.0,449.0 L94.5,449.0 L95.0,449.0 L95.5,449.0 L96.0,449.0 L96.5,449.0 L97.0,449.0 L97.5,449.0 L98.0,449.0 L98.5,449.0 L99.0,449.0 L99.5,449.0 L100.0,449.0 L100.5,449.0 L101.0,449.0 L101.5,449.0 L102.0,449.0 L102.5,449.0 L103.0,449.0 L103.5,449.0 L104.0,449.0 L104.5,449.0 L105.0,449.0 L105.5,449.0 L106.0,449.0 L106.5,449.0 L107.0,449.0 L107.5,449.0 L108.0,449.0 L108.5,449.0 L109.0,449.0 L109.5,449.0 L110.0,449.0 L110.5,449.0 L111.0,449.0 L111.5,449.0 L112.0,449.0 L112.5,449.0 L113.0,449.0 L113.5,449.0 L114.0,449.0 L114.5,449.0 L115.0,449.0 L115.5,449.0 L116.0,449.0 L116.5,449.0 L117.0,449.0 L117.5,449.0 L118.0,449.0 L118.5,449.0 L119.0,449.0 L119.5,449.0 L120.0,449.0 L120.5,449.0 L121.0,449.0 L121.5,449.0 L122.0,449.0 L122.5,449.0 L123.0,449.0 L123.5,449.0 L124.0,449.0 L124.5,449.0 L125.0,449.0 L125.5,449.0 L126.0,449.0 L126.5,449.0 L127.0,449.0 L127.5,449.0 L128.0,449.0 L128.5,449.0 L129.0,449.0 L129.5,449.0 L130.0,449.0 L130.5,449.0 L131.0,449.0 L131.5,449.0 L132.0,449.0 L132.5,449.0 L133.0,449.0 L133.5,449.0 L134.0,449.0 L134.5,449.0 L135.0,449.0 L135.5,449.0 L136.0,449.0 L136.5,449.0 L137.0,449.0 L137.5,449.0 L138.0,449.0 L138.5,449.0 L139.0,449.0 L139.5,449.0 L140.0,449.0 L140.5,449.0 L141.0,449.0 L141.5,449.0 L142.0,449.0 L142.5,449.0 L143.0,449.0 L143.5,449.0 L144.0,449.0 L144.5,449.0 L145.0,449.0 L145.5,449.0 L146.0,449.0 L146.5,449.0 L147.0,449.0 L147.5,449.0 L148.0,449.0 L148.5,449.0 L149.0,449.0 L149.5,449.0 L150.0,449.0 L150.5,449.0 L151.0,449.0 L151.5,449.0 L152.0,449.0 L152.5,449.0 L153.0,449.0 L153.5,449.0 L154.0,449.0 L154.5,449.0 L155.0,449.0 L155.5,449.0 L156.0,449.0 L156.5,449.0 L157.0,449.0 L157.5,449.0 L158.0,449.0 L158.5,449.0 L159.0,449.0 L159.5,449.0 L160.0,449.0 L160.5,449.0 L161.0,449.0 L161.5,449.0 L162.0,449.0 L162.5,449.0 L163.0,449.0 L163.5,449.0 L164.0,449.0 L164.5,449.0 L165.0,449.0 L165.5,449.0 L166.0,449.0 L166.5,449.0 L167.0,449.0 L167.5,449.0 L168.0,449.0 L168.5,449.0 L169.0,449.0 L169.5,449.0 L170.0,449.0 L170.5,449.0 L171.0,449.0 L171.5,449.0 L172.0,449.0 L172.5,449.0 L173.0,449.0 L173.5,449.0 L174.0,449.0 L174.5,449.0 L175.0,449.0 L175.5,449.0 L176.0,449.0 L176.5,449.0 L177.0,449.0 L177.5,449.0 L178.0,449.0 L178.5,449.0 L179.0,449.0 L179.5,449.0 L180.0,449.0 L180.5,449.0 L181.0,449.0 L181.5,449.0 L182.0,449.0 L182.5,449.0 L183.0,449.0 L183.5,449.0 L184.0,449.0 L184.5,449.0 L185.0,449.0 L185.5,449.0 L186.0,449.0 L186.5,449.0 L187.0,449.0 L187.5,449.0 L188.0,449.0 L188.5,449.0 L189.0,449.0 L189.5,449.0 L190.0,449.0 L190.5,449.0 L191.0,449.0 L191.5,449.0 L192.0,449.0 L192.5,449.0 L193.0,449.0 L193.5,449.0 L194.0,449.0 L194.5,449.0 L195.0,449.0 L195.5,449.0 L196.0,449.0 L196.5,449.0 L197.0,449.0 L197.5,449.0 L198.0,449.0 L198.5,449.0 L199.0,449.0 L199.5,449.0 L200.0,449.0 L200.5,449.0 L201.0,449.0 L201.5,449.0 L202.0,449.0 L202.5,449.0 L203.0,449.0 L203.5,449.0 L204.0,449.0 L204.5,449.0 L205.0,449.0 L205.5,449.0 L206.0,449.0 L206.5,449.0 L207.0,449.0 L207.5,449.0 L208.0,449.0 L208.5,449.0 L209.0,449.0 L209.5,449.0 L210.0,449.0 L210.5,449.0 L211.0,449.0 L211.5,449.0 L212.0,449.0 L212.5,449.0 L213.0,449.0 L213.5,448.9 L214.0,448.9 L214.5,448.9 L215.0,448.9 L215.5,448.9 L216.0,448.8 L216.5,448.8 L217.0,448.8 L217.5,448.8 L218.0,448.7 L218.5,448.7 L219.0,448.7 L219.5,448.6 L220.0,448.6 L220.5,448.6 L221.0,448.5 L221.5,448.5 L222.0,448.4 L222.5,448.3 L223.0,448.2 L223.5,448.2 L224.0,448.1 L224.5,448.0 L225.0,447.9 L225.5,447.8 L226.0,447.7 L226.5,447.5 L227.0,447.4 L227.5,447.3 L228.0,447.2 L228.5,447.0 L229.0,446.9 L229.5,446.7 L230.0,446.5 L230.5,446.3 L231.0,446.1 L231.5,445.8 L232.0,445.6 L232.5,445.4 L233.0,445.2 L233.5,444.9 L234.0,444.7 L234.5,444.4 L235.0,444.1 L235.5,443.9 L236.0,443.6 L236.5,443.2 L237.0,442.9 L237.5,442.6 L238.0,442.2 L238.5,441.8 L239.0,441.4 L239.5,440.9 L240.0,440.4 L240.5,439.9 L241.0,439.4 L241.5,438.9 L242.0,438.3 L242.5,437.7 L243.0,437.1 L243.5,436.4 L244.0,435.7 L244.5,434.9 L245.0,434.2 L245.5,433.4 L246.0,432.5 L246.5,431.7 L247.0,430.8 L247.5,429.9 L248.0,429.0 L248.5,428.0 L249.0,427.0 L249.5,426.0 L250.0,425.0 L250.5,423.9 L251.0,422.7 L251.5,421.6 L252.0,420.3 L252.5,419.0 L253.0,417.5 L253.5,416.0 L254.0,414.4 L254.5,412.8 L255.0,411.0 L255.5,409.3 L256.0,407.5 L256.5,405.6 L257.0,403.7 L257.5,401.8 L258.0,399.8 L258.5,397.7 L259.0,395.5 L259.5,393.3 L260.0,391.1 L260.5,388.8 L261.0,386.5 L261.5,384.2 L262.0,381.8 L262.5,379.4 L263.0,376.9 L263.5,374.4 L264.0,371.9 L264.5,369.3 L265.0,366.7 L265.5,364.0 L266.0,361.3 L266.5,358.5 L267.0,355.7 L267.5,352.8 L268.0,349.7 L268.5,346.7 L269.0,343.6 L269.5,340.5 L270.0,337.5 L270.5,334.5 L271.0,331.6 L271.5,328.9 L272.0,326.2 L272.5,323.6 L273.0,321.0 L273.5,318.4 L274.0,315.9 L274.5,313.5 L275.0,311.1 L275.5,308.9 L276.0,306.7 L276.5,304.5 L277.0,302.4 L277.5,300.4 L278.0,298.3 L278.5,296.4 L279.0,294.6 L279.5,292.8 L280.0,291.2 L280.5,289.7 L281.0,288.3 L281.5,286.9 L282.0,285.6 L282.5,284.4 L283.0,283.2 L283.5,282.1 L284.0,281.0 L284.5,280.0 L285.0,279.1 L285.5,278.3 L286.0,277.5 L286.5,276.7 L287.0,276.0 L287.5,275.3 L288.0,274.6 L288.5,274.0 L289.0,273.4 L289.5,272.9 L290.0,272.4 L290.5,271.9 L291.0,271.5 L291.5,271.1 L292.0,270.7 L292.5,270.3 L293.0,269.9 L293.5,269.6 L294.0,269.3 L294.5,268.9 L295.0,268.6 L295.5,268.3 L296.0,267.9 L296.5,267.6 L297.0,267.3 L297.5,266.9 L298.0,266.6 L298.5,266.4 L299.0,266.1 L299.5,265.9 L300.0,265.7 L300.5,265.5 L301.0,265.3 L301.5,265.1 L302.0,264.9 L302.5,264.8 L303.0,264.6 L303.5,264.5 L304.0,264.3 L304.5,264.2 L305.0,264.1 L305.5,263.9 L306.0,263.8 L306.5,263.7 L307.0,263.6 L307.5,263.5 L308.0,263.4 L308.5,263.3 L309.0,263.2 L309.5,263.1 L310.0,263.0 L310.5,262.9 L311.0,262.8 L311.5,262.8 L312.0,262.7 L312.5,262.6 L313.0,262.6 L313.5,262.5 L314.0,262.4 L314.5,262.4 L315.0,262.3 L315.5,262.3 L316.0,262.2 L316.5,262.2 L317.0,262.1 L317.5,262.1 L318.0,262.0 L318.5,261.9 L319.0,261.9 L319.5,261.8 L320.0,261.7 L320.5,261.7 L321.0,261.6 L321.5,261.5 L322.0,261.5 L322.5,261.4 L323.0,261.3 L323.5,261.2 L324.0,261.2 L324.5,261.1 L325.0,261.0 L325.5,260.9 L326.0,260.9 L326.5,260.8 L327.0,260.7 L327.5,260.6 L328.0,260.6 L328.5,260.5 L329.0,260.4 L329.5,260.4 L330.0,260.3 L330.5,260.2 L331.0,260.2 L331.5,260.1 L332.0,260.1 L332.5,260.0 L333.0,259.9 L333.5,259.9 L334.0,259.8 L334.5,259.7 L335.0,259.7 L335.5,259.6 L336.0,259.6 L336.5,259.5 L337.0,259.4 L337.5,259.4 L338.0,259.3 L338.5,259.3 L339.0,259.2 L339.5,259.2 L340.0,259.1 L340.5,259.1 L341.0,259.0" fill="none" stroke="#0000ff" stroke-width="1.25" stroke-linejoin="round"/>
<path d="M52.0,447.1h3.8v3.8h-3.8zM56.8,447.1h3.8v3.8h-3.8zM61.7,447.1h3.8v3.8h-3.8zM66.5,447.1h3.8v3.8h-3.8zM71.3,447.1h3.8v3.8h-3.8zM76.2,447.1h3.8v3.8h-3.8zM81.0,447.1h3.8v3.8h-3.8zM85.8,447.1h3.8v3.8h-3.8zM90.7,447.1h3.8v3.8h-3.8zM95.5,447.1h3.8v3.8h-3.8zM100.3,447.1h3.8v3.8h-3.8zM105.2,447.1h3.8v3.8h-3.8zM110.0,447.1h3.8v3.8h-3.8zM114.8,447.1h3.8v3.8h-3.8zM119.7,447.1h3.8v3.8h-3.8zM124.5,447.1h3.8v3.8h-3.8zM129.3,447.1h3.8v3.8h-3.8zM134.2,447.1h3.8v3.8h-3.8zM139.0,447.1h3.8v3.8h-3.8zM143.8,447.1h3.8v3.8h-3.8zM148.7,447.1h3.8v3.8h-3.8zM153.5,447.1h3.8v3.8h-3.8zM158.3,447.1h3.8v3.8h-3.8zM163.2,447.1h3.8v3.8h-3.8zM168.0,447.1h3.8v3.8h-3.8zM172.8,447.1h3.8v3.8h-3.8zM177.7,447.1h3.8v3.8h-3.8zM182.5,447.1h3.8v3.8h-3.8zM187.3,447.1h3.8v3.8h-3.8zM192.2,447.1h3.8v3.8h-3.8zM197.0,447.1h3.8v3.8h-3.8zM201.8,447.1h3.8v3.8h-3.8zM206.7,447.1h3.8v3.8h-3.8zM211.5,447.0h3.8v3.8h-3.8zM216.3,446.8h3.8v3.8h-3.8zM221.2,446.3h3.8v3.8h-3.8zM226.0,445.3h3.8v3.8h-3.8zM230.8,443.4h3.8v3.8h-3.8zM235.7,440.6h3.8v3.8h-3.8zM240.5,435.9h3.8v3.8h-3.8zM245.3,428.5h3.8v3.8h-3.8zM250.2,418.3h3.8v3.8h-3.8zM255.0,402.3h3.8v3.8h-3.8zM259.8,381.2h3.8v3.8h-3.8zM264.7,356.4h3.8v3.8h-3.8zM269.5,327.6h3.8v3.8h-3.8zM274.3,303.8h3.8v3.8h-3.8zM279.2,286.3h3.8v3.8h-3.8zM284.0,275.7h3.8v3.8h-3.8zM288.8,269.8h3.8v3.8h-3.8zM293.6,266.3h3.8v3.8h-3.8zM298.5,263.6h3.8v3.8h-3.8zM303.3,262.1h3.8v3.8h-3.8zM308.1,261.1h3.8v3.8h-3.8zM313.0,260.4h3.8v3.8h-3.8zM317.8,259.9h3.8v3.8h-3.8zM322.6,259.2h3.8v3.8h-3.8zM327.5,258.5h3.8v3.8h-3.8zM332.3,257.9h3.8v3.8h-3.8zM337.1,257.3h3.8v3.8h-3.8z" fill="#0000ff"/>
</g>
<g clip-path="url(#cb)">
<path d="M60.0,449.0 L60.5,449.0 L61.0,449.0 L61.5,449.0 L62.0,449.0 L62.5,449.0 L63.0,449.0 L63.5,449.0 L64.0,449.0 L64.5,449.0 L65.0,449.0 L65.5,449.0 L66.0,449.0 L66.5,449.0 L67.0,449.0 L67.5,449.0 L68.0,449.0 L68.5,449.0 L69.0,449.0 L69.5,449.0 L70.0,449.0 L70.5,449.0 L71.0,449.0 L71.5,449.0 L72.0,449.0 L72.5,449.0 L73.0,449.0 L73.5,449.0 L74.0,449.0 L74.5,449.0 L75.0,449.0 L75.5,449.0 L76.0,449.0 L76.5,449.0 L77.0,449.0 L77.5,449.0 L78.0,449.0 L78.5,449.0 L79.0,449.0 L79.5,449.0 L80.0,449.0 L80.5,449.0 L81.0,449.0 L81.5,449.0 L82.0,449.0 L82.5,449.0 L83.0,449.0 L83.5,449.0 L84.0,449.0 L84.5,449.0 L85.0,449.0 L85.5,449.0 L86.0,449.0 L86.5,449.0 L87.0,449.0 L87.5,449.0 L88.0,449.0 L88.5,449.0 L89.0,449.0 L89.5,449.0 L90.0,449.0 L90.5,449.0 L91.0,449.0 L91.5,449.0 L92.0,449.0 L92.5,449.0 L93.0,449.0 L93.5,449.0 L94.0,449.0 L94.5,449.0 L95.0,449.0 L95.5,449.0 L96.0,449.0 L96.5,449.0 L97.0,449.0 L97.5,449.0 L98.0,449.0 L98.5,449.0 L99.0,449.0 L99.5,449.0 L100.0,449.0 L100.5,449.0 L101.0,449.0 L101.5,449.0 L102.0,449.0 L102.5,449.0 L103.0,449.0 L103.5,449.0 L104.0,449.0 L104.5,449.0 L105.0,449.0 L105.5,449.0 L106.0,449.0 L106.5,449.0 L107.0,449.0 L107.5,449.0 L108.0,449.0 L108.5,449.0 L109.0,449.0 L109.5,449.0 L110.0,449.0 L110.5,449.0 L111.0,449.0 L111.5,449.0 L112.0,449.0 L112.5,449.0 L113.0,449.0 L113.5,449.0 L114.0,449.0 L114.5,449.0 L115.0,449.0 L115.5,449.0 L116.0,449.0 L116.5,449.0 L117.0,449.0 L117.5,449.0 L118.0,449.0 L118.5,449.0 L119.0,449.0 L119.5,449.0 L120.0,449.0 L120.5,449.0 L121.0,449.0 L121.5,449.0 L122.0,449.0 L122.5,449.0 L123.0,449.0 L123.5,449.0 L124.0,449.0 L124.5,449.0 L125.0,449.0 L125.5,449.0 L126.0,449.0 L126.5,449.0 L127.0,449.0 L127.5,449.0 L128.0,449.0 L128.5,449.0 L129.0,449.0 L129.5,449.0 L130.0,449.0 L130.5,449.0 L131.0,449.0 L131.5,449.0 L132.0,449.0 L132.5,449.0 L133.0,449.0 L133.5,449.0 L134.0,449.0 L134.5,449.0 L135.0,449.0 L135.5,449.0 L136.0,449.0 L136.5,449.0 L137.0,449.0 L137.5,449.0 L138.0,449.0 L138.5,449.0 L139.0,449.0 L139.5,449.0 L140.0,449.0 L140.5,449.0 L141.0,449.0 L141.5,449.0 L142.0,449.0 L142.5,449.0 L143.0,449.0 L143.5,449.0 L144.0,449.0 L144.5,449.0 L145.0,449.0 L145.5,449.0 L146.0,449.0 L146.5,449.0 L147.0,449.0 L147.5,449.0 L148.0,449.0 L148.5,449.0 L149.0,449.0 L149.5,449.0 L150.0,449.0 L150.5,449.0 L151.0,449.0 L151.5,449.0 L152.0,449.0 L152.5,449.0 L153.0,449.0 L153.5,449.0 L154.0,449.0 L154.5,449.0 L155.0,449.0 L155.5,449.0 L156.0,449.0 L156.5,449.0 L157.0,449.0 L157.5,449.0 L158.0,449.0 L158.5,449.0 L159.0,449.0 L159.5,449.0 L160.0,449.0 L160.5,449.0 L161.0,449.0 L161.5,449.0 L162.0,449.0 L162.5,449.0 L163.0,449.0 L163.5,449.0 L164.0,449.0 L164.5,449.0 L165.0,449.0 L165.5,449.0 L166.0,449.0 L166.5,449.0 L167.0,449.0 L167.5,449.0 L168.0,449.0 L168.5,449.0 L169.0,449.0 L169.5,449.0 L170.0,449.0 L170.5,449.0 L171.0,449.0 L171.5,449.0 L172.0,449.0 L172.5,449.0 L173.0,449.0 L173.5,449.0 L174.0,449.0 L174.5,449.0 L175.0,449.0 L175.5,449.0 L176.0,449.0 L176.5,449.0 L177.0,449.0 L177.5,449.0 L178.0,449.0 L178.5,449.0 L179.0,449.0 L179.5,449.0 L180.0,449.0 L180.5,449.0 L181.0,449.0 L181.5,449.0 L182.0,449.0 L182.5,449.0 L183.0,449.0 L183.5,449.0 L184.0,449.0 L184.5,449.0 L185.0,449.0 L185.5,449.0 L186.0,449.0 L186.5,449.0 L187.0,449.0 L187.5,449.0 L188.0,449.0 L188.5,449.0 L189.0,449.0 L189.5,449.0 L190.0,449.0 L190.5,449.0 L191.0,449.0 L191.5,449.0 L192.0,449.0 L192.5,449.0 L193.0,449.0 L193.5,449.0 L194.0,449.0 L194.5,449.0 L195.0,449.0 L195.5,449.0 L196.0,449.0 L196.5,449.0 L197.0,449.0 L197.5,449.0 L198.0,449.0 L198.5,449.0 L199.0,449.0 L199.5,449.0 L200.0,449.0 L200.5,449.0 L201.0,449.0 L201.5,449.0 L202.0,449.0 L202.5,449.0 L203.0,449.0 L203.5,448.9 L204.0,448.9 L204.5,448.9 L205.0,448.9 L205.5,448.9 L206.0,448.8 L206.5,448.8 L207.0,448.8 L207.5,448.7 L208.0,448.7 L208.5,448.7 L209.0,448.7 L209.5,448.6 L210.0,448.6 L210.5,448.6 L211.0,448.5 L211.5,448.5 L212.0,448.5 L212.5,448.4 L213.0,448.4 L213.5,448.3 L214.0,448.3 L214.5,448.2 L215.0,448.2 L215.5,448.1 L216.0,448.0 L216.5,448.0 L217.0,447.9 L217.5,447.8 L218.0,447.7 L218.5,447.6 L219.0,447.5 L219.5,447.4 L220.0,447.2 L220.5,447.1 L221.0,446.9 L221.5,446.7 L222.0,446.6 L222.5,446.4 L223.0,446.3 L223.5,446.1 L224.0,445.9 L224.5,445.8 L225.0,445.6 L225.5,445.4 L226.0,445.2 L226.5,445.0 L227.0,444.8 L227.5,444.6 L228.0,444.3 L228.5,444.1 L229.0,443.8 L229.5,443.4 L230.0,443.1 L230.5,442.7 L231.0,442.3 L231.5,441.9 L232.0,441.4 L232.5,441.0 L233.0,440.5 L233.5,440.0 L234.0,439.4 L234.5,438.8 L235.0,438.2 L235.5,437.6 L236.0,436.9 L236.5,436.2 L237.0,435.5 L237.5,434.7 L238.0,434.0 L238.5,433.2 L239.0,432.4 L239.5,431.6 L240.0,430.8 L240.5,429.9 L241.0,428.9 L241.5,427.9 L242.0,426.9 L242.5,425.8 L243.0,424.6 L243.5,423.3 L244.0,421.9 L244.5,420.4 L245.0,418.8 L245.5,417.2 L246.0,415.5 L246.5,413.8 L247.0,412.1 L247.5,410.4 L248.0,408.7 L248.5,406.8 L249.0,404.9 L249.5,403.0 L250.0,401.1 L250.5,399.1 L251.0,397.1 L251.5,395.0 L252.0,393.0 L252.5,390.9 L253.0,388.8 L253.5,386.6 L254.0,384.4 L254.5,382.2 L255.0,380.0 L255.5,377.7 L256.0,375.4 L256.5,373.2 L257.0,370.9 L257.5,368.6 L258.0,366.4 L258.5,364.2 L259.0,361.9 L259.5,359.6 L260.0,357.3 L260.5,354.9 L261.0,352.5 L261.5,350.0 L262.0,347.4 L262.5,344.6 L263.0,341.8 L263.5,338.9 L264.0,336.0 L264.5,333.1 L265.0,330.2 L265.5,327.5 L266.0,324.8 L266.5,322.3 L267.0,319.7 L267.5,317.3 L268.0,314.8 L268.5,312.4 L269.0,310.1 L269.5,307.8 L270.0,305.7 L270.5,303.7 L271.0,301.8 L271.5,299.9 L272.0,298.1 L272.5,296.4 L273.0,294.7 L273.5,293.1 L274.0,291.5 L274.5,290.1 L275.0,288.7 L275.5,287.4 L276.0,286.1 L276.5,284.9 L277.0,283.7 L277.5,282.6 L278.0,281.5 L278.5,280.4 L279.0,279.5 L279.5,278.6 L280.0,277.7 L280.5,277.0 L281.0,276.2 L281.5,275.6 L282.0,274.9 L282.5,274.3 L283.0,273.7 L283.5,273.2 L284.0,272.7 L284.5,272.2 L285.0,271.7 L285.5,271.2 L286.0,270.8 L286.5,270.3 L287.0,269.9 L287.5,269.5 L288.0,269.1 L288.5,268.8 L289.0,268.4 L289.5,268.1 L290.0,267.8 L290.5,267.5 L291.0,267.1 L291.5,266.9 L292.0,266.6 L292.5,266.3 L293.0,266.0 L293.5,265.8 L294.0,265.5 L294.5,265.3 L295.0,265.1 L295.5,264.9 L296.0,264.7 L296.5,264.5 L297.0,264.3 L297.5,264.1 L298.0,264.0 L298.5,263.8 L299.0,263.6 L299.5,263.5 L300.0,263.4 L300.5,263.3 L301.0,263.1 L301.5,263.0 L302.0,262.9 L302.5,262.8 L303.0,262.7 L303.5,262.6 L304.0,262.5 L304.5,262.4 L305.0,262.3 L305.5,262.3 L306.0,262.2 L306.5,262.1 L307.0,262.0 L307.5,261.9 L308.0,261.9 L308.5,261.8 L309.0,261.7 L309.5,261.7 L310.0,261.6 L310.5,261.5 L311.0,261.5 L311.5,261.4 L312.0,261.4 L312.5,261.3 L313.0,261.2 L313.5,261.2 L314.0,261.2 L314.5,261.1 L315.0,261.1 L315.5,261.0 L316.0,261.0 L316.5,260.9 L317.0,260.9 L317.5,260.8 L318.0,260.8 L318.5,260.7 L319.0,260.7 L319.5,260.6 L320.0,260.6 L320.5,260.5 L321.0,260.4 L321.5,260.4 L322.0,260.3 L322.5,260.2 L323.0,260.2 L323.5,260.1 L324.0,260.0 L324.5,259.9 L325.0,259.9 L325.5,259.8 L326.0,259.7 L326.5,259.7 L327.0,259.6 L327.5,259.5 L328.0,259.5 L328.5,259.4 L329.0,259.3 L329.5,259.3 L330.0,259.2 L330.5,259.2 L331.0,259.1 L331.5,259.0 L332.0,259.0 L332.5,258.9 L333.0,258.9 L333.5,258.8 L334.0,258.7 L334.5,258.7 L335.0,258.6 L335.5,258.6 L336.0,258.5 L336.5,258.5 L337.0,258.4 L337.5,258.4 L338.0,258.3 L338.5,258.3 L339.0,258.2 L339.5,258.2 L340.0,258.1 L340.5,258.0 L341.0,258.0" fill="none" stroke="#00ff00" stroke-width="1.25" stroke-linejoin="round"/>
<path d="M52.0,447.1h3.8v3.8h-3.8zM56.8,447.1h3.8v3.8h-3.8zM61.7,447.1h3.8v3.8h-3.8zM66.5,447.1h3.8v3.8h-3.8zM71.3,447.1h3.8v3.8h-3.8zM76.2,447.1h3.8v3.8h-3.8zM81.0,447.1h3.8v3.8h-3.8zM85.8,447.1h3.8v3.8h-3.8zM90.7,447.1h3.8v3.8h-3.8zM95.5,447.1h3.8v3.8h-3.8zM100.3,447.1h3.8v3.8h-3.8zM105.2,447.1h3.8v3.8h-3.8zM110.0,447.1h3.8v3.8h-3.8zM114.8,447.1h3.8v3.8h-3.8zM119.7,447.1h3.8v3.8h-3.8zM124.5,447.1h3.8v3.8h-3.8zM129.3,447.1h3.8v3.8h-3.8zM134.2,447.1h3.8v3.8h-3.8zM139.0,447.1h3.8v3.8h-3.8zM143.8,447.1h3.8v3.8h-3.8zM148.7,447.1h3.8v3.8h-3.8zM153.5,447.1h3.8v3.8h-3.8zM158.3,447.1h3.8v3.8h-3.8zM163.2,447.1h3.8v3.8h-3.8zM168.0,447.1h3.8v3.8h-3.8zM172.8,447.1h3.8v3.8h-3.8zM177.7,447.1h3.8v3.8h-3.8zM182.5,447.1h3.8v3.8h-3.8zM187.3,447.1h3.8v3.8h-3.8zM192.2,447.1h3.8v3.8h-3.8zM197.0,447.1h3.8v3.8h-3.8zM201.8,447.0h3.8v3.8h-3.8zM206.7,446.8h3.8v3.8h-3.8zM211.5,446.4h3.8v3.8h-3.8zM216.3,445.8h3.8v3.8h-3.8zM221.2,444.3h3.8v3.8h-3.8zM226.0,442.5h3.8v3.8h-3.8zM230.8,438.9h3.8v3.8h-3.8zM235.7,432.8h3.8v3.8h-3.8zM240.5,424.2h3.8v3.8h-3.8zM245.3,409.5h3.8v3.8h-3.8zM250.2,390.9h3.8v3.8h-3.8zM255.0,369.5h3.8v3.8h-3.8zM259.8,347.0h3.8v3.8h-3.8zM264.7,320.1h3.8v3.8h-3.8zM269.5,298.4h3.8v3.8h-3.8zM274.3,283.7h3.8v3.8h-3.8zM279.2,274.3h3.8v3.8h-3.8zM284.0,269.0h3.8v3.8h-3.8zM288.8,265.4h3.8v3.8h-3.8zM293.6,263.0h3.8v3.8h-3.8zM298.5,261.4h3.8v3.8h-3.8zM303.3,260.4h3.8v3.8h-3.8zM308.1,259.7h3.8v3.8h-3.8zM313.0,259.2h3.8v3.8h-3.8zM317.8,258.7h3.8v3.8h-3.8zM322.6,258.0h3.8v3.8h-3.8zM327.5,257.4h3.8v3.8h-3.8zM332.3,256.8h3.8v3.8h-3.8zM337.1,256.3h3.8v3.8h-3.8z" fill="#00ff00"/>
</g>
<g clip-path="url(#cb)">
<path d="M60.0,449.0 L60.5,449.0 L61.0,449.0 L61.5,449.0 L62.0,449.0 L62.5,449.0 L63.0,449.0 L63.5,449.0 L64.0,449.0 L64.5,449.0 L65.0,449.0 L65.5,449.0 L66.0,449.0 L66.5,449.0 L67.0,449.0 L67.5,449.0 L68.0,449.0 L68.5,449.0 L69.0,449.0 L69.5,449.0 L70.0,449.0 L70.5,449.0 L71.0,449.0 L71.5,449.0 L72.0,449.0 L72.5,449.0 L73.0,449.0 L73.5,449.0 L74.0,449.0 L74.5,449.0 L75.0,449.0 L75.5,449.0 L76.0,449.0 L76.5,449.0 L77.0,449.0 L77.5,449.0 L78.0,449.0 L78.5,449.0 L79.0,449.0 L79.5,449.0 L80.0,449.0 L80.5,449.0 L81.0,449.0 L81.5,449.0 L82.0,449.0 L82.5,449.0 L83.0,449.0 L83.5,449.0 L84.0,449.0 L84.5,449.0 L85.0,449.0 L85.5,449.0 L86.0,449.0 L86.5,449.0 L87.0,449.0 L87.5,449.0 L88.0,449.0 L88.5,449.0 L89.0,449.0 L89.5,449.0 L90.0,449.0 L90.5,449.0 L91.0,449.0 L91.5,449.0 L92.0,449.0 L92.5,449.0 L93.0,449.0 L93.5,449.0 L94.0,449.0 L94.5,449.0 L95.0,449.0 L95.5,449.0 L96.0,449.0 L96.5,449.0 L97.0,449.0 L97.5,449.0 L98.0,449.0 L98.5,449.0 L99.0,449.0 L99.5,449.0 L100.0,449.0 L100.5,449.0 L101.0,449.0 L101.5,449.0 L102.0,449.0 L102.5,449.0 L103.0,449.0 L103.5,449.0 L104.0,449.0 L104.5,449.0 L105.0,449.0 L105.5,449.0 L106.0,449.0 L106.5,449.0 L107.0,449.0 L107.5,449.0 L108.0,449.0 L108.5,449.0 L109.0,449.0 L109.5,449.0 L110.0,449.0 L110.5,449.0 L111.0,449.0 L111.5,449.0 L112.0,449.0 L112.5,449.0 L113.0,449.0 L113.5,449.0 L114.0,449.0 L114.5,449.0 L115.0,449.0 L115.5,449.0 L116.0,449.0 L116.5,449.0 L117.0,449.0 L117.5,449.0 L118.0,449.0 L118.5,449.0 L119.0,449.0 L119.5,449.0 L120.0,449.0 L120.5,449.0 L121.0,449.0 L121.5,449.0 L122.0,449.0 L122.5,449.0 L123.0,449.0 L123.5,449.0 L124.0,449.0 L124.5,449.0 L125.0,449.0 L125.5,449.0 L126.0,449.0 L126.5,449.0 L127.0,449.0 L127.5,449.0 L128.0,449.0 L128.5,449.0 L129.0,449.0 L129.5,449.0 L130.0,449.0 L130.5,449.0 L131.0,449.0 L131.5,449.0 L132.0,449.0 L132.5,449.0 L133.0,449.0 L133.5,449.0 L134.0,449.0 L134.5,449.0 L135.0,449.0 L135.5,449.0 L136.0,449.0 L136.5,449.0 L137.0,449.0 L137.5,449.0 L138.0,449.0 L138.5,449.0 L139.0,449.0 L139.5,449.0 L140.0,449.0 L140.5,449.0 L141.0,449.0 L141.5,449.0 L142.0,449.0 L142.5,449.0 L143.0,449.0 L143.5,449.0 L144.0,449.0 L144.5,449.0 L145.0,449.0 L145.5,449.0 L146.0,449.0 L146.5,449.0 L147.0,449.0 L147.5,449.0 L148.0,449.0 L148.5,449.0 L149.0,449.0 L149.5,449.0 L150.0,449.0 L150.5,449.0 L151.0,449.0 L151.5,449.0 L152.0,449.0 L152.5,449.0 L153.0,449.0 L153.5,449.0 L154.0,449.0 L154.5,449.0 L155.0,449.0 L155.5,449.0 L156.0,449.0 L156.5,449.0 L157.0,449.0 L157.5,449.0 L158.0,449.0 L158.5,449.0 L159.0,449.0 L159.5,449.0 L160.0,449.0 L160.5,449.0 L161.0,449.0 L161.5,449.0 L162.0,449.0 L162.5,449.0 L163.0,449.0 L163.5,449.0 L164.0,449.0 L164.5,449.0 L165.0,449.0 L165.5,449.0 L166.0,449.0 L166.5,449.0 L167.0,449.0 L167.5,449.0 L168.0,449.0 L168.5,449.0 L169.0,449.0 L169.5,449.0 L170.0,449.0 L170.5,449.0 L171.0,449.0 L171.5,449.0 L172.0,449.0 L172.5,449.0 L173.0,449.0 L173.5,449.0 L174.0,449.0 L174.5,449.0 L175.0,449.0 L175.5,449.0 L176.0,449.0 L176.5,449.0 L177.0,449.0 L177.5,449.0 L178.0,449.0 L178.5,449.0 L179.0,449.0 L179.5,449.0 L180.0,449.0 L180.5,449.0 L181.0,449.0 L181.5,449.0 L182.0,449.0 L182.5,449.0 L183.0,449.0 L183.5,449.0 L184.0,449.0 L184.5,449.0 L185.0,449.0 L185.5,449.0 L186.0,449.0 L186.5,449.0 L187.0,449.0 L187.5,449.0 L188.0,449.0 L188.5,449.0 L189.0,448.9 L189.5,448.9 L190.0,448.9 L190.5,448.9 L191.0,448.9 L191.5,448.9 L192.0,448.8 L192.5,448.8 L193.0,448.8 L193.5,448.8 L194.0,448.7 L194.5,448.7 L195.0,448.7 L195.5,448.7 L196.0,448.6 L196.5,448.6 L197.0,448.6 L197.5,448.5 L198.0,448.5 L198.5,448.5 L199.0,448.4 L199.5,448.4 L200.0,448.3 L200.5,448.3 L201.0,448.2 L201.5,448.1 L202.0,448.1 L202.5,448.0 L203.0,448.0 L203.5,447.9 L204.0,447.8 L204.5,447.7 L205.0,447.6 L205.5,447.5 L206.0,447.4 L206.5,447.3 L207.0,447.2 L207.5,447.0 L208.0,446.9 L208.5,446.8 L209.0,446.7 L209.5,446.5 L210.0,446.4 L210.5,446.3 L211.0,446.1 L211.5,445.9 L212.0,445.8 L212.5,445.6 L213.0,445.5 L213.5,445.3 L214.0,445.1 L214.5,445.0 L215.0,444.8 L215.5,444.6 L216.0,444.4 L216.5,444.2 L217.0,444.0 L217.5,443.7 L218.0,443.5 L218.5,443.3 L219.0,443.0 L219.5,442.8 L220.0,442.5 L220.5,442.2 L221.0,441.9 L221.5,441.6 L222.0,441.2 L222.5,440.9 L223.0,440.5 L223.5,440.2 L224.0,439.8 L224.5,439.4 L225.0,438.9 L225.5,438.5 L226.0,438.0 L226.5,437.5 L227.0,437.0 L227.5,436.4 L228.0,435.8 L228.5,435.2 L229.0,434.5 L229.5,433.8 L230.0,433.0 L230.5,432.2 L231.0,431.4 L231.5,430.5 L232.0,429.7 L232.5,428.8 L233.0,427.9 L233.5,427.0 L234.0,426.1 L234.5,425.1 L235.0,424.1 L235.5,423.0 L236.0,422.0 L236.5,420.9 L237.0,419.7 L237.5,418.5 L238.0,417.2 L238.5,415.9 L239.0,414.5 L239.5,413.1 L240.0,411.5 L240.5,410.0 L241.0,408.4 L241.5,406.8 L242.0,405.2 L242.5,403.5 L243.0,401.8 L243.5,400.1 L244.0,398.4 L244.5,396.6 L245.0,394.7 L245.5,392.9 L246.0,390.9 L246.5,389.0 L247.0,386.9 L247.5,384.9 L248.0,382.7 L248.5,380.5 L249.0,378.2 L249.5,375.9 L250.0,373.5 L250.5,371.0 L251.0,368.5 L251.5,366.0 L252.0,363.4 L252.5,360.8 L253.0,358.0 L253.5,355.1 L254.0,352.1 L254.5,349.1 L255.0,346.1 L255.5,343.2 L256.0,340.3 L256.5,337.6 L257.0,335.1 L257.5,332.6 L258.0,330.1 L258.5,327.7 L259.0,325.4 L259.5,323.1 L260.0,320.8 L260.5,318.6 L261.0,316.4 L261.5,314.2 L262.0,312.1 L262.5,309.9 L263.0,307.7 L263.5,305.6 L264.0,303.5 L264.5,301.5 L265.0,299.6 L265.5,297.8 L266.0,296.0 L266.5,294.4 L267.0,292.8 L267.5,291.2 L268.0,289.7 L268.5,288.3 L269.0,286.9 L269.5,285.6 L270.0,284.4 L270.5,283.3 L271.0,282.3 L271.5,281.3 L272.0,280.4 L272.5,279.6 L273.0,278.8 L273.5,278.0 L274.0,277.3 L274.5,276.6 L275.0,275.9 L275.5,275.2 L276.0,274.6 L276.5,274.0 L277.0,273.4 L277.5,272.8 L278.0,272.3 L278.5,271.8 L279.0,271.3 L279.5,270.8 L280.0,270.3 L280.5,269.9 L281.0,269.5 L281.5,269.1 L282.0,268.7 L282.5,268.4 L283.0,268.0 L283.5,267.7 L284.0,267.4 L284.5,267.1 L285.0,266.8 L285.5,266.5 L286.0,266.2 L286.5,265.9 L287.0,265.7 L287.5,265.4 L288.0,265.2 L288.5,264.9 L289.0,264.7 L289.5,264.5 L290.0,264.3 L290.5,264.2 L291.0,264.0 L291.5,263.8 L292.0,263.7 L292.5,263.6 L293.0,263.4 L293.5,263.3 L294.0,263.2 L294.5,263.0 L295.0,262.9 L295.5,262.8 L296.0,262.6 L296.5,262.5 L297.0,262.4 L297.5,262.2 L298.0,262.1 L298.5,262.0 L299.0,261.9 L299.5,261.8 L300.0,261.7 L300.5,261.6 L301.0,261.5 L301.5,261.4 L302.0,261.4 L302.5,261.3 L303.0,261.2 L303.5,261.1 L304.0,261.1 L304.5,261.0 L305.0,260.9 L305.5,260.8 L306.0,260.7 L306.5,260.6 L307.0,260.5 L307.5,260.4 L308.0,260.3 L308.5,260.2 L309.0,260.1 L309.5,260.1 L310.0,260.0 L310.5,259.9 L311.0,259.9 L311.5,259.9 L312.0,259.8 L312.5,259.8 L313.0,259.7 L313.5,259.7 L314.0,259.7 L314.5,259.6 L315.0,259.6 L315.5,259.5 L316.0,259.5 L316.5,259.4 L317.0,259.3 L317.5,259.3 L318.0,259.2 L318.5,259.1 L319.0,259.1 L319.5,259.0 L320.0,258.9 L320.5,258.9 L321.0,258.8 L321.5,258.7 L322.0,258.6 L322.5,258.6 L323.0,258.5 L323.5,258.4 L324.0,258.4 L324.5,258.3 L325.0,258.2 L325.5,258.2 L326.0,258.1 L326.5,258.0 L327.0,258.0 L327.5,257.9 L328.0,257.9 L328.5,257.8 L329.0,257.7 L329.5,257.7 L330.0,257.6 L330.5,257.5 L331.0,257.5 L331.5,257.4 L332.0,257.4 L332.5,257.3 L333.0,257.2 L333.5,257.2 L334.0,257.1 L334.5,257.1 L335.0,257.0 L335.5,256.9 L336.0,256.9 L336.5,256.8 L337.0,256.8 L337.5,256.7 L338.0,256.7 L338.5,256.6 L339.0,256.6 L339.5,256.5 L340.0,256.5 L340.5,256.4 L341.0,256.4" fill="none" stroke="#ff0000" stroke-width="1.25" stroke-linejoin="round"/>
<path d="M52.0,447.1h3.8v3.8h-3.8zM56.8,447.1h3.8v3.8h-3.8zM61.7,447.1h3.8v3.8h-3.8zM66.5,447.1h3.8v3.8h-3.8zM71.3,447.1h3.8v3.8h-3.8zM76.2,447.1h3.8v3.8h-3.8zM81.0,447.1h3.8v3.8h-3.8zM85.8,447.1h3.8v3.8h-3.8zM90.7,447.1h3.8v3.8h-3.8zM95.5,447.1h3.8v3.8h-3.8zM100.3,447.1h3.8v3.8h-3.8zM105.2,447.1h3.8v3.8h-3.8zM110.0,447.1h3.8v3.8h-3.8zM114.8,447.1h3.8v3.8h-3.8zM119.7,447.1h3.8v3.8h-3.8zM124.5,447.1h3.8v3.8h-3.8zM129.3,447.1h3.8v3.8h-3.8zM134.2,447.1h3.8v3.8h-3.8zM139.0,447.1h3.8v3.8h-3.8zM143.8,447.1h3.8v3.8h-3.8zM148.7,447.1h3.8v3.8h-3.8zM153.5,447.1h3.8v3.8h-3.8zM158.3,447.1h3.8v3.8h-3.8zM163.2,447.1h3.8v3.8h-3.8zM168.0,447.1h3.8v3.8h-3.8zM172.8,447.1h3.8v3.8h-3.8zM177.7,447.1h3.8v3.8h-3.8zM182.5,447.1h3.8v3.8h-3.8zM187.3,447.0h3.8v3.8h-3.8zM192.2,446.8h3.8v3.8h-3.8zM197.0,446.5h3.8v3.8h-3.8zM201.8,446.0h3.8v3.8h-3.8zM206.7,444.9h3.8v3.8h-3.8zM211.5,443.4h3.8v3.8h-3.8zM216.3,441.5h3.8v3.8h-3.8zM221.2,438.6h3.8v3.8h-3.8zM226.0,434.0h3.8v3.8h-3.8zM230.8,426.5h3.8v3.8h-3.8zM235.7,416.5h3.8v3.8h-3.8zM240.5,402.0h3.8v3.8h-3.8zM245.3,384.1h3.8v3.8h-3.8zM250.2,361.2h3.8v3.8h-3.8zM255.0,333.7h3.8v3.8h-3.8zM259.8,311.4h3.8v3.8h-3.8zM264.7,292.3h3.8v3.8h-3.8zM269.5,279.7h3.8v3.8h-3.8zM274.3,272.4h3.8v3.8h-3.8zM279.2,267.6h3.8v3.8h-3.8zM284.0,264.4h3.8v3.8h-3.8zM288.8,262.2h3.8v3.8h-3.8zM293.6,260.9h3.8v3.8h-3.8zM298.5,259.7h3.8v3.8h-3.8zM303.3,259.0h3.8v3.8h-3.8zM308.1,258.1h3.8v3.8h-3.8zM313.0,257.7h3.8v3.8h-3.8zM317.8,257.1h3.8v3.8h-3.8zM322.6,256.4h3.8v3.8h-3.8zM327.5,255.8h3.8v3.8h-3.8zM332.3,255.2h3.8v3.8h-3.8zM337.1,254.7h3.8v3.8h-3.8z" fill="#ff0000"/>
</g>
<rect x="51.7" y="0.7" width="290.7" height="234.1" fill="none" stroke="#4c4c4c" stroke-width="1.5"/>
<path d="M52.7,234.8V452.6H341.5V234.8" fill="none" stroke="#262626" stroke-width="1.5"/>
<line x1="51" y1="234.8" x2="343.2" y2="234.8" stroke="#484848" stroke-width="1.8"/>
<path d="M52.2,231.0h4.6M342.2,231.0h-4.6M52.2,449.0h4.6M342.2,449.0h-4.6M52.2,213.2h2.6M342.2,213.2h-2.6M52.2,432.4h2.6M342.2,432.4h-2.6M52.2,195.5h4.6M342.2,195.5h-4.6M52.2,415.9h4.6M342.2,415.9h-4.6M52.2,177.8h2.6M342.2,177.8h-2.6M52.2,399.3h2.6M342.2,399.3h-2.6M52.2,160.0h4.6M342.2,160.0h-4.6M52.2,382.7h4.6M342.2,382.7h-4.6M52.2,142.2h2.6M342.2,142.2h-2.6M52.2,366.1h2.6M342.2,366.1h-2.6M52.2,124.5h4.6M342.2,124.5h-4.6M52.2,349.6h4.6M342.2,349.6h-4.6M52.2,106.8h2.6M342.2,106.8h-2.6M52.2,333.0h2.6M342.2,333.0h-2.6M52.2,89.0h4.6M342.2,89.0h-4.6M52.2,316.4h4.6M342.2,316.4h-4.6M52.2,71.2h2.6M342.2,71.2h-2.6M52.2,299.9h2.6M342.2,299.9h-2.6M52.2,53.5h4.6M342.2,53.5h-4.6M52.2,283.3h4.6M342.2,283.3h-4.6M52.2,35.8h2.6M342.2,35.8h-2.6M52.2,266.7h2.6M342.2,266.7h-2.6M52.2,18.0h4.6M342.2,18.0h-4.6M52.2,250.2h4.6M342.2,250.2h-4.6M52.2,452.6v-4.2M76.4,452.6v-3.2M100.5,452.6v-4.2M124.7,452.6v-3.2M148.9,452.6v-4.2M173.0,452.6v-3.2M197.2,452.6v-4.2M221.4,452.6v-3.2M245.5,452.6v-4.2M269.7,452.6v-3.2M293.9,452.6v-4.2M318.0,452.6v-3.2M342.2,452.6v-4.2M112.6,0.6v4M112.6,234.6v-3.5M173.0,0.6v4M173.0,234.6v-3.5M233.4,0.6v4M233.4,234.6v-3.5M293.9,0.6v4M293.9,234.6v-3.5M52.2,234.6v4M100.5,234.6v4M148.9,234.6v4M197.2,234.6v4M245.5,234.6v4M293.9,234.6v4M342.2,234.6v4" stroke="#2a2a2a" stroke-width="1.1" fill="none"/>
<g font-size="16" fill="#000">
<text x="45.8" y="236.8" text-anchor="end">0</text>
<text x="45.8" y="454.8" text-anchor="end">0</text>
<text x="45.8" y="201.3" text-anchor="end">2</text>
<text x="45.8" y="421.7" text-anchor="end">2</text>
<text x="45.8" y="165.8" text-anchor="end">4</text>
<text x="45.8" y="388.5" text-anchor="end">4</text>
<text x="45.8" y="130.3" text-anchor="end">6</text>
<text x="45.8" y="355.4" text-anchor="end">6</text>
<text x="45.8" y="95.0" text-anchor="end">8</text>
<text x="45.8" y="322.4" text-anchor="end">8</text>
<text x="45.8" y="59.8" text-anchor="end">10</text>
<text x="45.8" y="289.6" text-anchor="end">10</text>
<text x="45.8" y="25.2" text-anchor="end">12</text>
<text x="45.8" y="257.4" text-anchor="end">12</text>
<text x="51.9" y="471.5" font-size="17" text-anchor="middle">20</text>
<text x="100.2" y="471.5" font-size="17" text-anchor="middle">22</text>
<text x="148.6" y="471.5" font-size="17" text-anchor="middle">24</text>
<text x="196.9" y="471.5" font-size="17" text-anchor="middle">26</text>
<text x="245.2" y="471.5" font-size="17" text-anchor="middle">28</text>
<text x="293.6" y="471.5" font-size="17" text-anchor="middle">30</text>
<text x="341.9" y="471.5" font-size="17" text-anchor="middle">32</text>
</g>
<text x="193.8" y="496.5" font-size="23" text-anchor="middle" fill="#000">T (K)</text>
<text transform="translate(16.5,223.6) rotate(-90) scale(1.085,1)" font-size="23" text-anchor="middle" fill="#000">ρ <tspan font-size="18.5">(</tspan>mΩ cm<tspan font-size="18.5">)</tspan></text>
<text x="57.6" y="27.2" font-size="20" fill="#000">(a)</text>
<text x="60" y="248.8" font-size="20" fill="#000">(b)</text>
<text x="105.6" y="39.4" font-size="23.5" fill="#000">H // c</text>
<text x="189.2" y="268.6" font-size="22.5" fill="#000">H</text>
<text transform="translate(220.9,268.6) scale(0.8,1)" font-size="22.5" text-anchor="middle" fill="#000">⊥</text>
<text x="234" y="268.6" font-size="22.5" fill="#000">c</text>
<text x="104.6" y="74.8" font-size="17.8" fill="#000">14 T</text>
<text x="308.8" y="186.3" font-size="18" fill="#000">0 T</text>
<text x="211" y="331.8" font-size="17.5" fill="#000">14 T</text>
<text x="306.5" y="364.3" font-size="17.5" fill="#000">0 T</text>
<line x1="143" y1="74" x2="335.0" y2="167.4" stroke="#333" stroke-width="0.7"/><polygon points="339.5,169.6 334.3,168.8 335.7,166.1" fill="#000"/>
<line x1="236" y1="342.3" x2="321.4" y2="403.1" stroke="#333" stroke-width="0.7"/><polygon points="325.5,406.0 320.6,404.3 322.3,401.9" fill="#000"/>
<g>
<polygon points="61.4,148.7 128.6,148.7 135.7,135.0 68.5,135.0" fill="#66ffff" stroke="#003366" stroke-width="0.5"/><rect x="61.4" y="148.7" width="67.19999999999999" height="9.2" fill="#0099ff" stroke="#003366" stroke-width="0.5"/><polygon points="128.6,148.7 135.7,135.0 135.7,144.2 128.6,157.89999999999998" fill="#0077dd" stroke="#003366" stroke-width="0.5"/>
<polygon points="60,129.3 127.7,129.3 135.7,115.00000000000001 68,115.00000000000001" fill="#66ffff" stroke="#003366" stroke-width="0.5"/><rect x="60" y="129.3" width="67.7" height="10" fill="#0099ff" stroke="#003366" stroke-width="0.5"/><polygon points="127.7,129.3 135.7,115.00000000000001 135.7,125.00000000000001 127.7,139.3" fill="#0077dd" stroke="#003366" stroke-width="0.5"/>
<polygon points="60,110.7 126.6,110.7 135.7,92.7 69.1,92.7" fill="#66ffff" stroke="#003366" stroke-width="0.5"/><rect x="60" y="110.7" width="66.6" height="9.4" fill="#0099ff" stroke="#003366" stroke-width="0.5"/><polygon points="126.6,110.7 135.7,92.7 135.7,102.10000000000001 126.6,120.10000000000001" fill="#0077dd" stroke="#003366" stroke-width="0.5"/>
<line x1="84.3" y1="169" x2="84.3" y2="96" stroke="#000" stroke-width="0.7"/>
<polygon points="84.3,92.8 82.5,97.8 86.1,97.8" fill="#000"/>
<ellipse cx="84.3" cy="107" rx="4.4" ry="2" fill="#f800e0" stroke="#700070" stroke-width="0.5"/>
<ellipse cx="84.3" cy="125.9" rx="4.4" ry="2" fill="#f800e0" stroke="#700070" stroke-width="0.5"/>
<ellipse cx="84.3" cy="144.4" rx="4.4" ry="2" fill="#f800e0" stroke="#700070" stroke-width="0.5"/>
<ellipse cx="119.4" cy="98.4" rx="4.4" ry="2" fill="#f800e0" stroke="#700070" stroke-width="0.5"/>
<line x1="119.4" y1="97" x2="119.4" y2="87" stroke="#000" stroke-width="0.7"/>
<polygon points="119.4,83.6 117.6,88.6 121.2,88.6" fill="#000"/>
<line x1="97.1" y1="105.9" x2="119.5" y2="105.9" stroke="#000" stroke-width="0.7"/>
<polygon points="122.6,105.9 117.8,104.2 117.8,107.6" fill="#000"/>
<text x="107.6" y="103.8" font-size="9.5" text-anchor="middle" font-family="'Liberation Mono',monospace" fill="#000">I</text>
<line x1="83" y1="108.5" x2="75.5" y2="116.3" stroke="#000" stroke-width="0.7" stroke-dasharray="1.6,1.2"/>
<polygon points="74,118 77.5,116.8 75.3,114.6" fill="#000"/>
<line x1="83" y1="127.2" x2="76.3" y2="133.4" stroke="#000" stroke-width="0.7" stroke-dasharray="1.6,1.2"/>
<polygon points="74.8,134.8 78.3,133.8 76.2,131.5" fill="#000"/>
<text x="67.2" y="119.4" font-size="9.5" font-family="'Liberation Mono',monospace" fill="#000">F</text>
<text x="70.8" y="123.2" font-size="6.5" font-family="'Liberation Mono',monospace" fill="#000">L</text>
<text x="89.6" y="166.3" font-size="9.5" font-family="'Liberation Mono',monospace" fill="#000">H</text>
</g>
<g>
<polygon points="87.9,320 157.9,320 165.0,305.7 95.0,305.7" fill="#66ffff" stroke="#003366" stroke-width="0.5"/><rect x="87.9" y="320" width="70.0" height="8.6" fill="#0099ff" stroke="#003366" stroke-width="0.5"/><polygon points="157.9,320 165.0,305.7 165.0,314.3 157.9,328.6" fill="#0077dd" stroke="#003366" stroke-width="0.5"/>
<polygon points="87,301.4 156.4,301.4 165.0,285.7 95.6,285.7" fill="#66ffff" stroke="#003366" stroke-width="0.5"/><rect x="87" y="301.4" width="69.4" height="9.2" fill="#0099ff" stroke="#003366" stroke-width="0.5"/><polygon points="156.4,301.4 165.0,285.7 165.0,294.9 156.4,310.59999999999997" fill="#0077dd" stroke="#003366" stroke-width="0.5"/>
<polygon points="85.9,282.9 155,282.9 165,264.29999999999995 95.9,264.29999999999995" fill="#66ffff" stroke="#003366" stroke-width="0.5"/><rect x="85.9" y="282.9" width="69.1" height="8.5" fill="#0099ff" stroke="#003366" stroke-width="0.5"/><polygon points="155,282.9 165,264.29999999999995 165,272.79999999999995 155,291.4" fill="#0077dd" stroke="#003366" stroke-width="0.5"/>
<polygon points="117.9,264.6 123.3,264.6 110.1,291.3 104.7,291.3" fill="#ff00ff" stroke="#330033" stroke-width="0.7"/><line x1="119.69999999999999" y1="265.40000000000003" x2="106.5" y2="290.5" stroke="#2a002a" stroke-width="1.1" stroke-dasharray="1,1.5"/><line x1="121.69999999999999" y1="266.6" x2="108.5" y2="291.1" stroke="#2a002a" stroke-width="1.1" stroke-dasharray="1,1.5"/>
<polygon points="112.7,292.6 118.1,292.6 107.7,310.8 102.3,310.8" fill="#ff00ff" stroke="#330033" stroke-width="0.7"/><line x1="114.5" y1="293.40000000000003" x2="104.1" y2="310.0" stroke="#2a002a" stroke-width="1.1" stroke-dasharray="1,1.5"/><line x1="116.5" y1="294.6" x2="106.1" y2="310.6" stroke="#2a002a" stroke-width="1.1" stroke-dasharray="1,1.5"/>
<polygon points="113.1,312.1 118.5,312.1 110.1,329.2 104.7,329.2" fill="#ff00ff" stroke="#330033" stroke-width="0.7"/><line x1="114.89999999999999" y1="312.90000000000003" x2="106.5" y2="328.4" stroke="#2a002a" stroke-width="1.1" stroke-dasharray="1,1.5"/><line x1="116.89999999999999" y1="314.1" x2="108.5" y2="329.0" stroke="#2a002a" stroke-width="1.1" stroke-dasharray="1,1.5"/>
<line x1="110.8" y1="279.5" x2="110.8" y2="276.0" stroke="#000" stroke-width="0.7"/>
<polygon points="110.8,273.2 109.2,277.2 112.39999999999999,277.2" fill="#000"/>
<line x1="106.9" y1="302.8" x2="106.9" y2="295.8" stroke="#000" stroke-width="0.7"/>
<polygon points="106.9,293.0 105.30000000000001,297.0 108.5,297.0" fill="#000"/>
<line x1="107.2" y1="321.4" x2="107.2" y2="314.9" stroke="#000" stroke-width="0.7"/>
<polygon points="107.2,312.09999999999997 105.60000000000001,316.09999999999997 108.8,316.09999999999997" fill="#000"/>
<line x1="120.9" y1="264" x2="120.9" y2="257" stroke="#000" stroke-width="0.9"/>
<polygon points="120.9,253.6 119,258.2 122.8,258.2" fill="#000"/>
<path d="M122.3,263.5l2.2,-3.2" stroke="#000" stroke-width="0.7"/>
<polygon points="125.3,259 122.9,260.2 124.9,261.6" fill="#000"/>
<text x="111.4" y="259" font-size="8.5" font-family="'Liberation Mono',monospace" fill="#000">F</text>
<text x="115.3" y="261.4" font-size="5.5" font-family="'Liberation Mono',monospace" fill="#000">L</text>
<text x="126.8" y="260.6" font-size="8.5" font-family="'Liberation Mono',monospace" fill="#000">H</text>
<text x="135.2" y="275.2" font-size="8.5" text-anchor="middle" font-family="'Liberation Mono',monospace" fill="#000">I</text>
<line x1="126.4" y1="277.7" x2="148.5" y2="277.7" stroke="#000" stroke-width="0.7"/>
<polygon points="151,277.7 147,276.2 147,279.2" fill="#000"/>
</g>
<g font-family="'Liberation Serif','Times New Roman',serif">
<rect x="76.7" y="336.4" width="122.8" height="89.80000000000001" fill="#fff" stroke="#444" stroke-width="0.6"/>
<path d="M76.7,426.2h2.2M199.5,426.2h-2.2M76.7,421.2h1.2M199.5,421.2h-1.2M76.7,416.2h2.2M199.5,416.2h-2.2M76.7,411.2h1.2M199.5,411.2h-1.2M76.7,406.2h2.2M199.5,406.2h-2.2M76.7,401.2h1.2M199.5,401.2h-1.2M76.7,396.3h2.2M199.5,396.3h-2.2M76.7,391.3h1.2M199.5,391.3h-1.2M76.7,386.3h2.2M199.5,386.3h-2.2M76.7,381.3h1.2M199.5,381.3h-1.2M76.7,376.3h2.2M199.5,376.3h-2.2M76.7,371.3h1.2M199.5,371.3h-1.2M76.7,366.3h2.2M199.5,366.3h-2.2M76.7,361.3h1.2M199.5,361.3h-1.2M76.7,356.3h2.2M199.5,356.3h-2.2M76.7,351.4h1.2M199.5,351.4h-1.2M76.7,346.4h2.2M199.5,346.4h-2.2M76.7,341.4h1.2M199.5,341.4h-1.2M76.7,336.4h2.2M199.5,336.4h-2.2M76.7,426.2v-2.2M76.7,336.4v2.2M83.9,426.2v-1.2M83.9,336.4v1.2M91.1,426.2v-1.2M91.1,336.4v1.2M98.3,426.2v-2.2M98.3,336.4v2.2M105.5,426.2v-1.2M105.5,336.4v1.2M112.7,426.2v-1.2M112.7,336.4v1.2M119.9,426.2v-2.2M119.9,336.4v2.2M127.1,426.2v-1.2M127.1,336.4v1.2M134.3,426.2v-1.2M134.3,336.4v1.2M141.5,426.2v-2.2M141.5,336.4v2.2M148.7,426.2v-1.2M148.7,336.4v1.2M155.9,426.2v-1.2M155.9,336.4v1.2M163.1,426.2v-2.2M163.1,336.4v2.2M170.3,426.2v-1.2M170.3,336.4v1.2M177.5,426.2v-1.2M177.5,336.4v1.2M184.7,426.2v-2.2M184.7,336.4v2.2M191.9,426.2v-1.2M191.9,336.4v1.2" stroke="#555" stroke-width="0.5" fill="none"/>
<g font-size="6.2" fill="#000">
<text x="74.6" y="428.1" text-anchor="end">3.6</text>
<text x="74.6" y="418.1" text-anchor="end">3.8</text>
<text x="74.6" y="408.1" text-anchor="end">4.0</text>
<text x="74.6" y="398.2" text-anchor="end">4.2</text>
<text x="74.6" y="388.2" text-anchor="end">4.4</text>
<text x="74.6" y="378.2" text-anchor="end">4.6</text>
<text x="74.6" y="368.2" text-anchor="end">4.8</text>
<text x="74.6" y="358.2" text-anchor="end">5.0</text>
<text x="74.6" y="348.3" text-anchor="end">5.2</text>
<text x="74.6" y="338.3" text-anchor="end">5.4</text>
<text x="76.7" y="433.4" text-anchor="middle">28.2</text>
<text x="98.3" y="433.4" text-anchor="middle">28.5</text>
<text x="119.9" y="433.4" text-anchor="middle">28.8</text>
<text x="141.5" y="433.4" text-anchor="middle">29.1</text>
<text x="163.1" y="433.4" text-anchor="middle">29.4</text>
<text x="184.7" y="433.4" text-anchor="middle">29.7</text>
</g>
<text x="138.6" y="442.4" font-size="7.6" font-weight="bold" text-anchor="middle" fill="#111">T (K)</text>
<text x="61.8" y="386.6" font-size="8" text-anchor="middle" fill="#000">γ</text>
<polyline points="85.9,418.8 105.7,413.6 125.9,407.9 144.2,400.5 161.3,385.7 176.2,370 190.1,346.5" fill="none" stroke="#444" stroke-width="0.6"/>
<rect x="83.2" y="416.1" width="5.4" height="5.4" fill="#fff" stroke="#444" stroke-width="0.6"/>
<rect x="103.0" y="410.90000000000003" width="5.4" height="5.4" fill="#fff" stroke="#444" stroke-width="0.6"/>
<rect x="123.2" y="405.2" width="5.4" height="5.4" fill="#fff" stroke="#444" stroke-width="0.6"/>
<rect x="141.5" y="397.8" width="5.4" height="5.4" fill="#fff" stroke="#444" stroke-width="0.6"/>
<rect x="158.60000000000002" y="383.0" width="5.4" height="5.4" fill="#fff" stroke="#444" stroke-width="0.6"/>
<rect x="173.5" y="367.3" width="5.4" height="5.4" fill="#fff" stroke="#444" stroke-width="0.6"/>
<rect x="187.4" y="343.8" width="5.4" height="5.4" fill="#fff" stroke="#444" stroke-width="0.6"/>
<line x1="92.7" y1="345.6" x2="114.9" y2="345.6" stroke="#444" stroke-width="0.6"/>
<rect x="101" y="342.9" width="5.4" height="5.4" fill="#fff" stroke="#444" stroke-width="0.6"/>
<text x="120.3" y="347.6" font-size="9.5" fill="#000">γ</text>
</g>
</svg>
</body></html>
